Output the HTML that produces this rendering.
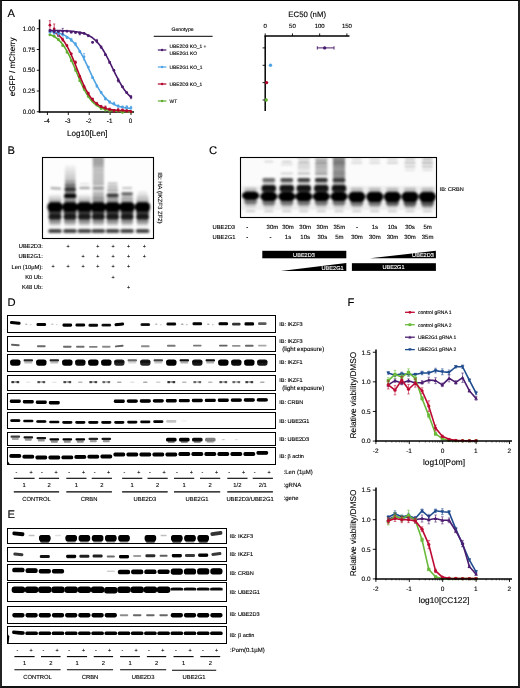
<!DOCTYPE html>
<html><head><meta charset="utf-8"><title>Figure</title>
<style>
html,body{margin:0;padding:0;background:#fff;}
body{width:520px;height:688px;overflow:hidden;position:relative;}
svg{position:absolute;left:0;top:0;display:block;font-family:"Liberation Sans", Arial, sans-serif;}
svg text{text-rendering:geometricPrecision;stroke:#000;stroke-width:0.12px;}
svg text.w{stroke:#fff;}
svg line.cr{shape-rendering:crispEdges;}
#frame{position:absolute;left:0;top:0;box-sizing:border-box;width:520px;height:688px;border-style:solid;border-color:#000;border-width:1px 2px 2px 2px;border-color:#000 #222 #111 #222;}
</style></head><body>
<svg width="520" height="688" viewBox="0 0 520 688">
<defs>
<clipPath id="c1"><rect x="42.00" y="157.50" width="111.00" height="80.80"/></clipPath>
<clipPath id="c2"><rect x="240.20" y="157.30" width="196.20" height="60.50"/></clipPath>
<clipPath id="c3"><rect x="7.30" y="315.60" width="267.80" height="16.90"/></clipPath>
<clipPath id="c4"><rect x="7.30" y="336.70" width="267.80" height="14.50"/></clipPath>
<clipPath id="c5"><rect x="7.30" y="354.60" width="267.80" height="16.70"/></clipPath>
<clipPath id="c6"><rect x="7.30" y="375.20" width="267.80" height="15.10"/></clipPath>
<clipPath id="c7"><rect x="7.30" y="393.70" width="267.80" height="15.30"/></clipPath>
<clipPath id="c8"><rect x="7.30" y="412.50" width="267.80" height="16.30"/></clipPath>
<clipPath id="c9"><rect x="7.30" y="432.10" width="267.80" height="12.90"/></clipPath>
<clipPath id="c10"><rect x="7.30" y="447.50" width="267.80" height="17.30"/></clipPath>
<clipPath id="c11"><rect x="7.80" y="528.10" width="218.80" height="15.30"/></clipPath>
<clipPath id="c12"><rect x="7.80" y="547.40" width="218.80" height="14.40"/></clipPath>
<clipPath id="c13"><rect x="7.80" y="564.10" width="218.80" height="15.90"/></clipPath>
<clipPath id="c14"><rect x="7.80" y="582.90" width="218.80" height="18.70"/></clipPath>
<clipPath id="c15"><rect x="7.80" y="606.00" width="218.80" height="17.30"/></clipPath>
<clipPath id="c16"><rect x="7.80" y="626.10" width="218.80" height="17.30"/></clipPath>
<linearGradient id="gB1" x1="0" y1="0" x2="0" y2="1"><stop offset="0" stop-color="#000" stop-opacity="0.03"/><stop offset="0.5" stop-color="#000" stop-opacity="0.22"/><stop offset="1" stop-color="#000" stop-opacity="0.5"/></linearGradient>
<linearGradient id="gB3" x1="0" y1="0" x2="0" y2="1"><stop offset="0" stop-color="#000" stop-opacity="0.0"/><stop offset="0.6" stop-color="#000" stop-opacity="0.22"/><stop offset="1" stop-color="#000" stop-opacity="0.5"/></linearGradient>
<linearGradient id="gB2" x1="0" y1="0" x2="0" y2="1"><stop offset="0" stop-color="#000" stop-opacity="0.3"/><stop offset="0.35" stop-color="#000" stop-opacity="0.14"/><stop offset="1" stop-color="#000" stop-opacity="0.2"/></linearGradient>
<filter id="b5" x="-5%" y="-5%" width="110%" height="110%"><feGaussianBlur stdDeviation="0.5"/></filter>
<filter id="b6" x="-5%" y="-5%" width="110%" height="110%"><feGaussianBlur stdDeviation="0.6"/></filter>
<filter id="b7" x="-5%" y="-5%" width="110%" height="110%"><feGaussianBlur stdDeviation="0.7"/></filter>
<filter id="b8" x="-5%" y="-5%" width="110%" height="110%"><feGaussianBlur stdDeviation="0.8"/></filter>
<filter id="b9" x="-5%" y="-5%" width="110%" height="110%"><feGaussianBlur stdDeviation="0.9"/></filter>
<filter id="b10" x="-5%" y="-5%" width="110%" height="110%"><feGaussianBlur stdDeviation="1.0"/></filter>
</defs>
<rect x="0" y="0" width="520" height="688" fill="#fff"/>
<text x="7.60" y="17.40" font-size="11.2" text-anchor="start" fill="#000">A</text>
<text x="7.40" y="154.00" font-size="11.2" text-anchor="start" fill="#000">B</text>
<text x="209.00" y="154.30" font-size="11.2" text-anchor="start" fill="#000">C</text>
<text x="7.40" y="306.20" font-size="11.2" text-anchor="start" fill="#000">D</text>
<text x="7.60" y="518.40" font-size="11.2" text-anchor="start" fill="#000">E</text>
<text x="347.50" y="306.30" font-size="11.2" text-anchor="start" fill="#000">F</text>
<line x1="39.50" y1="19.50" x2="39.50" y2="112.60" stroke="#000" stroke-width="1.5"/>
<line x1="38.80" y1="111.90" x2="134.00" y2="111.90" stroke="#000" stroke-width="1.5"/>
<line x1="36.80" y1="28.75" x2="39.50" y2="28.75" stroke="#000" stroke-width="0.9"/>
<text x="34.90" y="30.95" font-size="6.3" text-anchor="end" fill="#000">1.00</text>
<line x1="36.80" y1="49.50" x2="39.50" y2="49.50" stroke="#000" stroke-width="0.9"/>
<text x="34.90" y="51.70" font-size="6.3" text-anchor="end" fill="#000">0.75</text>
<line x1="36.80" y1="70.25" x2="39.50" y2="70.25" stroke="#000" stroke-width="0.9"/>
<text x="34.90" y="72.45" font-size="6.3" text-anchor="end" fill="#000">0.50</text>
<line x1="36.80" y1="91.00" x2="39.50" y2="91.00" stroke="#000" stroke-width="0.9"/>
<text x="34.90" y="93.20" font-size="6.3" text-anchor="end" fill="#000">0.25</text>
<line x1="36.80" y1="111.75" x2="39.50" y2="111.75" stroke="#000" stroke-width="0.9"/>
<text x="34.90" y="113.95" font-size="6.3" text-anchor="end" fill="#000">0.00</text>
<line x1="47.40" y1="111.90" x2="47.40" y2="115.00" stroke="#000" stroke-width="0.9"/>
<text x="46.90" y="122.80" font-size="6.3" text-anchor="middle" fill="#000">-4</text>
<line x1="68.30" y1="111.90" x2="68.30" y2="115.00" stroke="#000" stroke-width="0.9"/>
<text x="67.80" y="122.80" font-size="6.3" text-anchor="middle" fill="#000">-3</text>
<line x1="89.20" y1="111.90" x2="89.20" y2="115.00" stroke="#000" stroke-width="0.9"/>
<text x="88.70" y="122.80" font-size="6.3" text-anchor="middle" fill="#000">-2</text>
<line x1="110.10" y1="111.90" x2="110.10" y2="115.00" stroke="#000" stroke-width="0.9"/>
<text x="109.60" y="122.80" font-size="6.3" text-anchor="middle" fill="#000">-1</text>
<line x1="131.00" y1="111.90" x2="131.00" y2="115.00" stroke="#000" stroke-width="0.9"/>
<text x="130.50" y="122.80" font-size="6.3" text-anchor="middle" fill="#000">0</text>
<text x="87.20" y="135.90" font-size="8.1" text-anchor="middle" fill="#000">Log10[Len]</text>
<text x="14.60" y="66.80" font-size="8.1" text-anchor="middle" fill="#000" transform="rotate(-90 14.60 66.80)">eGFP / mCherry</text>
<path d="M49.49,34.36 L50.53,34.75 L51.58,35.20 L52.62,35.70 L53.67,36.26 L54.71,36.88 L55.76,37.58 L56.80,38.35 L57.85,39.21 L58.89,40.16 L59.94,41.20 L60.98,42.35 L62.03,43.61 L63.07,44.98 L64.12,46.47 L65.16,48.08 L66.21,49.81 L67.25,51.66 L68.30,53.63 L69.34,55.72 L70.39,57.91 L71.43,60.19 L72.48,62.55 L73.52,64.99 L74.57,67.47 L75.61,69.98 L76.66,72.51 L77.70,75.02 L78.75,77.51 L79.79,79.95 L80.84,82.33 L81.88,84.64 L82.93,86.84 L83.97,88.95 L85.02,90.94 L86.06,92.82 L87.11,94.58 L88.15,96.21 L89.20,97.72 L90.24,99.12 L91.29,100.40 L92.33,101.57 L93.38,102.63 L94.42,103.60 L95.47,104.47 L96.51,105.26 L97.56,105.97 L98.60,106.61 L99.65,107.18 L100.69,107.69 L101.74,108.15 L102.78,108.56 L103.83,108.92 L104.87,109.24 L105.92,109.53 L106.96,109.79 L108.01,110.01 L109.05,110.21 L110.10,110.39 L111.14,110.55 L112.19,110.69 L113.23,110.81 L114.28,110.92 L115.32,111.02 L116.37,111.11 L117.41,111.18 L118.46,111.25 L119.50,111.31 L120.55,111.36 L121.59,111.40 L122.64,111.44 L123.68,111.48 L124.73,111.51 L125.77,111.54 L126.82,111.57 L127.86,111.59 L128.91,111.61 L129.95,111.62 L131.00,111.64" fill="none" stroke="#5fae2e" stroke-width="1.6" stroke-linejoin="round"/>
<line x1="49.91" y1="35.53" x2="49.91" y2="34.19" stroke="#5fae2e" stroke-width="0.7"/>
<line x1="48.81" y1="35.53" x2="51.01" y2="35.53" stroke="#5fae2e" stroke-width="0.6"/>
<line x1="48.81" y1="34.19" x2="51.01" y2="34.19" stroke="#5fae2e" stroke-width="0.6"/>
<circle cx="49.91" cy="34.86" r="1.35" fill="#5fae2e"/>
<line x1="54.18" y1="36.84" x2="54.18" y2="35.67" stroke="#5fae2e" stroke-width="0.7"/>
<line x1="53.08" y1="36.84" x2="55.28" y2="36.84" stroke="#5fae2e" stroke-width="0.6"/>
<line x1="53.08" y1="35.67" x2="55.28" y2="35.67" stroke="#5fae2e" stroke-width="0.6"/>
<circle cx="54.18" cy="36.25" r="1.35" fill="#5fae2e"/>
<line x1="58.44" y1="40.59" x2="58.44" y2="38.74" stroke="#5fae2e" stroke-width="0.7"/>
<line x1="57.34" y1="40.59" x2="59.54" y2="40.59" stroke="#5fae2e" stroke-width="0.6"/>
<line x1="57.34" y1="38.74" x2="59.54" y2="38.74" stroke="#5fae2e" stroke-width="0.6"/>
<circle cx="58.44" cy="39.66" r="1.35" fill="#5fae2e"/>
<line x1="62.71" y1="46.46" x2="62.71" y2="44.28" stroke="#5fae2e" stroke-width="0.7"/>
<line x1="61.61" y1="46.46" x2="63.81" y2="46.46" stroke="#5fae2e" stroke-width="0.6"/>
<line x1="61.61" y1="44.28" x2="63.81" y2="44.28" stroke="#5fae2e" stroke-width="0.6"/>
<circle cx="62.71" cy="45.37" r="1.35" fill="#5fae2e"/>
<line x1="66.98" y1="53.09" x2="66.98" y2="51.08" stroke="#5fae2e" stroke-width="0.7"/>
<line x1="65.88" y1="53.09" x2="68.08" y2="53.09" stroke="#5fae2e" stroke-width="0.6"/>
<line x1="65.88" y1="51.08" x2="68.08" y2="51.08" stroke="#5fae2e" stroke-width="0.6"/>
<circle cx="66.98" cy="52.08" r="1.35" fill="#5fae2e"/>
<line x1="71.25" y1="61.23" x2="71.25" y2="60.03" stroke="#5fae2e" stroke-width="0.7"/>
<line x1="70.15" y1="61.23" x2="72.35" y2="61.23" stroke="#5fae2e" stroke-width="0.6"/>
<line x1="70.15" y1="60.03" x2="72.35" y2="60.03" stroke="#5fae2e" stroke-width="0.6"/>
<circle cx="71.25" cy="60.63" r="1.35" fill="#5fae2e"/>
<line x1="75.52" y1="71.35" x2="75.52" y2="68.43" stroke="#5fae2e" stroke-width="0.7"/>
<line x1="74.42" y1="71.35" x2="76.62" y2="71.35" stroke="#5fae2e" stroke-width="0.6"/>
<line x1="74.42" y1="68.43" x2="76.62" y2="68.43" stroke="#5fae2e" stroke-width="0.6"/>
<circle cx="75.52" cy="69.89" r="1.35" fill="#5fae2e"/>
<line x1="79.78" y1="81.44" x2="79.78" y2="79.92" stroke="#5fae2e" stroke-width="0.7"/>
<line x1="78.68" y1="81.44" x2="80.88" y2="81.44" stroke="#5fae2e" stroke-width="0.6"/>
<line x1="78.68" y1="79.92" x2="80.88" y2="79.92" stroke="#5fae2e" stroke-width="0.6"/>
<circle cx="79.78" cy="80.68" r="1.35" fill="#5fae2e"/>
<line x1="84.05" y1="90.45" x2="84.05" y2="87.25" stroke="#5fae2e" stroke-width="0.7"/>
<line x1="82.95" y1="90.45" x2="85.15" y2="90.45" stroke="#5fae2e" stroke-width="0.6"/>
<line x1="82.95" y1="87.25" x2="85.15" y2="87.25" stroke="#5fae2e" stroke-width="0.6"/>
<circle cx="84.05" cy="88.85" r="1.35" fill="#5fae2e"/>
<line x1="88.32" y1="97.26" x2="88.32" y2="95.35" stroke="#5fae2e" stroke-width="0.7"/>
<line x1="87.22" y1="97.26" x2="89.42" y2="97.26" stroke="#5fae2e" stroke-width="0.6"/>
<line x1="87.22" y1="95.35" x2="89.42" y2="95.35" stroke="#5fae2e" stroke-width="0.6"/>
<circle cx="88.32" cy="96.30" r="1.35" fill="#5fae2e"/>
<line x1="92.59" y1="101.44" x2="92.59" y2="100.33" stroke="#5fae2e" stroke-width="0.7"/>
<line x1="91.49" y1="101.44" x2="93.69" y2="101.44" stroke="#5fae2e" stroke-width="0.6"/>
<line x1="91.49" y1="100.33" x2="93.69" y2="100.33" stroke="#5fae2e" stroke-width="0.6"/>
<circle cx="92.59" cy="100.89" r="1.35" fill="#5fae2e"/>
<line x1="96.86" y1="105.62" x2="96.86" y2="103.95" stroke="#5fae2e" stroke-width="0.7"/>
<line x1="95.76" y1="105.62" x2="97.96" y2="105.62" stroke="#5fae2e" stroke-width="0.6"/>
<line x1="95.76" y1="103.95" x2="97.96" y2="103.95" stroke="#5fae2e" stroke-width="0.6"/>
<circle cx="96.86" cy="104.79" r="1.35" fill="#5fae2e"/>
<line x1="101.12" y1="109.23" x2="101.12" y2="107.96" stroke="#5fae2e" stroke-width="0.7"/>
<line x1="100.02" y1="109.23" x2="102.22" y2="109.23" stroke="#5fae2e" stroke-width="0.6"/>
<line x1="100.02" y1="107.96" x2="102.22" y2="107.96" stroke="#5fae2e" stroke-width="0.6"/>
<circle cx="101.12" cy="108.60" r="1.35" fill="#5fae2e"/>
<line x1="105.39" y1="111.22" x2="105.39" y2="108.33" stroke="#5fae2e" stroke-width="0.7"/>
<line x1="104.29" y1="111.22" x2="106.49" y2="111.22" stroke="#5fae2e" stroke-width="0.6"/>
<line x1="104.29" y1="108.33" x2="106.49" y2="108.33" stroke="#5fae2e" stroke-width="0.6"/>
<circle cx="105.39" cy="109.77" r="1.35" fill="#5fae2e"/>
<line x1="109.66" y1="112.13" x2="109.66" y2="109.78" stroke="#5fae2e" stroke-width="0.7"/>
<line x1="108.56" y1="112.13" x2="110.76" y2="112.13" stroke="#5fae2e" stroke-width="0.6"/>
<line x1="108.56" y1="109.78" x2="110.76" y2="109.78" stroke="#5fae2e" stroke-width="0.6"/>
<circle cx="109.66" cy="110.96" r="1.35" fill="#5fae2e"/>
<line x1="113.93" y1="111.54" x2="113.93" y2="109.68" stroke="#5fae2e" stroke-width="0.7"/>
<line x1="112.83" y1="111.54" x2="115.03" y2="111.54" stroke="#5fae2e" stroke-width="0.6"/>
<line x1="112.83" y1="109.68" x2="115.03" y2="109.68" stroke="#5fae2e" stroke-width="0.6"/>
<circle cx="113.93" cy="110.61" r="1.35" fill="#5fae2e"/>
<line x1="118.20" y1="111.71" x2="118.20" y2="110.57" stroke="#5fae2e" stroke-width="0.7"/>
<line x1="117.10" y1="111.71" x2="119.30" y2="111.71" stroke="#5fae2e" stroke-width="0.6"/>
<line x1="117.10" y1="110.57" x2="119.30" y2="110.57" stroke="#5fae2e" stroke-width="0.6"/>
<circle cx="118.20" cy="111.14" r="1.35" fill="#5fae2e"/>
<line x1="122.46" y1="113.05" x2="122.46" y2="111.58" stroke="#5fae2e" stroke-width="0.7"/>
<line x1="121.36" y1="113.05" x2="123.56" y2="113.05" stroke="#5fae2e" stroke-width="0.6"/>
<line x1="121.36" y1="111.58" x2="123.56" y2="111.58" stroke="#5fae2e" stroke-width="0.6"/>
<circle cx="122.46" cy="112.32" r="1.35" fill="#5fae2e"/>
<line x1="126.73" y1="112.20" x2="126.73" y2="110.21" stroke="#5fae2e" stroke-width="0.7"/>
<line x1="125.63" y1="112.20" x2="127.83" y2="112.20" stroke="#5fae2e" stroke-width="0.6"/>
<line x1="125.63" y1="110.21" x2="127.83" y2="110.21" stroke="#5fae2e" stroke-width="0.6"/>
<circle cx="126.73" cy="111.20" r="1.35" fill="#5fae2e"/>
<line x1="131.00" y1="113.19" x2="131.00" y2="110.83" stroke="#5fae2e" stroke-width="0.7"/>
<line x1="129.90" y1="113.19" x2="132.10" y2="113.19" stroke="#5fae2e" stroke-width="0.6"/>
<line x1="129.90" y1="110.83" x2="132.10" y2="110.83" stroke="#5fae2e" stroke-width="0.6"/>
<circle cx="131.00" cy="112.01" r="1.35" fill="#5fae2e"/>
<path d="M49.49,29.95 L50.53,30.32 L51.58,30.74 L52.62,31.21 L53.67,31.73 L54.71,32.32 L55.76,32.98 L56.80,33.71 L57.85,34.52 L58.89,35.43 L59.94,36.43 L60.98,37.53 L62.03,38.74 L63.07,40.07 L64.12,41.52 L65.16,43.10 L66.21,44.80 L67.25,46.64 L68.30,48.60 L69.34,50.69 L70.39,52.89 L71.43,55.21 L72.48,57.62 L73.52,60.12 L74.57,62.68 L75.61,65.30 L76.66,67.94 L77.70,70.60 L78.75,73.24 L79.79,75.84 L80.84,78.40 L81.88,80.88 L82.93,83.27 L83.97,85.57 L85.02,87.75 L86.06,89.81 L87.11,91.75 L88.15,93.56 L89.20,95.24 L90.24,96.79 L91.29,98.21 L92.33,99.52 L93.38,100.71 L94.42,101.79 L95.47,102.77 L96.51,103.66 L97.56,104.46 L98.60,105.17 L99.65,105.81 L100.69,106.39 L101.74,106.90 L102.78,107.36 L103.83,107.77 L104.87,108.13 L105.92,108.45 L106.96,108.74 L108.01,108.99 L109.05,109.22 L110.10,109.42 L111.14,109.59 L112.19,109.75 L113.23,109.88 L114.28,110.01 L115.32,110.11 L116.37,110.21 L117.41,110.29 L118.46,110.37 L119.50,110.43 L120.55,110.49 L121.59,110.54 L122.64,110.59 L123.68,110.63 L124.73,110.66 L125.77,110.69 L126.82,110.72 L127.86,110.74 L128.91,110.76 L129.95,110.78 L131.00,110.80" fill="none" stroke="#b3062c" stroke-width="1.6" stroke-linejoin="round"/>
<line x1="49.91" y1="29.77" x2="49.91" y2="20.64" stroke="#b3062c" stroke-width="0.7"/>
<line x1="48.81" y1="29.77" x2="51.01" y2="29.77" stroke="#b3062c" stroke-width="0.6"/>
<line x1="48.81" y1="20.64" x2="51.01" y2="20.64" stroke="#b3062c" stroke-width="0.6"/>
<circle cx="49.91" cy="25.21" r="1.35" fill="#b3062c"/>
<line x1="54.18" y1="33.91" x2="54.18" y2="23.95" stroke="#b3062c" stroke-width="0.7"/>
<line x1="53.08" y1="33.91" x2="55.28" y2="33.91" stroke="#b3062c" stroke-width="0.6"/>
<line x1="53.08" y1="23.95" x2="55.28" y2="23.95" stroke="#b3062c" stroke-width="0.6"/>
<circle cx="54.18" cy="28.93" r="1.35" fill="#b3062c"/>
<line x1="58.44" y1="36.70" x2="58.44" y2="34.37" stroke="#b3062c" stroke-width="0.7"/>
<line x1="57.34" y1="36.70" x2="59.54" y2="36.70" stroke="#b3062c" stroke-width="0.6"/>
<line x1="57.34" y1="34.37" x2="59.54" y2="34.37" stroke="#b3062c" stroke-width="0.6"/>
<circle cx="58.44" cy="35.53" r="1.35" fill="#b3062c"/>
<line x1="62.71" y1="41.06" x2="62.71" y2="38.03" stroke="#b3062c" stroke-width="0.7"/>
<line x1="61.61" y1="41.06" x2="63.81" y2="41.06" stroke="#b3062c" stroke-width="0.6"/>
<line x1="61.61" y1="38.03" x2="63.81" y2="38.03" stroke="#b3062c" stroke-width="0.6"/>
<circle cx="62.71" cy="39.55" r="1.35" fill="#b3062c"/>
<line x1="66.98" y1="46.52" x2="66.98" y2="44.85" stroke="#b3062c" stroke-width="0.7"/>
<line x1="65.88" y1="46.52" x2="68.08" y2="46.52" stroke="#b3062c" stroke-width="0.6"/>
<line x1="65.88" y1="44.85" x2="68.08" y2="44.85" stroke="#b3062c" stroke-width="0.6"/>
<circle cx="66.98" cy="45.69" r="1.35" fill="#b3062c"/>
<line x1="71.25" y1="54.46" x2="71.25" y2="53.19" stroke="#b3062c" stroke-width="0.7"/>
<line x1="70.15" y1="54.46" x2="72.35" y2="54.46" stroke="#b3062c" stroke-width="0.6"/>
<line x1="70.15" y1="53.19" x2="72.35" y2="53.19" stroke="#b3062c" stroke-width="0.6"/>
<circle cx="71.25" cy="53.83" r="1.35" fill="#b3062c"/>
<line x1="75.52" y1="63.69" x2="75.52" y2="60.93" stroke="#b3062c" stroke-width="0.7"/>
<line x1="74.42" y1="63.69" x2="76.62" y2="63.69" stroke="#b3062c" stroke-width="0.6"/>
<line x1="74.42" y1="60.93" x2="76.62" y2="60.93" stroke="#b3062c" stroke-width="0.6"/>
<circle cx="75.52" cy="62.31" r="1.35" fill="#b3062c"/>
<line x1="79.78" y1="77.58" x2="79.78" y2="75.44" stroke="#b3062c" stroke-width="0.7"/>
<line x1="78.68" y1="77.58" x2="80.88" y2="77.58" stroke="#b3062c" stroke-width="0.6"/>
<line x1="78.68" y1="75.44" x2="80.88" y2="75.44" stroke="#b3062c" stroke-width="0.6"/>
<circle cx="79.78" cy="76.51" r="1.35" fill="#b3062c"/>
<line x1="84.05" y1="87.93" x2="84.05" y2="85.38" stroke="#b3062c" stroke-width="0.7"/>
<line x1="82.95" y1="87.93" x2="85.15" y2="87.93" stroke="#b3062c" stroke-width="0.6"/>
<line x1="82.95" y1="85.38" x2="85.15" y2="85.38" stroke="#b3062c" stroke-width="0.6"/>
<circle cx="84.05" cy="86.65" r="1.35" fill="#b3062c"/>
<line x1="88.32" y1="94.47" x2="88.32" y2="92.14" stroke="#b3062c" stroke-width="0.7"/>
<line x1="87.22" y1="94.47" x2="89.42" y2="94.47" stroke="#b3062c" stroke-width="0.6"/>
<line x1="87.22" y1="92.14" x2="89.42" y2="92.14" stroke="#b3062c" stroke-width="0.6"/>
<circle cx="88.32" cy="93.30" r="1.35" fill="#b3062c"/>
<line x1="92.59" y1="99.93" x2="92.59" y2="98.21" stroke="#b3062c" stroke-width="0.7"/>
<line x1="91.49" y1="99.93" x2="93.69" y2="99.93" stroke="#b3062c" stroke-width="0.6"/>
<line x1="91.49" y1="98.21" x2="93.69" y2="98.21" stroke="#b3062c" stroke-width="0.6"/>
<circle cx="92.59" cy="99.07" r="1.35" fill="#b3062c"/>
<line x1="96.86" y1="104.73" x2="96.86" y2="102.35" stroke="#b3062c" stroke-width="0.7"/>
<line x1="95.76" y1="104.73" x2="97.96" y2="104.73" stroke="#b3062c" stroke-width="0.6"/>
<line x1="95.76" y1="102.35" x2="97.96" y2="102.35" stroke="#b3062c" stroke-width="0.6"/>
<circle cx="96.86" cy="103.54" r="1.35" fill="#b3062c"/>
<line x1="101.12" y1="107.48" x2="101.12" y2="105.42" stroke="#b3062c" stroke-width="0.7"/>
<line x1="100.02" y1="107.48" x2="102.22" y2="107.48" stroke="#b3062c" stroke-width="0.6"/>
<line x1="100.02" y1="105.42" x2="102.22" y2="105.42" stroke="#b3062c" stroke-width="0.6"/>
<circle cx="101.12" cy="106.45" r="1.35" fill="#b3062c"/>
<line x1="105.39" y1="109.21" x2="105.39" y2="106.02" stroke="#b3062c" stroke-width="0.7"/>
<line x1="104.29" y1="109.21" x2="106.49" y2="109.21" stroke="#b3062c" stroke-width="0.6"/>
<line x1="104.29" y1="106.02" x2="106.49" y2="106.02" stroke="#b3062c" stroke-width="0.6"/>
<circle cx="105.39" cy="107.62" r="1.35" fill="#b3062c"/>
<line x1="109.66" y1="110.66" x2="109.66" y2="108.12" stroke="#b3062c" stroke-width="0.7"/>
<line x1="108.56" y1="110.66" x2="110.76" y2="110.66" stroke="#b3062c" stroke-width="0.6"/>
<line x1="108.56" y1="108.12" x2="110.76" y2="108.12" stroke="#b3062c" stroke-width="0.6"/>
<circle cx="109.66" cy="109.39" r="1.35" fill="#b3062c"/>
<line x1="113.93" y1="112.16" x2="113.93" y2="109.53" stroke="#b3062c" stroke-width="0.7"/>
<line x1="112.83" y1="112.16" x2="115.03" y2="112.16" stroke="#b3062c" stroke-width="0.6"/>
<line x1="112.83" y1="109.53" x2="115.03" y2="109.53" stroke="#b3062c" stroke-width="0.6"/>
<circle cx="113.93" cy="110.84" r="1.35" fill="#b3062c"/>
<line x1="118.20" y1="111.71" x2="118.20" y2="108.40" stroke="#b3062c" stroke-width="0.7"/>
<line x1="117.10" y1="111.71" x2="119.30" y2="111.71" stroke="#b3062c" stroke-width="0.6"/>
<line x1="117.10" y1="108.40" x2="119.30" y2="108.40" stroke="#b3062c" stroke-width="0.6"/>
<circle cx="118.20" cy="110.06" r="1.35" fill="#b3062c"/>
<line x1="122.46" y1="110.77" x2="122.46" y2="109.11" stroke="#b3062c" stroke-width="0.7"/>
<line x1="121.36" y1="110.77" x2="123.56" y2="110.77" stroke="#b3062c" stroke-width="0.6"/>
<line x1="121.36" y1="109.11" x2="123.56" y2="109.11" stroke="#b3062c" stroke-width="0.6"/>
<circle cx="122.46" cy="109.94" r="1.35" fill="#b3062c"/>
<line x1="126.73" y1="112.22" x2="126.73" y2="109.67" stroke="#b3062c" stroke-width="0.7"/>
<line x1="125.63" y1="112.22" x2="127.83" y2="112.22" stroke="#b3062c" stroke-width="0.6"/>
<line x1="125.63" y1="109.67" x2="127.83" y2="109.67" stroke="#b3062c" stroke-width="0.6"/>
<circle cx="126.73" cy="110.94" r="1.35" fill="#b3062c"/>
<line x1="131.00" y1="112.78" x2="131.00" y2="110.72" stroke="#b3062c" stroke-width="0.7"/>
<line x1="129.90" y1="112.78" x2="132.10" y2="112.78" stroke="#b3062c" stroke-width="0.6"/>
<line x1="129.90" y1="110.72" x2="132.10" y2="110.72" stroke="#b3062c" stroke-width="0.6"/>
<circle cx="131.00" cy="111.75" r="1.35" fill="#b3062c"/>
<path d="M49.49,31.39 L50.53,31.51 L51.58,31.64 L52.62,31.79 L53.67,31.95 L54.71,32.14 L55.76,32.34 L56.80,32.57 L57.85,32.83 L58.89,33.11 L59.94,33.43 L60.98,33.78 L62.03,34.17 L63.07,34.61 L64.12,35.09 L65.16,35.62 L66.21,36.21 L67.25,36.86 L68.30,37.58 L69.34,38.36 L70.39,39.23 L71.43,40.17 L72.48,41.20 L73.52,42.31 L74.57,43.53 L75.61,44.83 L76.66,46.24 L77.70,47.75 L78.75,49.35 L79.79,51.06 L80.84,52.86 L81.88,54.76 L82.93,56.73 L83.97,58.79 L85.02,60.91 L86.06,63.09 L87.11,65.32 L88.15,67.57 L89.20,69.83 L90.24,72.10 L91.29,74.35 L92.33,76.58 L93.38,78.76 L94.42,80.88 L95.47,82.94 L96.51,84.91 L97.56,86.81 L98.60,88.61 L99.65,90.32 L100.69,91.92 L101.74,93.43 L102.78,94.84 L103.83,96.14 L104.87,97.36 L105.92,98.47 L106.96,99.50 L108.01,100.44 L109.05,101.31 L110.10,102.09 L111.14,102.81 L112.19,103.46 L113.23,104.05 L114.28,104.58 L115.32,105.06 L116.37,105.50 L117.41,105.89 L118.46,106.24 L119.50,106.56 L120.55,106.84 L121.59,107.10 L122.64,107.33 L123.68,107.53 L124.73,107.72 L125.77,107.88 L126.82,108.03 L127.86,108.16 L128.91,108.28 L129.95,108.39 L131.00,108.48" fill="none" stroke="#4fa3e3" stroke-width="1.6" stroke-linejoin="round"/>
<line x1="49.91" y1="32.73" x2="49.91" y2="31.46" stroke="#4fa3e3" stroke-width="0.7"/>
<line x1="48.81" y1="32.73" x2="51.01" y2="32.73" stroke="#4fa3e3" stroke-width="0.6"/>
<line x1="48.81" y1="31.46" x2="51.01" y2="31.46" stroke="#4fa3e3" stroke-width="0.6"/>
<circle cx="49.91" cy="32.10" r="1.35" fill="#4fa3e3"/>
<line x1="54.18" y1="34.31" x2="54.18" y2="31.53" stroke="#4fa3e3" stroke-width="0.7"/>
<line x1="53.08" y1="34.31" x2="55.28" y2="34.31" stroke="#4fa3e3" stroke-width="0.6"/>
<line x1="53.08" y1="31.53" x2="55.28" y2="31.53" stroke="#4fa3e3" stroke-width="0.6"/>
<circle cx="54.18" cy="32.92" r="1.35" fill="#4fa3e3"/>
<line x1="58.44" y1="36.21" x2="58.44" y2="31.23" stroke="#4fa3e3" stroke-width="0.7"/>
<line x1="57.34" y1="36.21" x2="59.54" y2="36.21" stroke="#4fa3e3" stroke-width="0.6"/>
<line x1="57.34" y1="31.23" x2="59.54" y2="31.23" stroke="#4fa3e3" stroke-width="0.6"/>
<circle cx="58.44" cy="33.72" r="1.35" fill="#4fa3e3"/>
<line x1="62.71" y1="36.18" x2="62.71" y2="33.16" stroke="#4fa3e3" stroke-width="0.7"/>
<line x1="61.61" y1="36.18" x2="63.81" y2="36.18" stroke="#4fa3e3" stroke-width="0.6"/>
<line x1="61.61" y1="33.16" x2="63.81" y2="33.16" stroke="#4fa3e3" stroke-width="0.6"/>
<circle cx="62.71" cy="34.67" r="1.35" fill="#4fa3e3"/>
<line x1="66.98" y1="38.54" x2="66.98" y2="36.50" stroke="#4fa3e3" stroke-width="0.7"/>
<line x1="65.88" y1="38.54" x2="68.08" y2="38.54" stroke="#4fa3e3" stroke-width="0.6"/>
<line x1="65.88" y1="36.50" x2="68.08" y2="36.50" stroke="#4fa3e3" stroke-width="0.6"/>
<circle cx="66.98" cy="37.52" r="1.35" fill="#4fa3e3"/>
<line x1="71.25" y1="41.42" x2="71.25" y2="38.37" stroke="#4fa3e3" stroke-width="0.7"/>
<line x1="70.15" y1="41.42" x2="72.35" y2="41.42" stroke="#4fa3e3" stroke-width="0.6"/>
<line x1="70.15" y1="38.37" x2="72.35" y2="38.37" stroke="#4fa3e3" stroke-width="0.6"/>
<circle cx="71.25" cy="39.90" r="1.35" fill="#4fa3e3"/>
<line x1="75.52" y1="45.57" x2="75.52" y2="42.57" stroke="#4fa3e3" stroke-width="0.7"/>
<line x1="74.42" y1="45.57" x2="76.62" y2="45.57" stroke="#4fa3e3" stroke-width="0.6"/>
<line x1="74.42" y1="42.57" x2="76.62" y2="42.57" stroke="#4fa3e3" stroke-width="0.6"/>
<circle cx="75.52" cy="44.07" r="1.35" fill="#4fa3e3"/>
<line x1="79.78" y1="52.46" x2="79.78" y2="50.50" stroke="#4fa3e3" stroke-width="0.7"/>
<line x1="78.68" y1="52.46" x2="80.88" y2="52.46" stroke="#4fa3e3" stroke-width="0.6"/>
<line x1="78.68" y1="50.50" x2="80.88" y2="50.50" stroke="#4fa3e3" stroke-width="0.6"/>
<circle cx="79.78" cy="51.48" r="1.35" fill="#4fa3e3"/>
<line x1="84.05" y1="60.06" x2="84.05" y2="53.42" stroke="#4fa3e3" stroke-width="0.7"/>
<line x1="82.95" y1="60.06" x2="85.15" y2="60.06" stroke="#4fa3e3" stroke-width="0.6"/>
<line x1="82.95" y1="53.42" x2="85.15" y2="53.42" stroke="#4fa3e3" stroke-width="0.6"/>
<circle cx="84.05" cy="56.74" r="1.35" fill="#4fa3e3"/>
<line x1="88.32" y1="67.69" x2="88.32" y2="66.34" stroke="#4fa3e3" stroke-width="0.7"/>
<line x1="87.22" y1="67.69" x2="89.42" y2="67.69" stroke="#4fa3e3" stroke-width="0.6"/>
<line x1="87.22" y1="66.34" x2="89.42" y2="66.34" stroke="#4fa3e3" stroke-width="0.6"/>
<circle cx="88.32" cy="67.01" r="1.35" fill="#4fa3e3"/>
<line x1="92.59" y1="78.52" x2="92.59" y2="76.99" stroke="#4fa3e3" stroke-width="0.7"/>
<line x1="91.49" y1="78.52" x2="93.69" y2="78.52" stroke="#4fa3e3" stroke-width="0.6"/>
<line x1="91.49" y1="76.99" x2="93.69" y2="76.99" stroke="#4fa3e3" stroke-width="0.6"/>
<circle cx="92.59" cy="77.75" r="1.35" fill="#4fa3e3"/>
<line x1="96.86" y1="87.13" x2="96.86" y2="85.01" stroke="#4fa3e3" stroke-width="0.7"/>
<line x1="95.76" y1="87.13" x2="97.96" y2="87.13" stroke="#4fa3e3" stroke-width="0.6"/>
<line x1="95.76" y1="85.01" x2="97.96" y2="85.01" stroke="#4fa3e3" stroke-width="0.6"/>
<circle cx="96.86" cy="86.07" r="1.35" fill="#4fa3e3"/>
<line x1="101.12" y1="93.18" x2="101.12" y2="91.57" stroke="#4fa3e3" stroke-width="0.7"/>
<line x1="100.02" y1="93.18" x2="102.22" y2="93.18" stroke="#4fa3e3" stroke-width="0.6"/>
<line x1="100.02" y1="91.57" x2="102.22" y2="91.57" stroke="#4fa3e3" stroke-width="0.6"/>
<circle cx="101.12" cy="92.38" r="1.35" fill="#4fa3e3"/>
<line x1="105.39" y1="99.89" x2="105.39" y2="97.92" stroke="#4fa3e3" stroke-width="0.7"/>
<line x1="104.29" y1="99.89" x2="106.49" y2="99.89" stroke="#4fa3e3" stroke-width="0.6"/>
<line x1="104.29" y1="97.92" x2="106.49" y2="97.92" stroke="#4fa3e3" stroke-width="0.6"/>
<circle cx="105.39" cy="98.91" r="1.35" fill="#4fa3e3"/>
<line x1="109.66" y1="103.19" x2="109.66" y2="100.87" stroke="#4fa3e3" stroke-width="0.7"/>
<line x1="108.56" y1="103.19" x2="110.76" y2="103.19" stroke="#4fa3e3" stroke-width="0.6"/>
<line x1="108.56" y1="100.87" x2="110.76" y2="100.87" stroke="#4fa3e3" stroke-width="0.6"/>
<circle cx="109.66" cy="102.03" r="1.35" fill="#4fa3e3"/>
<line x1="113.93" y1="104.80" x2="113.93" y2="102.20" stroke="#4fa3e3" stroke-width="0.7"/>
<line x1="112.83" y1="104.80" x2="115.03" y2="104.80" stroke="#4fa3e3" stroke-width="0.6"/>
<line x1="112.83" y1="102.20" x2="115.03" y2="102.20" stroke="#4fa3e3" stroke-width="0.6"/>
<circle cx="113.93" cy="103.50" r="1.35" fill="#4fa3e3"/>
<line x1="118.20" y1="107.34" x2="118.20" y2="104.91" stroke="#4fa3e3" stroke-width="0.7"/>
<line x1="117.10" y1="107.34" x2="119.30" y2="107.34" stroke="#4fa3e3" stroke-width="0.6"/>
<line x1="117.10" y1="104.91" x2="119.30" y2="104.91" stroke="#4fa3e3" stroke-width="0.6"/>
<circle cx="118.20" cy="106.12" r="1.35" fill="#4fa3e3"/>
<line x1="122.46" y1="107.50" x2="122.46" y2="106.38" stroke="#4fa3e3" stroke-width="0.7"/>
<line x1="121.36" y1="107.50" x2="123.56" y2="107.50" stroke="#4fa3e3" stroke-width="0.6"/>
<line x1="121.36" y1="106.38" x2="123.56" y2="106.38" stroke="#4fa3e3" stroke-width="0.6"/>
<circle cx="122.46" cy="106.94" r="1.35" fill="#4fa3e3"/>
<line x1="126.73" y1="108.63" x2="126.73" y2="105.82" stroke="#4fa3e3" stroke-width="0.7"/>
<line x1="125.63" y1="108.63" x2="127.83" y2="108.63" stroke="#4fa3e3" stroke-width="0.6"/>
<line x1="125.63" y1="105.82" x2="127.83" y2="105.82" stroke="#4fa3e3" stroke-width="0.6"/>
<circle cx="126.73" cy="107.22" r="1.35" fill="#4fa3e3"/>
<line x1="131.00" y1="109.16" x2="131.00" y2="106.31" stroke="#4fa3e3" stroke-width="0.7"/>
<line x1="129.90" y1="109.16" x2="132.10" y2="109.16" stroke="#4fa3e3" stroke-width="0.6"/>
<line x1="129.90" y1="106.31" x2="132.10" y2="106.31" stroke="#4fa3e3" stroke-width="0.6"/>
<circle cx="131.00" cy="107.73" r="1.35" fill="#4fa3e3"/>
<path d="M49.49,30.48 L50.53,30.49 L51.58,30.50 L52.62,30.51 L53.67,30.52 L54.71,30.54 L55.76,30.55 L56.80,30.57 L57.85,30.59 L58.89,30.61 L59.94,30.64 L60.98,30.67 L62.03,30.70 L63.07,30.73 L64.12,30.77 L65.16,30.81 L66.21,30.86 L67.25,30.92 L68.30,30.98 L69.34,31.05 L70.39,31.12 L71.43,31.21 L72.48,31.31 L73.52,31.42 L74.57,31.54 L75.61,31.67 L76.66,31.82 L77.70,31.99 L78.75,32.18 L79.79,32.39 L80.84,32.62 L81.88,32.89 L82.93,33.18 L83.97,33.50 L85.02,33.86 L86.06,34.26 L87.11,34.70 L88.15,35.19 L89.20,35.74 L90.24,36.33 L91.29,36.99 L92.33,37.72 L93.38,38.52 L94.42,39.39 L95.47,40.34 L96.51,41.37 L97.56,42.50 L98.60,43.71 L99.65,45.02 L100.69,46.43 L101.74,47.93 L102.78,49.53 L103.83,51.22 L104.87,53.00 L105.92,54.86 L106.96,56.80 L108.01,58.81 L109.05,60.88 L110.10,62.99 L111.14,65.14 L112.19,67.31 L113.23,69.48 L114.28,71.64 L115.32,73.79 L116.37,75.89 L117.41,77.95 L118.46,79.94 L119.50,81.87 L120.55,83.72 L121.59,85.48 L122.64,87.15 L123.68,88.73 L124.73,90.21 L125.77,91.60 L126.82,92.89 L127.86,94.08 L128.91,95.19 L129.95,96.21 L131.00,97.14" fill="none" stroke="#4a1a6e" stroke-width="1.6" stroke-linejoin="round"/>
<line x1="49.91" y1="31.66" x2="49.91" y2="29.74" stroke="#4a1a6e" stroke-width="0.7"/>
<line x1="48.81" y1="31.66" x2="51.01" y2="31.66" stroke="#4a1a6e" stroke-width="0.6"/>
<line x1="48.81" y1="29.74" x2="51.01" y2="29.74" stroke="#4a1a6e" stroke-width="0.6"/>
<circle cx="49.91" cy="30.70" r="1.35" fill="#4a1a6e"/>
<line x1="54.18" y1="32.56" x2="54.18" y2="30.09" stroke="#4a1a6e" stroke-width="0.7"/>
<line x1="53.08" y1="32.56" x2="55.28" y2="32.56" stroke="#4a1a6e" stroke-width="0.6"/>
<line x1="53.08" y1="30.09" x2="55.28" y2="30.09" stroke="#4a1a6e" stroke-width="0.6"/>
<circle cx="54.18" cy="31.32" r="1.35" fill="#4a1a6e"/>
<line x1="58.44" y1="32.05" x2="58.44" y2="30.90" stroke="#4a1a6e" stroke-width="0.7"/>
<line x1="57.34" y1="32.05" x2="59.54" y2="32.05" stroke="#4a1a6e" stroke-width="0.6"/>
<line x1="57.34" y1="30.90" x2="59.54" y2="30.90" stroke="#4a1a6e" stroke-width="0.6"/>
<circle cx="58.44" cy="31.47" r="1.35" fill="#4a1a6e"/>
<line x1="62.71" y1="34.20" x2="62.71" y2="28.39" stroke="#4a1a6e" stroke-width="0.7"/>
<line x1="61.61" y1="34.20" x2="63.81" y2="34.20" stroke="#4a1a6e" stroke-width="0.6"/>
<line x1="61.61" y1="28.39" x2="63.81" y2="28.39" stroke="#4a1a6e" stroke-width="0.6"/>
<circle cx="62.71" cy="31.30" r="1.35" fill="#4a1a6e"/>
<line x1="66.98" y1="31.78" x2="66.98" y2="30.66" stroke="#4a1a6e" stroke-width="0.7"/>
<line x1="65.88" y1="31.78" x2="68.08" y2="31.78" stroke="#4a1a6e" stroke-width="0.6"/>
<line x1="65.88" y1="30.66" x2="68.08" y2="30.66" stroke="#4a1a6e" stroke-width="0.6"/>
<circle cx="66.98" cy="31.22" r="1.35" fill="#4a1a6e"/>
<line x1="71.25" y1="32.86" x2="71.25" y2="31.52" stroke="#4a1a6e" stroke-width="0.7"/>
<line x1="70.15" y1="32.86" x2="72.35" y2="32.86" stroke="#4a1a6e" stroke-width="0.6"/>
<line x1="70.15" y1="31.52" x2="72.35" y2="31.52" stroke="#4a1a6e" stroke-width="0.6"/>
<circle cx="71.25" cy="32.19" r="1.35" fill="#4a1a6e"/>
<line x1="75.52" y1="33.37" x2="75.52" y2="31.53" stroke="#4a1a6e" stroke-width="0.7"/>
<line x1="74.42" y1="33.37" x2="76.62" y2="33.37" stroke="#4a1a6e" stroke-width="0.6"/>
<line x1="74.42" y1="31.53" x2="76.62" y2="31.53" stroke="#4a1a6e" stroke-width="0.6"/>
<circle cx="75.52" cy="32.45" r="1.35" fill="#4a1a6e"/>
<line x1="79.78" y1="34.85" x2="79.78" y2="31.82" stroke="#4a1a6e" stroke-width="0.7"/>
<line x1="78.68" y1="34.85" x2="80.88" y2="34.85" stroke="#4a1a6e" stroke-width="0.6"/>
<line x1="78.68" y1="31.82" x2="80.88" y2="31.82" stroke="#4a1a6e" stroke-width="0.6"/>
<circle cx="79.78" cy="33.33" r="1.35" fill="#4a1a6e"/>
<line x1="84.05" y1="33.97" x2="84.05" y2="32.63" stroke="#4a1a6e" stroke-width="0.7"/>
<line x1="82.95" y1="33.97" x2="85.15" y2="33.97" stroke="#4a1a6e" stroke-width="0.6"/>
<line x1="82.95" y1="32.63" x2="85.15" y2="32.63" stroke="#4a1a6e" stroke-width="0.6"/>
<circle cx="84.05" cy="33.30" r="1.35" fill="#4a1a6e"/>
<line x1="88.32" y1="36.67" x2="88.32" y2="34.87" stroke="#4a1a6e" stroke-width="0.7"/>
<line x1="87.22" y1="36.67" x2="89.42" y2="36.67" stroke="#4a1a6e" stroke-width="0.6"/>
<line x1="87.22" y1="34.87" x2="89.42" y2="34.87" stroke="#4a1a6e" stroke-width="0.6"/>
<circle cx="88.32" cy="35.77" r="1.35" fill="#4a1a6e"/>
<line x1="92.59" y1="42.97" x2="92.59" y2="41.69" stroke="#4a1a6e" stroke-width="0.7"/>
<line x1="91.49" y1="42.97" x2="93.69" y2="42.97" stroke="#4a1a6e" stroke-width="0.6"/>
<line x1="91.49" y1="41.69" x2="93.69" y2="41.69" stroke="#4a1a6e" stroke-width="0.6"/>
<circle cx="92.59" cy="42.33" r="1.35" fill="#4a1a6e"/>
<line x1="96.86" y1="42.69" x2="96.86" y2="39.38" stroke="#4a1a6e" stroke-width="0.7"/>
<line x1="95.76" y1="42.69" x2="97.96" y2="42.69" stroke="#4a1a6e" stroke-width="0.6"/>
<line x1="95.76" y1="39.38" x2="97.96" y2="39.38" stroke="#4a1a6e" stroke-width="0.6"/>
<circle cx="96.86" cy="41.04" r="1.35" fill="#4a1a6e"/>
<line x1="101.12" y1="48.16" x2="101.12" y2="46.04" stroke="#4a1a6e" stroke-width="0.7"/>
<line x1="100.02" y1="48.16" x2="102.22" y2="48.16" stroke="#4a1a6e" stroke-width="0.6"/>
<line x1="100.02" y1="46.04" x2="102.22" y2="46.04" stroke="#4a1a6e" stroke-width="0.6"/>
<circle cx="101.12" cy="47.10" r="1.35" fill="#4a1a6e"/>
<line x1="105.39" y1="55.35" x2="105.39" y2="54.12" stroke="#4a1a6e" stroke-width="0.7"/>
<line x1="104.29" y1="55.35" x2="106.49" y2="55.35" stroke="#4a1a6e" stroke-width="0.6"/>
<line x1="104.29" y1="54.12" x2="106.49" y2="54.12" stroke="#4a1a6e" stroke-width="0.6"/>
<circle cx="105.39" cy="54.73" r="1.35" fill="#4a1a6e"/>
<line x1="109.66" y1="63.21" x2="109.66" y2="61.60" stroke="#4a1a6e" stroke-width="0.7"/>
<line x1="108.56" y1="63.21" x2="110.76" y2="63.21" stroke="#4a1a6e" stroke-width="0.6"/>
<line x1="108.56" y1="61.60" x2="110.76" y2="61.60" stroke="#4a1a6e" stroke-width="0.6"/>
<circle cx="109.66" cy="62.41" r="1.35" fill="#4a1a6e"/>
<line x1="113.93" y1="70.95" x2="113.93" y2="69.58" stroke="#4a1a6e" stroke-width="0.7"/>
<line x1="112.83" y1="70.95" x2="115.03" y2="70.95" stroke="#4a1a6e" stroke-width="0.6"/>
<line x1="112.83" y1="69.58" x2="115.03" y2="69.58" stroke="#4a1a6e" stroke-width="0.6"/>
<circle cx="113.93" cy="70.26" r="1.35" fill="#4a1a6e"/>
<line x1="118.20" y1="82.00" x2="118.20" y2="78.79" stroke="#4a1a6e" stroke-width="0.7"/>
<line x1="117.10" y1="82.00" x2="119.30" y2="82.00" stroke="#4a1a6e" stroke-width="0.6"/>
<line x1="117.10" y1="78.79" x2="119.30" y2="78.79" stroke="#4a1a6e" stroke-width="0.6"/>
<circle cx="118.20" cy="80.40" r="1.35" fill="#4a1a6e"/>
<line x1="122.46" y1="87.49" x2="122.46" y2="86.15" stroke="#4a1a6e" stroke-width="0.7"/>
<line x1="121.36" y1="87.49" x2="123.56" y2="87.49" stroke="#4a1a6e" stroke-width="0.6"/>
<line x1="121.36" y1="86.15" x2="123.56" y2="86.15" stroke="#4a1a6e" stroke-width="0.6"/>
<circle cx="122.46" cy="86.82" r="1.35" fill="#4a1a6e"/>
<line x1="126.73" y1="93.23" x2="126.73" y2="92.17" stroke="#4a1a6e" stroke-width="0.7"/>
<line x1="125.63" y1="93.23" x2="127.83" y2="93.23" stroke="#4a1a6e" stroke-width="0.6"/>
<line x1="125.63" y1="92.17" x2="127.83" y2="92.17" stroke="#4a1a6e" stroke-width="0.6"/>
<circle cx="126.73" cy="92.70" r="1.35" fill="#4a1a6e"/>
<line x1="131.00" y1="98.72" x2="131.00" y2="95.45" stroke="#4a1a6e" stroke-width="0.7"/>
<line x1="129.90" y1="98.72" x2="132.10" y2="98.72" stroke="#4a1a6e" stroke-width="0.6"/>
<line x1="129.90" y1="95.45" x2="132.10" y2="95.45" stroke="#4a1a6e" stroke-width="0.6"/>
<circle cx="131.00" cy="97.09" r="1.35" fill="#4a1a6e"/>
<text x="182.50" y="31.20" font-size="5.1" text-anchor="middle" fill="#000">Genotype</text>
<line x1="153.70" y1="36.30" x2="212.60" y2="36.30" stroke="#000" stroke-width="1"/>
<line x1="157.80" y1="50.00" x2="166.40" y2="50.00" stroke="#4a1a6e" stroke-width="1.2"/>
<circle cx="162.1" cy="50" r="1.2" fill="#4a1a6e"/>
<text x="169.60" y="48.40" font-size="4.85" text-anchor="start" fill="#000">UBE2D3 KO_1 +</text>
<text x="169.60" y="55.10" font-size="4.85" text-anchor="start" fill="#000">UBE2G1 KO</text>
<line x1="157.80" y1="67.00" x2="166.40" y2="67.00" stroke="#4fa3e3" stroke-width="1.2"/>
<circle cx="162.1" cy="67" r="1.2" fill="#4fa3e3"/>
<text x="169.60" y="68.80" font-size="4.85" text-anchor="start" fill="#000">UBE2G1 KO_1</text>
<line x1="157.80" y1="84.00" x2="166.40" y2="84.00" stroke="#b3062c" stroke-width="1.2"/>
<circle cx="162.1" cy="84" r="1.2" fill="#b3062c"/>
<text x="169.60" y="85.80" font-size="4.85" text-anchor="start" fill="#000">UBE2D3 KO_1</text>
<line x1="157.80" y1="101.00" x2="166.40" y2="101.00" stroke="#5fae2e" stroke-width="1.2"/>
<circle cx="162.1" cy="101" r="1.2" fill="#5fae2e"/>
<text x="169.60" y="102.80" font-size="4.85" text-anchor="start" fill="#000">WT</text>
<text x="307.20" y="17.30" font-size="7.8" text-anchor="middle" fill="#000">EC50 (nM)</text>
<line x1="264.50" y1="36.10" x2="349.50" y2="36.10" stroke="#000" stroke-width="1.5"/>
<line x1="265.20" y1="36.10" x2="265.20" y2="111.00" stroke="#000" stroke-width="1.5"/>
<line x1="265.20" y1="33.40" x2="265.20" y2="36.10" stroke="#000" stroke-width="0.9"/>
<text x="265.20" y="28.40" font-size="6" text-anchor="middle" fill="#000">0</text>
<line x1="292.44" y1="33.40" x2="292.44" y2="36.10" stroke="#000" stroke-width="0.9"/>
<text x="292.44" y="28.40" font-size="6" text-anchor="middle" fill="#000">50</text>
<line x1="319.67" y1="33.40" x2="319.67" y2="36.10" stroke="#000" stroke-width="0.9"/>
<text x="319.67" y="28.40" font-size="6" text-anchor="middle" fill="#000">100</text>
<line x1="346.90" y1="33.40" x2="346.90" y2="36.10" stroke="#000" stroke-width="0.9"/>
<text x="346.90" y="28.40" font-size="6" text-anchor="middle" fill="#000">150</text>
<line x1="262.60" y1="47.90" x2="265.20" y2="47.90" stroke="#000" stroke-width="0.9"/>
<line x1="262.60" y1="65.30" x2="265.20" y2="65.30" stroke="#000" stroke-width="0.9"/>
<line x1="262.60" y1="82.60" x2="265.20" y2="82.60" stroke="#000" stroke-width="0.9"/>
<line x1="262.60" y1="100.00" x2="265.20" y2="100.00" stroke="#000" stroke-width="0.9"/>
<line x1="317.30" y1="47.90" x2="334.00" y2="47.90" stroke="#4a1a6e" stroke-width="1"/>
<line x1="317.30" y1="46.20" x2="317.30" y2="49.60" stroke="#4a1a6e" stroke-width="0.9"/>
<line x1="334.00" y1="46.20" x2="334.00" y2="49.60" stroke="#4a1a6e" stroke-width="0.9"/>
<circle cx="324.7" cy="47.9" r="1.7" fill="#4a1a6e"/>
<circle cx="270.5" cy="65.3" r="1.7" fill="#4fa3e3"/>
<circle cx="266.6" cy="82.6" r="1.7" fill="#b3062c"/>
<circle cx="266.2" cy="100" r="1.7" fill="#5fae2e"/>
<rect x="42.00" y="157.50" width="111.00" height="80.80" fill="#fdfdfd"/>
<g clip-path="url(#c1)"><g filter="url(#b9)">
<rect x="48.70" y="193.5" width="12.6" height="10" rx="4" fill="url(#gB3)"/>
<rect x="47.70" y="202.20" width="14.60" height="9.60" rx="3.60" fill="#000" fill-opacity="1.00"/>
<rect x="47.45" y="203.75" width="15.10" height="6.50" rx="3.00" fill="#000" fill-opacity="1.00"/>
<rect x="48.40" y="211.10" width="13.20" height="3.00" rx="1.00" fill="#000" fill-opacity="0.72"/>
<rect x="48.50" y="213.80" width="13.00" height="5.80" rx="2.60" fill="#000" fill-opacity="0.90"/>
<rect x="48.90" y="218.95" width="12.20" height="4.50" rx="1.88" fill="#000" fill-opacity="0.42"/>
<rect x="49.20" y="222.75" width="11.60" height="3.50" rx="1.46" fill="#000" fill-opacity="0.14"/>
<rect x="48.30" y="228.90" width="13.40" height="4.20" rx="1.90" fill="#000" fill-opacity="0.72"/>
<rect x="63.70" y="193.5" width="12.6" height="10" rx="4" fill="url(#gB3)"/>
<rect x="62.70" y="202.20" width="14.60" height="9.60" rx="3.60" fill="#000" fill-opacity="1.00"/>
<rect x="62.45" y="203.75" width="15.10" height="6.50" rx="3.00" fill="#000" fill-opacity="1.00"/>
<rect x="63.40" y="211.10" width="13.20" height="3.00" rx="1.00" fill="#000" fill-opacity="0.72"/>
<rect x="63.50" y="213.80" width="13.00" height="5.80" rx="2.60" fill="#000" fill-opacity="0.90"/>
<rect x="63.90" y="218.95" width="12.20" height="4.50" rx="1.88" fill="#000" fill-opacity="0.42"/>
<rect x="64.20" y="222.75" width="11.60" height="3.50" rx="1.46" fill="#000" fill-opacity="0.14"/>
<rect x="63.30" y="228.90" width="13.40" height="4.20" rx="1.90" fill="#000" fill-opacity="0.72"/>
<rect x="78.10" y="193.5" width="12.6" height="10" rx="4" fill="url(#gB3)"/>
<rect x="77.10" y="202.20" width="14.60" height="9.60" rx="3.60" fill="#000" fill-opacity="1.00"/>
<rect x="76.85" y="203.75" width="15.10" height="6.50" rx="3.00" fill="#000" fill-opacity="1.00"/>
<rect x="77.80" y="211.10" width="13.20" height="3.00" rx="1.00" fill="#000" fill-opacity="0.72"/>
<rect x="77.90" y="213.80" width="13.00" height="5.80" rx="2.60" fill="#000" fill-opacity="0.90"/>
<rect x="78.30" y="218.95" width="12.20" height="4.50" rx="1.88" fill="#000" fill-opacity="0.42"/>
<rect x="78.60" y="222.75" width="11.60" height="3.50" rx="1.46" fill="#000" fill-opacity="0.14"/>
<rect x="77.70" y="228.90" width="13.40" height="4.20" rx="1.90" fill="#000" fill-opacity="0.72"/>
<rect x="92.00" y="193.5" width="12.6" height="10" rx="4" fill="url(#gB3)"/>
<rect x="91.00" y="202.20" width="14.60" height="9.60" rx="3.60" fill="#000" fill-opacity="1.00"/>
<rect x="90.75" y="203.75" width="15.10" height="6.50" rx="3.00" fill="#000" fill-opacity="1.00"/>
<rect x="91.70" y="211.10" width="13.20" height="3.00" rx="1.00" fill="#000" fill-opacity="0.72"/>
<rect x="91.80" y="213.80" width="13.00" height="5.80" rx="2.60" fill="#000" fill-opacity="0.90"/>
<rect x="92.20" y="218.95" width="12.20" height="4.50" rx="1.88" fill="#000" fill-opacity="0.42"/>
<rect x="92.50" y="222.75" width="11.60" height="3.50" rx="1.46" fill="#000" fill-opacity="0.14"/>
<rect x="91.60" y="228.90" width="13.40" height="4.20" rx="1.90" fill="#000" fill-opacity="0.72"/>
<rect x="106.30" y="193.5" width="12.6" height="10" rx="4" fill="url(#gB3)"/>
<rect x="105.30" y="202.20" width="14.60" height="9.60" rx="3.60" fill="#000" fill-opacity="1.00"/>
<rect x="105.05" y="203.75" width="15.10" height="6.50" rx="3.00" fill="#000" fill-opacity="1.00"/>
<rect x="106.00" y="211.10" width="13.20" height="3.00" rx="1.00" fill="#000" fill-opacity="0.72"/>
<rect x="106.10" y="213.80" width="13.00" height="5.80" rx="2.60" fill="#000" fill-opacity="0.90"/>
<rect x="106.50" y="218.95" width="12.20" height="4.50" rx="1.88" fill="#000" fill-opacity="0.42"/>
<rect x="106.80" y="222.75" width="11.60" height="3.50" rx="1.46" fill="#000" fill-opacity="0.14"/>
<rect x="105.90" y="228.90" width="13.40" height="4.20" rx="1.90" fill="#000" fill-opacity="0.72"/>
<rect x="120.80" y="193.5" width="12.6" height="10" rx="4" fill="url(#gB3)"/>
<rect x="119.80" y="202.20" width="14.60" height="9.60" rx="3.60" fill="#000" fill-opacity="1.00"/>
<rect x="119.55" y="203.75" width="15.10" height="6.50" rx="3.00" fill="#000" fill-opacity="1.00"/>
<rect x="120.50" y="211.10" width="13.20" height="3.00" rx="1.00" fill="#000" fill-opacity="0.72"/>
<rect x="120.60" y="213.80" width="13.00" height="5.80" rx="2.60" fill="#000" fill-opacity="0.90"/>
<rect x="121.00" y="218.95" width="12.20" height="4.50" rx="1.88" fill="#000" fill-opacity="0.42"/>
<rect x="121.30" y="222.75" width="11.60" height="3.50" rx="1.46" fill="#000" fill-opacity="0.14"/>
<rect x="120.40" y="228.90" width="13.40" height="4.20" rx="1.90" fill="#000" fill-opacity="0.72"/>
<rect x="136.30" y="193.5" width="12.6" height="10" rx="4" fill="url(#gB3)"/>
<rect x="135.30" y="202.20" width="14.60" height="9.60" rx="3.60" fill="#000" fill-opacity="1.00"/>
<rect x="135.05" y="203.75" width="15.10" height="6.50" rx="3.00" fill="#000" fill-opacity="1.00"/>
<rect x="136.00" y="211.10" width="13.20" height="3.00" rx="1.00" fill="#000" fill-opacity="0.72"/>
<rect x="136.10" y="213.80" width="13.00" height="5.80" rx="2.60" fill="#000" fill-opacity="0.90"/>
<rect x="136.50" y="218.95" width="12.20" height="4.50" rx="1.88" fill="#000" fill-opacity="0.42"/>
<rect x="136.80" y="222.75" width="11.60" height="3.50" rx="1.46" fill="#000" fill-opacity="0.14"/>
<rect x="135.90" y="228.90" width="13.40" height="4.20" rx="1.90" fill="#000" fill-opacity="0.72"/>
<rect x="50.55" y="187.60" width="10.50" height="1.60" rx="0.67" fill="#000" fill-opacity="0.42" transform="rotate(3 55.80 188.40)"/>
<rect x="79.35" y="187.10" width="10.50" height="1.80" rx="0.75" fill="#000" fill-opacity="0.40"/>
<rect x="79.85" y="183.15" width="9.50" height="1.30" rx="0.54" fill="#000" fill-opacity="0.15"/>
<rect x="64.9" y="165" width="10.6" height="30" fill="url(#gB1)"/>
<rect x="63.90" y="193.70" width="12.60" height="4.60" rx="2.20" fill="#000" fill-opacity="0.97"/>
<rect x="64.40" y="187.20" width="11.60" height="4.00" rx="1.67" fill="#000" fill-opacity="0.68"/>
<rect x="64.70" y="183.80" width="11.00" height="2.40" rx="1.00" fill="#000" fill-opacity="0.40"/>
<rect x="64.45" y="199.20" width="11.50" height="2.20" rx="0.92" fill="#000" fill-opacity="0.30"/>
<rect x="64.95" y="180.50" width="10.50" height="2.00" rx="0.83" fill="#000" fill-opacity="0.20"/>
<rect x="92.7" y="157" width="11.2" height="45" fill="url(#gB2)"/>
<rect x="92.70" y="158.55" width="11.20" height="1.50" rx="0.62" fill="#000" fill-opacity="0.20"/>
<rect x="92.70" y="161.05" width="11.20" height="1.50" rx="0.62" fill="#000" fill-opacity="0.24"/>
<rect x="92.70" y="163.55" width="11.20" height="1.50" rx="0.62" fill="#000" fill-opacity="0.26"/>
<rect x="92.70" y="166.05" width="11.20" height="1.50" rx="0.62" fill="#000" fill-opacity="0.22"/>
<rect x="92.70" y="169.85" width="11.20" height="1.50" rx="0.62" fill="#000" fill-opacity="0.22"/>
<rect x="92.70" y="173.05" width="11.20" height="1.50" rx="0.62" fill="#000" fill-opacity="0.24"/>
<rect x="92.70" y="176.05" width="11.20" height="1.50" rx="0.62" fill="#000" fill-opacity="0.24"/>
<rect x="92.70" y="179.25" width="11.20" height="1.50" rx="0.62" fill="#000" fill-opacity="0.26"/>
<rect x="92.70" y="182.45" width="11.20" height="1.50" rx="0.62" fill="#000" fill-opacity="0.28"/>
<rect x="92.70" y="187.45" width="11.20" height="1.50" rx="0.62" fill="#000" fill-opacity="0.46"/>
<rect x="92.70" y="193.25" width="11.20" height="1.50" rx="0.62" fill="#000" fill-opacity="0.20"/>
<rect x="92.70" y="196.75" width="11.20" height="1.50" rx="0.62" fill="#000" fill-opacity="0.22"/>
<rect x="106.60" y="193.30" width="12.00" height="4.20" rx="1.75" fill="#000" fill-opacity="0.74"/>
<rect x="107.10" y="189.00" width="11.00" height="2.60" rx="1.08" fill="#000" fill-opacity="0.36"/>
<rect x="107.35" y="185.70" width="10.50" height="2.20" rx="0.92" fill="#000" fill-opacity="0.30"/>
<rect x="107.60" y="182.40" width="10.00" height="2.00" rx="0.83" fill="#000" fill-opacity="0.28"/>
<rect x="107.10" y="198.60" width="11.00" height="2.00" rx="0.83" fill="#000" fill-opacity="0.25"/>
<rect x="121.35" y="192.20" width="11.50" height="3.20" rx="1.33" fill="#000" fill-opacity="0.62"/>
<rect x="122.10" y="187.30" width="10.00" height="1.80" rx="0.75" fill="#000" fill-opacity="0.28"/>
<rect x="121.60" y="196.80" width="11.00" height="2.40" rx="1.00" fill="#000" fill-opacity="0.22"/>
<rect x="137.60" y="191.00" width="10.00" height="8.00" rx="2.50" fill="#000" fill-opacity="0.08"/>
</g></g>
<rect x="42.50" y="157.50" width="111.00" height="81.00" fill="none" stroke="#000" stroke-width="1.1"/>
<text x="158.00" y="197.90" font-size="6.0" text-anchor="middle" fill="#000" transform="rotate(90 158.00 197.90)">IB: HA (IKZF3 ZF2)</text>
<text x="42.90" y="247.70" font-size="5.8" text-anchor="end" fill="#000">UBE2D3:</text>
<text x="68.00" y="247.60" font-size="5.4" text-anchor="middle" fill="#000">+</text>
<text x="97.80" y="247.60" font-size="5.4" text-anchor="middle" fill="#000">+</text>
<text x="113.10" y="247.60" font-size="5.4" text-anchor="middle" fill="#000">+</text>
<text x="128.50" y="247.60" font-size="5.4" text-anchor="middle" fill="#000">+</text>
<text x="144.40" y="247.60" font-size="5.4" text-anchor="middle" fill="#000">+</text>
<text x="42.90" y="257.80" font-size="5.8" text-anchor="end" fill="#000">UBE2G1:</text>
<text x="83.00" y="257.70" font-size="5.4" text-anchor="middle" fill="#000">+</text>
<text x="97.80" y="257.70" font-size="5.4" text-anchor="middle" fill="#000">+</text>
<text x="113.10" y="257.70" font-size="5.4" text-anchor="middle" fill="#000">+</text>
<text x="128.50" y="257.70" font-size="5.4" text-anchor="middle" fill="#000">+</text>
<text x="144.40" y="257.70" font-size="5.4" text-anchor="middle" fill="#000">+</text>
<text x="42.90" y="268.50" font-size="5.8" text-anchor="end" fill="#000">Len (10µM):</text>
<text x="53.00" y="268.40" font-size="5.4" text-anchor="middle" fill="#000">+</text>
<text x="68.00" y="268.40" font-size="5.4" text-anchor="middle" fill="#000">+</text>
<text x="83.00" y="268.40" font-size="5.4" text-anchor="middle" fill="#000">+</text>
<text x="97.80" y="268.40" font-size="5.4" text-anchor="middle" fill="#000">+</text>
<text x="113.10" y="268.40" font-size="5.4" text-anchor="middle" fill="#000">+</text>
<text x="128.50" y="268.40" font-size="5.4" text-anchor="middle" fill="#000">+</text>
<text x="42.90" y="278.80" font-size="5.8" text-anchor="end" fill="#000">K0 Ub:</text>
<text x="113.10" y="278.70" font-size="5.4" text-anchor="middle" fill="#000">+</text>
<text x="42.90" y="288.90" font-size="5.8" text-anchor="end" fill="#000">K48 Ub:</text>
<text x="128.50" y="288.80" font-size="5.4" text-anchor="middle" fill="#000">+</text>
<rect x="240.20" y="157.30" width="196.20" height="60.50" fill="#fbfbfb"/>
<g clip-path="url(#c2)"><g filter="url(#b9)">
<rect x="240.20" y="186.00" width="196.20" height="24.00" fill="#000" fill-opacity="0.05"/>
<rect x="242.60" y="191.50" width="16.00" height="8.20" rx="4.20" fill="#000" fill-opacity="1.00"/>
<rect x="242.10" y="192.85" width="17.00" height="5.50" rx="2.70" fill="#000" fill-opacity="1.00"/>
<rect x="244.15" y="198.70" width="12.90" height="5.40" rx="2.25" fill="#000" fill-opacity="0.50"/>
<rect x="245.15" y="202.90" width="10.90" height="4.40" rx="1.83" fill="#000" fill-opacity="0.16"/>
<rect x="246.10" y="210.55" width="9.00" height="1.50" rx="0.62" fill="#000" fill-opacity="0.24"/>
<rect x="244.40" y="187.50" width="12.40" height="4.00" rx="1.67" fill="#000" fill-opacity="0.20"/>
<rect x="260.80" y="191.90" width="16.00" height="9.20" rx="4.20" fill="#000" fill-opacity="1.00"/>
<rect x="260.30" y="193.75" width="17.00" height="5.50" rx="2.70" fill="#000" fill-opacity="1.00"/>
<rect x="262.35" y="199.60" width="12.90" height="5.40" rx="2.25" fill="#000" fill-opacity="0.50"/>
<rect x="263.35" y="203.80" width="10.90" height="4.40" rx="1.83" fill="#000" fill-opacity="0.16"/>
<rect x="264.30" y="210.55" width="9.00" height="1.50" rx="0.62" fill="#000" fill-opacity="0.24"/>
<rect x="278.80" y="191.90" width="16.00" height="9.20" rx="4.20" fill="#000" fill-opacity="1.00"/>
<rect x="278.30" y="193.75" width="17.00" height="5.50" rx="2.70" fill="#000" fill-opacity="1.00"/>
<rect x="280.35" y="199.60" width="12.90" height="5.40" rx="2.25" fill="#000" fill-opacity="0.50"/>
<rect x="281.35" y="203.80" width="10.90" height="4.40" rx="1.83" fill="#000" fill-opacity="0.16"/>
<rect x="282.30" y="210.55" width="9.00" height="1.50" rx="0.62" fill="#000" fill-opacity="0.24"/>
<rect x="295.80" y="191.90" width="16.00" height="9.20" rx="4.20" fill="#000" fill-opacity="1.00"/>
<rect x="295.30" y="193.75" width="17.00" height="5.50" rx="2.70" fill="#000" fill-opacity="1.00"/>
<rect x="297.35" y="199.60" width="12.90" height="5.40" rx="2.25" fill="#000" fill-opacity="0.50"/>
<rect x="298.35" y="203.80" width="10.90" height="4.40" rx="1.83" fill="#000" fill-opacity="0.16"/>
<rect x="299.30" y="210.55" width="9.00" height="1.50" rx="0.62" fill="#000" fill-opacity="0.24"/>
<rect x="313.30" y="191.90" width="16.00" height="9.20" rx="4.20" fill="#000" fill-opacity="1.00"/>
<rect x="312.80" y="193.75" width="17.00" height="5.50" rx="2.70" fill="#000" fill-opacity="1.00"/>
<rect x="314.85" y="199.60" width="12.90" height="5.40" rx="2.25" fill="#000" fill-opacity="0.50"/>
<rect x="315.85" y="203.80" width="10.90" height="4.40" rx="1.83" fill="#000" fill-opacity="0.16"/>
<rect x="316.80" y="210.55" width="9.00" height="1.50" rx="0.62" fill="#000" fill-opacity="0.24"/>
<rect x="331.00" y="191.90" width="16.00" height="9.20" rx="4.20" fill="#000" fill-opacity="1.00"/>
<rect x="330.50" y="193.75" width="17.00" height="5.50" rx="2.70" fill="#000" fill-opacity="1.00"/>
<rect x="332.55" y="199.60" width="12.90" height="5.40" rx="2.25" fill="#000" fill-opacity="0.50"/>
<rect x="333.55" y="203.80" width="10.90" height="4.40" rx="1.83" fill="#000" fill-opacity="0.16"/>
<rect x="334.50" y="210.55" width="9.00" height="1.50" rx="0.62" fill="#000" fill-opacity="0.24"/>
<rect x="348.80" y="191.70" width="16.00" height="10.40" rx="4.20" fill="#000" fill-opacity="1.00"/>
<rect x="348.30" y="193.75" width="17.00" height="5.50" rx="2.70" fill="#000" fill-opacity="1.00"/>
<rect x="350.35" y="200.20" width="12.90" height="5.40" rx="2.25" fill="#000" fill-opacity="0.50"/>
<rect x="351.35" y="203.80" width="10.90" height="4.40" rx="1.83" fill="#000" fill-opacity="0.16"/>
<rect x="352.30" y="210.55" width="9.00" height="1.50" rx="0.62" fill="#000" fill-opacity="0.24"/>
<rect x="350.60" y="187.50" width="12.40" height="4.00" rx="1.67" fill="#000" fill-opacity="0.20"/>
<rect x="366.80" y="191.70" width="16.00" height="10.40" rx="4.20" fill="#000" fill-opacity="1.00"/>
<rect x="366.30" y="193.75" width="17.00" height="5.50" rx="2.70" fill="#000" fill-opacity="1.00"/>
<rect x="368.35" y="200.20" width="12.90" height="5.40" rx="2.25" fill="#000" fill-opacity="0.50"/>
<rect x="369.35" y="203.80" width="10.90" height="4.40" rx="1.83" fill="#000" fill-opacity="0.16"/>
<rect x="370.30" y="210.55" width="9.00" height="1.50" rx="0.62" fill="#000" fill-opacity="0.24"/>
<rect x="368.60" y="187.50" width="12.40" height="4.00" rx="1.67" fill="#000" fill-opacity="0.20"/>
<rect x="384.40" y="191.70" width="16.00" height="10.40" rx="4.20" fill="#000" fill-opacity="1.00"/>
<rect x="383.90" y="193.75" width="17.00" height="5.50" rx="2.70" fill="#000" fill-opacity="1.00"/>
<rect x="385.95" y="200.20" width="12.90" height="5.40" rx="2.25" fill="#000" fill-opacity="0.62"/>
<rect x="386.95" y="203.80" width="10.90" height="4.40" rx="1.83" fill="#000" fill-opacity="0.16"/>
<rect x="387.90" y="210.55" width="9.00" height="1.50" rx="0.62" fill="#000" fill-opacity="0.24"/>
<rect x="386.20" y="187.50" width="12.40" height="4.00" rx="1.67" fill="#000" fill-opacity="0.20"/>
<rect x="402.00" y="191.70" width="16.00" height="10.40" rx="4.20" fill="#000" fill-opacity="1.00"/>
<rect x="401.50" y="193.75" width="17.00" height="5.50" rx="2.70" fill="#000" fill-opacity="1.00"/>
<rect x="403.55" y="200.20" width="12.90" height="5.40" rx="2.25" fill="#000" fill-opacity="0.62"/>
<rect x="404.55" y="203.80" width="10.90" height="4.40" rx="1.83" fill="#000" fill-opacity="0.30"/>
<rect x="405.50" y="210.55" width="9.00" height="1.50" rx="0.62" fill="#000" fill-opacity="0.24"/>
<rect x="403.80" y="187.50" width="12.40" height="4.00" rx="1.67" fill="#000" fill-opacity="0.20"/>
<rect x="419.40" y="191.70" width="16.00" height="10.40" rx="4.20" fill="#000" fill-opacity="1.00"/>
<rect x="418.90" y="193.75" width="17.00" height="5.50" rx="2.70" fill="#000" fill-opacity="1.00"/>
<rect x="420.95" y="200.20" width="12.90" height="5.40" rx="2.25" fill="#000" fill-opacity="0.62"/>
<rect x="421.95" y="203.80" width="10.90" height="4.40" rx="1.83" fill="#000" fill-opacity="0.30"/>
<rect x="422.90" y="210.55" width="9.00" height="1.50" rx="0.62" fill="#000" fill-opacity="0.24"/>
<rect x="421.20" y="187.50" width="12.40" height="4.00" rx="1.67" fill="#000" fill-opacity="0.20"/>
<rect x="261.60" y="185.10" width="14.40" height="6.60" rx="2.50" fill="#000" fill-opacity="0.92"/>
<rect x="262.80" y="181.95" width="12.00" height="2.50" rx="1.04" fill="#000" fill-opacity="0.20"/>
<rect x="262.40" y="178.00" width="12.80" height="4.00" rx="1.67" fill="#000" fill-opacity="0.56"/>
<rect x="264.40" y="160.90" width="8.80" height="1.40" rx="0.58" fill="#000" fill-opacity="0.20"/>
<rect x="279.60" y="185.10" width="14.40" height="6.60" rx="2.50" fill="#000" fill-opacity="0.92"/>
<rect x="280.80" y="181.95" width="12.00" height="2.50" rx="1.04" fill="#000" fill-opacity="0.20"/>
<rect x="280.40" y="178.00" width="12.80" height="4.00" rx="1.67" fill="#000" fill-opacity="0.68"/>
<rect x="282.00" y="160.90" width="9.60" height="1.40" rx="0.58" fill="#000" fill-opacity="0.25"/>
<rect x="296.60" y="185.10" width="14.40" height="6.60" rx="2.50" fill="#000" fill-opacity="0.92"/>
<rect x="297.80" y="181.95" width="12.00" height="2.50" rx="1.04" fill="#000" fill-opacity="0.20"/>
<rect x="297.40" y="178.00" width="12.80" height="4.00" rx="1.67" fill="#000" fill-opacity="0.74"/>
<rect x="298.60" y="160.90" width="10.40" height="1.40" rx="0.58" fill="#000" fill-opacity="0.30"/>
<rect x="314.10" y="185.10" width="14.40" height="6.60" rx="2.50" fill="#000" fill-opacity="0.92"/>
<rect x="315.30" y="181.95" width="12.00" height="2.50" rx="1.04" fill="#000" fill-opacity="0.20"/>
<rect x="314.90" y="178.00" width="12.80" height="4.00" rx="1.67" fill="#000" fill-opacity="0.78"/>
<rect x="315.70" y="160.90" width="11.20" height="1.40" rx="0.58" fill="#000" fill-opacity="0.35"/>
<rect x="331.80" y="185.10" width="14.40" height="6.60" rx="2.50" fill="#000" fill-opacity="0.92"/>
<rect x="333.00" y="181.95" width="12.00" height="2.50" rx="1.04" fill="#000" fill-opacity="0.20"/>
<rect x="332.60" y="178.00" width="12.80" height="4.00" rx="1.67" fill="#000" fill-opacity="0.72"/>
<rect x="333.00" y="160.90" width="12.00" height="1.40" rx="0.58" fill="#000" fill-opacity="0.40"/>
<rect x="280.55" y="172.50" width="12.50" height="2.00" rx="0.83" fill="#000" fill-opacity="0.16"/>
<rect x="280.55" y="163.50" width="12.50" height="2.00" rx="0.83" fill="#000" fill-opacity="0.10"/>
<rect x="297.55" y="172.50" width="12.50" height="2.00" rx="0.83" fill="#000" fill-opacity="0.28"/>
<rect x="297.55" y="168.50" width="12.50" height="2.00" rx="0.83" fill="#000" fill-opacity="0.14"/>
<rect x="297.55" y="165.50" width="12.50" height="2.00" rx="0.83" fill="#000" fill-opacity="0.20"/>
<rect x="297.55" y="162.50" width="12.50" height="2.00" rx="0.83" fill="#000" fill-opacity="0.20"/>
<rect x="297.55" y="157.50" width="12.50" height="2.00" rx="0.83" fill="#000" fill-opacity="0.20"/>
<rect x="315.05" y="172.50" width="12.50" height="2.00" rx="0.83" fill="#000" fill-opacity="0.40"/>
<rect x="315.05" y="169.20" width="12.50" height="2.00" rx="0.83" fill="#000" fill-opacity="0.30"/>
<rect x="315.05" y="166.00" width="12.50" height="2.00" rx="0.83" fill="#000" fill-opacity="0.32"/>
<rect x="315.05" y="162.80" width="12.50" height="2.00" rx="0.83" fill="#000" fill-opacity="0.40"/>
<rect x="315.05" y="158.50" width="12.50" height="2.00" rx="0.83" fill="#000" fill-opacity="0.30"/>
<rect x="332.75" y="175.30" width="12.50" height="2.00" rx="0.83" fill="#000" fill-opacity="0.45"/>
<rect x="332.75" y="172.30" width="12.50" height="2.00" rx="0.83" fill="#000" fill-opacity="0.50"/>
<rect x="332.75" y="169.20" width="12.50" height="2.00" rx="0.83" fill="#000" fill-opacity="0.45"/>
<rect x="332.75" y="166.00" width="12.50" height="2.00" rx="0.83" fill="#000" fill-opacity="0.45"/>
<rect x="332.75" y="163.00" width="12.50" height="2.00" rx="0.83" fill="#000" fill-opacity="0.55"/>
<rect x="332.75" y="160.00" width="12.50" height="2.00" rx="0.83" fill="#000" fill-opacity="0.40"/>
<rect x="332.75" y="157.30" width="12.50" height="2.00" rx="0.83" fill="#000" fill-opacity="0.50"/>
<rect x="315.3" y="157" width="12" height="30" fill="#000" fill-opacity="0.08"/>
<rect x="333" y="157" width="12" height="30" fill="#000" fill-opacity="0.18"/>
<rect x="351.80" y="158.70" width="10.00" height="1.20" rx="0.50" fill="#000" fill-opacity="0.20"/>
<rect x="351.30" y="162.05" width="11.00" height="1.50" rx="0.62" fill="#000" fill-opacity="0.18"/>
<rect x="369.80" y="158.70" width="10.00" height="1.20" rx="0.50" fill="#000" fill-opacity="0.20"/>
<rect x="369.30" y="162.05" width="11.00" height="1.50" rx="0.62" fill="#000" fill-opacity="0.18"/>
<rect x="387.40" y="158.70" width="10.00" height="1.20" rx="0.50" fill="#000" fill-opacity="0.24"/>
<rect x="386.90" y="162.05" width="11.00" height="1.50" rx="0.62" fill="#000" fill-opacity="0.22"/>
<rect x="405.00" y="158.70" width="10.00" height="1.20" rx="0.50" fill="#000" fill-opacity="0.36"/>
<rect x="404.50" y="162.05" width="11.00" height="1.50" rx="0.62" fill="#000" fill-opacity="0.32"/>
<rect x="404.50" y="165.80" width="11.00" height="1.40" rx="0.58" fill="#000" fill-opacity="0.25"/>
<rect x="405.00" y="169.40" width="10.00" height="1.20" rx="0.50" fill="#000" fill-opacity="0.18"/>
<rect x="422.40" y="158.70" width="10.00" height="1.20" rx="0.50" fill="#000" fill-opacity="0.46"/>
<rect x="421.90" y="162.05" width="11.00" height="1.50" rx="0.62" fill="#000" fill-opacity="0.41"/>
<rect x="421.90" y="165.80" width="11.00" height="1.40" rx="0.58" fill="#000" fill-opacity="0.32"/>
<rect x="422.40" y="169.40" width="10.00" height="1.20" rx="0.50" fill="#000" fill-opacity="0.23"/>
</g></g>
<rect x="240.50" y="157.50" width="196.00" height="60.00" fill="none" stroke="#000" stroke-width="1.1"/>
<text x="439.60" y="190.50" font-size="5.55" text-anchor="start" fill="#000">IB: CRBN</text>
<text x="212.50" y="228.80" font-size="5.8" text-anchor="start" fill="#000">UBE2D3</text>
<text x="212.50" y="238.80" font-size="5.8" text-anchor="start" fill="#000">UBE2G1</text>
<text x="247.30" y="228.80" font-size="6.0" text-anchor="middle" fill="#000">-</text>
<text x="247.30" y="238.80" font-size="6.0" text-anchor="middle" fill="#000">-</text>
<text x="272.40" y="228.80" font-size="6.0" text-anchor="middle" fill="#000">30m</text>
<text x="270.60" y="238.80" font-size="6.0" text-anchor="middle" fill="#000">-</text>
<text x="288.00" y="228.80" font-size="6.0" text-anchor="middle" fill="#000">30m</text>
<text x="288.00" y="238.80" font-size="6.0" text-anchor="middle" fill="#000">1s</text>
<text x="305.20" y="228.80" font-size="6.0" text-anchor="middle" fill="#000">30m</text>
<text x="305.20" y="238.80" font-size="6.0" text-anchor="middle" fill="#000">10s</text>
<text x="322.30" y="228.80" font-size="6.0" text-anchor="middle" fill="#000">30m</text>
<text x="322.30" y="238.80" font-size="6.0" text-anchor="middle" fill="#000">30s</text>
<text x="339.30" y="228.80" font-size="6.0" text-anchor="middle" fill="#000">35m</text>
<text x="339.30" y="238.80" font-size="6.0" text-anchor="middle" fill="#000">5m</text>
<text x="357.00" y="228.80" font-size="6.0" text-anchor="middle" fill="#000">-</text>
<text x="357.00" y="238.80" font-size="6.0" text-anchor="middle" fill="#000">30m</text>
<text x="374.80" y="228.80" font-size="6.0" text-anchor="middle" fill="#000">1s</text>
<text x="374.80" y="238.80" font-size="6.0" text-anchor="middle" fill="#000">30m</text>
<text x="392.50" y="228.80" font-size="6.0" text-anchor="middle" fill="#000">10s</text>
<text x="392.50" y="238.80" font-size="6.0" text-anchor="middle" fill="#000">30m</text>
<text x="410.00" y="228.80" font-size="6.0" text-anchor="middle" fill="#000">30s</text>
<text x="410.00" y="238.80" font-size="6.0" text-anchor="middle" fill="#000">30m</text>
<text x="427.60" y="228.80" font-size="6.0" text-anchor="middle" fill="#000">5m</text>
<text x="427.60" y="238.80" font-size="6.0" text-anchor="middle" fill="#000">35m</text>
<rect x="262.30" y="250.80" width="84.00" height="7.50" fill="#000"/>
<text x="304.00" y="256.60" font-size="5.6" text-anchor="middle" fill="#fff" class="w">UBE2D3</text>
<path d="M280.8,270.9 L346.3,263 L346.3,270.9 Z" fill="#000"/>
<text x="332.60" y="269.80" font-size="5.6" text-anchor="middle" fill="#fff" class="w">UBE2G1</text>
<path d="M370,258.3 L435.9,250.8 L435.9,258.3 Z" fill="#000"/>
<text x="423.00" y="257.30" font-size="5.6" text-anchor="middle" fill="#fff" class="w">UBE2D3</text>
<rect x="351.90" y="263.20" width="84.00" height="7.70" fill="#000"/>
<text x="393.50" y="269.20" font-size="5.6" text-anchor="middle" fill="#fff" class="w">UBE2G1</text>
<rect x="7.30" y="315.60" width="267.80" height="16.90" fill="#fff"/>
<g clip-path="url(#c3)"><g filter="url(#b6)">
<rect x="10.00" y="321.35" width="10.60" height="3.10" rx="1.29" fill="#000" fill-opacity="1.00" transform="rotate(5 15.30 322.90)"/>
<rect x="11.50" y="321.90" width="7.60" height="2.00" rx="0.83" fill="#000" fill-opacity="1.00" transform="rotate(5 15.30 322.90)"/>
<rect x="25.20" y="323.60" width="2.20" height="1.40" rx="0.55" fill="#000" fill-opacity="0.26"/>
<rect x="29.90" y="324.00" width="1.80" height="1.20" rx="0.45" fill="#000" fill-opacity="0.19"/>
<rect x="36.50" y="322.97" width="9.60" height="3.06" rx="1.27" fill="#000" fill-opacity="1.00"/>
<rect x="37.50" y="323.50" width="7.60" height="2.00" rx="0.83" fill="#000" fill-opacity="0.95"/>
<rect x="51.20" y="323.60" width="2.20" height="1.40" rx="0.55" fill="#000" fill-opacity="0.22"/>
<rect x="55.90" y="324.00" width="1.80" height="1.20" rx="0.45" fill="#000" fill-opacity="0.16"/>
<rect x="62.50" y="323.57" width="9.60" height="3.06" rx="1.27" fill="#000" fill-opacity="1.00"/>
<rect x="63.50" y="324.10" width="7.60" height="2.00" rx="0.83" fill="#000" fill-opacity="0.95"/>
<rect x="75.50" y="323.59" width="9.60" height="3.02" rx="1.26" fill="#000" fill-opacity="1.00"/>
<rect x="76.50" y="324.10" width="7.60" height="2.00" rx="0.83" fill="#000" fill-opacity="0.90"/>
<rect x="88.50" y="323.83" width="9.60" height="2.94" rx="1.23" fill="#000" fill-opacity="0.90"/>
<rect x="89.50" y="324.30" width="7.60" height="2.00" rx="0.83" fill="#000" fill-opacity="0.80"/>
<rect x="101.50" y="323.65" width="9.60" height="2.90" rx="1.21" fill="#000" fill-opacity="0.85"/>
<rect x="102.50" y="324.10" width="7.60" height="2.00" rx="0.83" fill="#000" fill-opacity="0.75"/>
<rect x="114.50" y="322.75" width="9.60" height="3.10" rx="1.29" fill="#000" fill-opacity="1.00" transform="rotate(-6 119.30 324.30)"/>
<rect x="115.50" y="323.30" width="7.60" height="2.00" rx="0.83" fill="#000" fill-opacity="1.00" transform="rotate(-6 119.30 324.30)"/>
<rect x="140.50" y="323.15" width="9.60" height="2.90" rx="1.21" fill="#000" fill-opacity="0.85"/>
<rect x="141.50" y="323.60" width="7.60" height="2.00" rx="0.83" fill="#000" fill-opacity="0.75"/>
<rect x="155.20" y="323.60" width="2.20" height="1.40" rx="0.55" fill="#000" fill-opacity="0.26"/>
<rect x="159.90" y="324.00" width="1.80" height="1.20" rx="0.45" fill="#000" fill-opacity="0.19"/>
<rect x="166.50" y="322.41" width="9.60" height="2.98" rx="1.24" fill="#000" fill-opacity="0.95"/>
<rect x="167.50" y="322.90" width="7.60" height="2.00" rx="0.83" fill="#000" fill-opacity="0.85"/>
<rect x="181.20" y="323.60" width="2.20" height="1.40" rx="0.55" fill="#000" fill-opacity="0.37"/>
<rect x="185.90" y="324.00" width="1.80" height="1.20" rx="0.45" fill="#000" fill-opacity="0.27"/>
<rect x="192.50" y="322.31" width="9.60" height="2.98" rx="1.24" fill="#000" fill-opacity="0.95"/>
<rect x="193.50" y="322.80" width="7.60" height="2.00" rx="0.83" fill="#000" fill-opacity="0.85"/>
<rect x="207.20" y="323.60" width="2.20" height="1.40" rx="0.55" fill="#000" fill-opacity="0.33"/>
<rect x="211.90" y="324.00" width="1.80" height="1.20" rx="0.45" fill="#000" fill-opacity="0.24"/>
<rect x="218.50" y="322.15" width="9.60" height="3.10" rx="1.29" fill="#000" fill-opacity="1.00"/>
<rect x="219.50" y="322.70" width="7.60" height="2.00" rx="0.83" fill="#000" fill-opacity="1.00"/>
<rect x="232.05" y="322.67" width="8.50" height="2.86" rx="1.19" fill="#000" fill-opacity="0.80"/>
<rect x="244.50" y="322.37" width="9.60" height="3.06" rx="1.27" fill="#000" fill-opacity="1.00"/>
<rect x="245.50" y="322.90" width="7.60" height="2.00" rx="0.83" fill="#000" fill-opacity="0.95"/>
<rect x="258.05" y="322.33" width="8.50" height="2.74" rx="1.14" fill="#000" fill-opacity="0.65"/>
</g></g>
<rect x="7.50" y="315.50" width="268.00" height="17.00" fill="none" stroke="#000" stroke-width="1.0"/>
<rect x="7.30" y="336.70" width="267.80" height="14.50" fill="#fff"/>
<g clip-path="url(#c4)"><g filter="url(#b6)">
<rect x="11.00" y="343.99" width="8.60" height="1.90" rx="0.79" fill="#000" fill-opacity="0.62" transform="rotate(4 15.30 344.94)"/>
<rect x="37.00" y="345.27" width="8.60" height="1.90" rx="0.79" fill="#000" fill-opacity="0.59"/>
<rect x="63.00" y="345.75" width="8.60" height="1.90" rx="0.79" fill="#000" fill-opacity="0.59"/>
<rect x="76.00" y="345.75" width="8.60" height="1.90" rx="0.79" fill="#000" fill-opacity="0.56"/>
<rect x="89.00" y="345.91" width="8.60" height="1.90" rx="0.79" fill="#000" fill-opacity="0.50"/>
<rect x="102.00" y="345.75" width="8.60" height="1.90" rx="0.79" fill="#000" fill-opacity="0.46"/>
<rect x="115.00" y="345.11" width="8.60" height="1.90" rx="0.79" fill="#000" fill-opacity="0.62" transform="rotate(-6 119.30 346.06)"/>
<rect x="141.00" y="345.35" width="8.60" height="1.90" rx="0.79" fill="#000" fill-opacity="0.46"/>
<rect x="167.00" y="344.79" width="8.60" height="1.90" rx="0.79" fill="#000" fill-opacity="0.53"/>
<rect x="193.00" y="344.71" width="8.60" height="1.90" rx="0.79" fill="#000" fill-opacity="0.53"/>
<rect x="219.00" y="344.63" width="8.60" height="1.90" rx="0.79" fill="#000" fill-opacity="0.62"/>
<rect x="232.00" y="344.95" width="8.60" height="1.90" rx="0.79" fill="#000" fill-opacity="0.43"/>
<rect x="245.00" y="344.79" width="8.60" height="1.90" rx="0.79" fill="#000" fill-opacity="0.59"/>
<rect x="258.00" y="344.63" width="8.60" height="1.90" rx="0.79" fill="#000" fill-opacity="0.34"/>
</g></g>
<rect x="7.50" y="336.50" width="268.00" height="15.00" fill="none" stroke="#000" stroke-width="1.0"/>
<rect x="7.30" y="354.60" width="267.80" height="16.70" fill="#fff"/>
<g clip-path="url(#c5)"><g filter="url(#b6)">
<rect x="10.10" y="359.50" width="10.40" height="6.20" rx="2.58" fill="#000" fill-opacity="1.00"/>
<rect x="10.20" y="360.40" width="10.20" height="2.40" rx="1.00" fill="#000" fill-opacity="0.60"/>
<rect x="23.60" y="359.20" width="9.40" height="2.20" rx="0.92" fill="#000" fill-opacity="0.85"/>
<rect x="24.30" y="362.00" width="8.00" height="1.60" rx="0.67" fill="#000" fill-opacity="0.27"/>
<rect x="36.10" y="359.50" width="10.40" height="6.20" rx="2.58" fill="#000" fill-opacity="1.00"/>
<rect x="36.20" y="360.40" width="10.20" height="2.40" rx="1.00" fill="#000" fill-opacity="0.60"/>
<rect x="49.60" y="359.20" width="9.40" height="2.20" rx="0.92" fill="#000" fill-opacity="0.85"/>
<rect x="50.30" y="362.00" width="8.00" height="1.60" rx="0.67" fill="#000" fill-opacity="0.27"/>
<rect x="62.10" y="359.50" width="10.40" height="6.20" rx="2.58" fill="#000" fill-opacity="1.00"/>
<rect x="62.20" y="360.40" width="10.20" height="2.40" rx="1.00" fill="#000" fill-opacity="0.60"/>
<rect x="75.10" y="359.50" width="10.40" height="6.20" rx="2.58" fill="#000" fill-opacity="0.95"/>
<rect x="75.20" y="360.40" width="10.20" height="2.40" rx="1.00" fill="#000" fill-opacity="0.60"/>
<rect x="88.10" y="359.50" width="10.40" height="6.20" rx="2.58" fill="#000" fill-opacity="1.00"/>
<rect x="88.20" y="360.40" width="10.20" height="2.40" rx="1.00" fill="#000" fill-opacity="0.60"/>
<rect x="101.10" y="359.50" width="10.40" height="6.20" rx="2.58" fill="#000" fill-opacity="1.00"/>
<rect x="101.20" y="360.40" width="10.20" height="2.40" rx="1.00" fill="#000" fill-opacity="0.60"/>
<rect x="114.10" y="359.50" width="10.40" height="6.20" rx="2.58" fill="#000" fill-opacity="0.85"/>
<rect x="114.20" y="360.40" width="10.20" height="2.40" rx="1.00" fill="#000" fill-opacity="0.60"/>
<rect x="127.60" y="359.20" width="9.40" height="2.20" rx="0.92" fill="#000" fill-opacity="0.60"/>
<rect x="128.30" y="362.00" width="8.00" height="1.60" rx="0.67" fill="#000" fill-opacity="0.16"/>
<rect x="140.10" y="359.50" width="10.40" height="6.20" rx="2.58" fill="#000" fill-opacity="0.85"/>
<rect x="140.20" y="360.40" width="10.20" height="2.40" rx="1.00" fill="#000" fill-opacity="0.60"/>
<rect x="153.60" y="359.20" width="9.40" height="2.20" rx="0.92" fill="#000" fill-opacity="0.75"/>
<rect x="154.30" y="362.00" width="8.00" height="1.60" rx="0.67" fill="#000" fill-opacity="0.23"/>
<rect x="166.10" y="359.50" width="10.40" height="6.20" rx="2.58" fill="#000" fill-opacity="1.00"/>
<rect x="166.20" y="360.40" width="10.20" height="2.40" rx="1.00" fill="#000" fill-opacity="0.60"/>
<rect x="179.60" y="359.20" width="9.40" height="2.20" rx="0.92" fill="#000" fill-opacity="0.95"/>
<rect x="180.30" y="362.00" width="8.00" height="1.60" rx="0.67" fill="#000" fill-opacity="0.32"/>
<rect x="192.10" y="359.50" width="10.40" height="6.20" rx="2.58" fill="#000" fill-opacity="0.90"/>
<rect x="192.20" y="360.40" width="10.20" height="2.40" rx="1.00" fill="#000" fill-opacity="0.60"/>
<rect x="205.60" y="359.20" width="9.40" height="2.20" rx="0.92" fill="#000" fill-opacity="0.95"/>
<rect x="206.30" y="362.00" width="8.00" height="1.60" rx="0.67" fill="#000" fill-opacity="0.32"/>
<rect x="218.10" y="359.50" width="10.40" height="6.20" rx="2.58" fill="#000" fill-opacity="1.00"/>
<rect x="218.20" y="360.40" width="10.20" height="2.40" rx="1.00" fill="#000" fill-opacity="0.60"/>
<rect x="231.10" y="359.50" width="10.40" height="6.20" rx="2.58" fill="#000" fill-opacity="0.95"/>
<rect x="231.20" y="360.40" width="10.20" height="2.40" rx="1.00" fill="#000" fill-opacity="0.60"/>
<rect x="244.10" y="359.50" width="10.40" height="6.20" rx="2.58" fill="#000" fill-opacity="1.00"/>
<rect x="244.20" y="360.40" width="10.20" height="2.40" rx="1.00" fill="#000" fill-opacity="0.60"/>
<rect x="257.10" y="359.50" width="10.40" height="6.20" rx="2.58" fill="#000" fill-opacity="0.90"/>
<rect x="257.20" y="360.40" width="10.20" height="2.40" rx="1.00" fill="#000" fill-opacity="0.60"/>
</g></g>
<rect x="7.50" y="354.50" width="268.00" height="17.00" fill="none" stroke="#000" stroke-width="1.0"/>
<rect x="7.30" y="375.20" width="267.80" height="15.10" fill="#fff"/>
<g clip-path="url(#c6)"><g filter="url(#b6)">
<rect x="11.50" y="381.25" width="7.60" height="1.50" rx="0.62" fill="#000" fill-opacity="0.47"/>
<rect x="11.40" y="380.90" width="2.60" height="2.40" rx="0.65" fill="#000" fill-opacity="0.68"/>
<rect x="16.60" y="380.90" width="2.60" height="2.40" rx="0.65" fill="#000" fill-opacity="0.68"/>
<rect x="26.05" y="381.45" width="4.50" height="1.50" rx="0.62" fill="#000" fill-opacity="0.09"/>
<rect x="37.50" y="381.25" width="7.60" height="1.50" rx="0.62" fill="#000" fill-opacity="0.39"/>
<rect x="37.40" y="380.90" width="2.60" height="2.40" rx="0.65" fill="#000" fill-opacity="0.56"/>
<rect x="42.60" y="380.90" width="2.60" height="2.40" rx="0.65" fill="#000" fill-opacity="0.56"/>
<rect x="52.05" y="381.45" width="4.50" height="1.50" rx="0.62" fill="#000" fill-opacity="0.09"/>
<rect x="63.50" y="381.25" width="7.60" height="1.50" rx="0.62" fill="#000" fill-opacity="0.41"/>
<rect x="63.40" y="380.90" width="2.60" height="2.40" rx="0.65" fill="#000" fill-opacity="0.60"/>
<rect x="68.60" y="380.90" width="2.60" height="2.40" rx="0.65" fill="#000" fill-opacity="0.60"/>
<rect x="78.05" y="381.45" width="4.50" height="1.50" rx="0.62" fill="#000" fill-opacity="0.27"/>
<rect x="89.50" y="381.25" width="7.60" height="1.50" rx="0.62" fill="#000" fill-opacity="0.41"/>
<rect x="89.40" y="380.90" width="2.60" height="2.40" rx="0.65" fill="#000" fill-opacity="0.60"/>
<rect x="94.60" y="380.90" width="2.60" height="2.40" rx="0.65" fill="#000" fill-opacity="0.60"/>
<rect x="102.50" y="381.25" width="7.60" height="1.50" rx="0.62" fill="#000" fill-opacity="0.33"/>
<rect x="102.40" y="380.90" width="2.60" height="2.40" rx="0.65" fill="#000" fill-opacity="0.48"/>
<rect x="107.60" y="380.90" width="2.60" height="2.40" rx="0.65" fill="#000" fill-opacity="0.48"/>
<rect x="117.05" y="381.45" width="4.50" height="1.50" rx="0.62" fill="#000" fill-opacity="0.32"/>
<rect x="130.05" y="381.45" width="4.50" height="1.50" rx="0.62" fill="#000" fill-opacity="0.11"/>
<rect x="143.05" y="381.45" width="4.50" height="1.50" rx="0.62" fill="#000" fill-opacity="0.32"/>
<rect x="156.05" y="381.45" width="4.50" height="1.50" rx="0.62" fill="#000" fill-opacity="0.18"/>
<rect x="167.50" y="381.25" width="7.60" height="1.50" rx="0.62" fill="#000" fill-opacity="0.47"/>
<rect x="167.40" y="380.90" width="2.60" height="2.40" rx="0.65" fill="#000" fill-opacity="0.68"/>
<rect x="172.60" y="380.90" width="2.60" height="2.40" rx="0.65" fill="#000" fill-opacity="0.68"/>
<rect x="182.05" y="381.45" width="4.50" height="1.50" rx="0.62" fill="#000" fill-opacity="0.27"/>
<rect x="193.50" y="381.25" width="7.60" height="1.50" rx="0.62" fill="#000" fill-opacity="0.33"/>
<rect x="193.40" y="380.90" width="2.60" height="2.40" rx="0.65" fill="#000" fill-opacity="0.48"/>
<rect x="198.60" y="380.90" width="2.60" height="2.40" rx="0.65" fill="#000" fill-opacity="0.48"/>
<rect x="208.05" y="381.45" width="4.50" height="1.50" rx="0.62" fill="#000" fill-opacity="0.27"/>
<rect x="219.50" y="381.25" width="7.60" height="1.50" rx="0.62" fill="#000" fill-opacity="0.39"/>
<rect x="219.40" y="380.90" width="2.60" height="2.40" rx="0.65" fill="#000" fill-opacity="0.56"/>
<rect x="224.60" y="380.90" width="2.60" height="2.40" rx="0.65" fill="#000" fill-opacity="0.56"/>
<rect x="232.50" y="381.25" width="7.60" height="1.50" rx="0.62" fill="#000" fill-opacity="0.33"/>
<rect x="232.40" y="380.90" width="2.60" height="2.40" rx="0.65" fill="#000" fill-opacity="0.48"/>
<rect x="237.60" y="380.90" width="2.60" height="2.40" rx="0.65" fill="#000" fill-opacity="0.48"/>
<rect x="245.50" y="381.25" width="7.60" height="1.50" rx="0.62" fill="#000" fill-opacity="0.44"/>
<rect x="245.40" y="380.90" width="2.60" height="2.40" rx="0.65" fill="#000" fill-opacity="0.64"/>
<rect x="250.60" y="380.90" width="2.60" height="2.40" rx="0.65" fill="#000" fill-opacity="0.64"/>
<rect x="260.05" y="381.45" width="4.50" height="1.50" rx="0.62" fill="#000" fill-opacity="0.32"/>
</g></g>
<rect x="7.50" y="375.50" width="268.00" height="15.00" fill="none" stroke="#000" stroke-width="1.0"/>
<rect x="7.30" y="393.70" width="267.80" height="15.30" fill="#fff"/>
<g clip-path="url(#c7)"><g filter="url(#b6)">
<rect x="9.80" y="399.50" width="11.00" height="3.40" rx="1.42" fill="#000" fill-opacity="1.00"/>
<rect x="10.80" y="399.90" width="9.00" height="2.60" rx="1.08" fill="#000" fill-opacity="1.00"/>
<rect x="22.80" y="400.00" width="11.00" height="3.40" rx="1.42" fill="#000" fill-opacity="1.00"/>
<rect x="23.80" y="400.40" width="9.00" height="2.60" rx="1.08" fill="#000" fill-opacity="1.00"/>
<rect x="35.80" y="400.50" width="11.00" height="3.40" rx="1.42" fill="#000" fill-opacity="1.00"/>
<rect x="36.80" y="400.90" width="9.00" height="2.60" rx="1.08" fill="#000" fill-opacity="1.00"/>
<rect x="48.80" y="401.00" width="11.00" height="3.40" rx="1.42" fill="#000" fill-opacity="1.00"/>
<rect x="49.80" y="401.40" width="9.00" height="2.60" rx="1.08" fill="#000" fill-opacity="1.00"/>
<rect x="113.80" y="399.50" width="11.00" height="3.40" rx="1.42" fill="#000" fill-opacity="1.00"/>
<rect x="114.80" y="399.90" width="9.00" height="2.60" rx="1.08" fill="#000" fill-opacity="1.00"/>
<rect x="126.80" y="399.38" width="11.00" height="3.40" rx="1.42" fill="#000" fill-opacity="1.00"/>
<rect x="127.80" y="399.78" width="9.00" height="2.60" rx="1.08" fill="#000" fill-opacity="1.00"/>
<rect x="139.80" y="399.26" width="11.00" height="3.40" rx="1.42" fill="#000" fill-opacity="1.00"/>
<rect x="140.80" y="399.66" width="9.00" height="2.60" rx="1.08" fill="#000" fill-opacity="1.00"/>
<rect x="152.80" y="399.14" width="11.00" height="3.40" rx="1.42" fill="#000" fill-opacity="1.00"/>
<rect x="153.80" y="399.54" width="9.00" height="2.60" rx="1.08" fill="#000" fill-opacity="1.00"/>
<rect x="165.80" y="399.02" width="11.00" height="3.40" rx="1.42" fill="#000" fill-opacity="1.00"/>
<rect x="166.80" y="399.42" width="9.00" height="2.60" rx="1.08" fill="#000" fill-opacity="1.00"/>
<rect x="178.80" y="398.90" width="11.00" height="3.40" rx="1.42" fill="#000" fill-opacity="1.00"/>
<rect x="179.80" y="399.30" width="9.00" height="2.60" rx="1.08" fill="#000" fill-opacity="1.00"/>
<rect x="191.80" y="398.78" width="11.00" height="3.40" rx="1.42" fill="#000" fill-opacity="1.00"/>
<rect x="192.80" y="399.18" width="9.00" height="2.60" rx="1.08" fill="#000" fill-opacity="1.00"/>
<rect x="204.80" y="398.66" width="11.00" height="3.40" rx="1.42" fill="#000" fill-opacity="1.00"/>
<rect x="205.80" y="399.06" width="9.00" height="2.60" rx="1.08" fill="#000" fill-opacity="1.00"/>
<rect x="217.80" y="398.54" width="11.00" height="3.40" rx="1.42" fill="#000" fill-opacity="1.00"/>
<rect x="218.80" y="398.94" width="9.00" height="2.60" rx="1.08" fill="#000" fill-opacity="1.00"/>
<rect x="230.80" y="398.42" width="11.00" height="3.40" rx="1.42" fill="#000" fill-opacity="1.00"/>
<rect x="231.80" y="398.82" width="9.00" height="2.60" rx="1.08" fill="#000" fill-opacity="1.00"/>
<rect x="243.80" y="398.30" width="11.00" height="3.40" rx="1.42" fill="#000" fill-opacity="1.00"/>
<rect x="244.80" y="398.70" width="9.00" height="2.60" rx="1.08" fill="#000" fill-opacity="1.00"/>
<rect x="256.80" y="398.18" width="11.00" height="3.40" rx="1.42" fill="#000" fill-opacity="1.00"/>
<rect x="257.80" y="398.58" width="9.00" height="2.60" rx="1.08" fill="#000" fill-opacity="1.00"/>
</g></g>
<rect x="7.50" y="393.50" width="268.00" height="16.00" fill="none" stroke="#000" stroke-width="1.0"/>
<rect x="7.30" y="412.50" width="267.80" height="16.30" fill="#fff"/>
<g clip-path="url(#c8)"><g filter="url(#b6)">
<rect x="10.20" y="419.30" width="10.20" height="2.60" rx="1.08" fill="#000" fill-opacity="0.95"/>
<rect x="11.30" y="419.60" width="8.00" height="2.00" rx="0.83" fill="#000" fill-opacity="0.80"/>
<rect x="23.20" y="419.75" width="10.20" height="2.60" rx="1.08" fill="#000" fill-opacity="0.95"/>
<rect x="24.30" y="420.05" width="8.00" height="2.00" rx="0.83" fill="#000" fill-opacity="0.80"/>
<rect x="36.20" y="420.20" width="10.20" height="2.60" rx="1.08" fill="#000" fill-opacity="0.95"/>
<rect x="37.30" y="420.50" width="8.00" height="2.00" rx="0.83" fill="#000" fill-opacity="0.80"/>
<rect x="49.20" y="420.65" width="10.20" height="2.60" rx="1.08" fill="#000" fill-opacity="0.95"/>
<rect x="50.30" y="420.95" width="8.00" height="2.00" rx="0.83" fill="#000" fill-opacity="0.80"/>
<rect x="62.20" y="421.10" width="10.20" height="2.60" rx="1.08" fill="#000" fill-opacity="0.95"/>
<rect x="63.30" y="421.40" width="8.00" height="2.00" rx="0.83" fill="#000" fill-opacity="0.80"/>
<rect x="75.20" y="421.10" width="10.20" height="2.60" rx="1.08" fill="#000" fill-opacity="0.95"/>
<rect x="76.30" y="421.40" width="8.00" height="2.00" rx="0.83" fill="#000" fill-opacity="0.80"/>
<rect x="88.20" y="421.10" width="10.20" height="2.60" rx="1.08" fill="#000" fill-opacity="0.95"/>
<rect x="89.30" y="421.40" width="8.00" height="2.00" rx="0.83" fill="#000" fill-opacity="0.80"/>
<rect x="101.20" y="421.10" width="10.20" height="2.60" rx="1.08" fill="#000" fill-opacity="0.95"/>
<rect x="102.30" y="421.40" width="8.00" height="2.00" rx="0.83" fill="#000" fill-opacity="0.80"/>
<rect x="114.20" y="421.10" width="10.20" height="2.60" rx="1.08" fill="#000" fill-opacity="0.95"/>
<rect x="115.30" y="421.40" width="8.00" height="2.00" rx="0.83" fill="#000" fill-opacity="0.80"/>
<rect x="127.20" y="420.85" width="10.20" height="2.60" rx="1.08" fill="#000" fill-opacity="0.95"/>
<rect x="128.30" y="421.15" width="8.00" height="2.00" rx="0.83" fill="#000" fill-opacity="0.80"/>
<rect x="140.20" y="420.60" width="10.20" height="2.60" rx="1.08" fill="#000" fill-opacity="0.95"/>
<rect x="141.30" y="420.90" width="8.00" height="2.00" rx="0.83" fill="#000" fill-opacity="0.80"/>
<rect x="153.20" y="420.35" width="10.20" height="2.60" rx="1.08" fill="#000" fill-opacity="0.95"/>
<rect x="154.30" y="420.65" width="8.00" height="2.00" rx="0.83" fill="#000" fill-opacity="0.80"/>
<rect x="166.20" y="420.10" width="10.20" height="2.60" rx="1.08" fill="#000" fill-opacity="0.24"/>
<rect x="181.30" y="420.40" width="6.00" height="1.20" rx="0.50" fill="#000" fill-opacity="0.08"/>
</g></g>
<rect x="7.50" y="412.50" width="268.00" height="16.00" fill="none" stroke="#000" stroke-width="1.0"/>
<rect x="7.30" y="432.10" width="267.80" height="12.90" fill="#fff"/>
<g clip-path="url(#c9)"><g filter="url(#b6)">
<rect x="10.50" y="435.40" width="9.60" height="2.40" rx="1.00" fill="#000" fill-opacity="0.75"/>
<rect x="11.80" y="437.70" width="7.00" height="2.20" rx="0.92" fill="#000" fill-opacity="0.34"/>
<rect x="23.50" y="436.15" width="9.60" height="2.40" rx="1.00" fill="#000" fill-opacity="0.90"/>
<rect x="24.80" y="438.45" width="7.00" height="2.20" rx="0.92" fill="#000" fill-opacity="0.41"/>
<rect x="36.50" y="436.90" width="9.60" height="2.40" rx="1.00" fill="#000" fill-opacity="0.90"/>
<rect x="37.80" y="439.20" width="7.00" height="2.20" rx="0.92" fill="#000" fill-opacity="0.41"/>
<rect x="49.50" y="438.15" width="9.60" height="2.40" rx="1.00" fill="#000" fill-opacity="1.00"/>
<rect x="50.80" y="440.45" width="7.00" height="2.20" rx="0.92" fill="#000" fill-opacity="0.45"/>
<rect x="62.50" y="438.15" width="9.60" height="2.40" rx="1.00" fill="#000" fill-opacity="1.00"/>
<rect x="63.80" y="440.45" width="7.00" height="2.20" rx="0.92" fill="#000" fill-opacity="0.45"/>
<rect x="75.50" y="438.15" width="9.60" height="2.40" rx="1.00" fill="#000" fill-opacity="1.00"/>
<rect x="76.80" y="440.45" width="7.00" height="2.20" rx="0.92" fill="#000" fill-opacity="0.45"/>
<rect x="88.50" y="437.65" width="9.60" height="2.40" rx="1.00" fill="#000" fill-opacity="0.85"/>
<rect x="89.80" y="439.95" width="7.00" height="2.20" rx="0.92" fill="#000" fill-opacity="0.38"/>
<rect x="101.50" y="437.65" width="9.60" height="2.40" rx="1.00" fill="#000" fill-opacity="0.90"/>
<rect x="102.80" y="439.95" width="7.00" height="2.20" rx="0.92" fill="#000" fill-opacity="0.41"/>
<rect x="166.00" y="437.80" width="10.60" height="3.60" rx="1.50" fill="#000" fill-opacity="1.00"/>
<rect x="167.80" y="440.70" width="7.00" height="2.20" rx="0.92" fill="#000" fill-opacity="0.45"/>
<rect x="179.00" y="437.80" width="10.60" height="3.60" rx="1.50" fill="#000" fill-opacity="1.00"/>
<rect x="180.80" y="440.70" width="7.00" height="2.20" rx="0.92" fill="#000" fill-opacity="0.45"/>
<rect x="192.00" y="437.80" width="10.60" height="3.60" rx="1.50" fill="#000" fill-opacity="0.95"/>
<rect x="193.80" y="440.70" width="7.00" height="2.20" rx="0.92" fill="#000" fill-opacity="0.43"/>
<rect x="205.00" y="437.80" width="10.60" height="3.60" rx="1.50" fill="#000" fill-opacity="0.50"/>
<rect x="206.80" y="440.70" width="7.00" height="2.20" rx="0.92" fill="#000" fill-opacity="0.23"/>
<rect x="221.80" y="438.90" width="3.00" height="1.40" rx="0.58" fill="#000" fill-opacity="0.20"/>
<rect x="234.80" y="438.90" width="3.00" height="1.40" rx="0.58" fill="#000" fill-opacity="0.12"/>
</g></g>
<rect x="7.50" y="432.50" width="268.00" height="13.00" fill="none" stroke="#000" stroke-width="1.0"/>
<rect x="7.30" y="447.50" width="267.80" height="17.30" fill="#fff"/>
<g clip-path="url(#c10)"><g filter="url(#b6)">
<rect x="9.40" y="454.00" width="11.80" height="3.80" rx="1.58" fill="#000" fill-opacity="1.00"/>
<rect x="10.30" y="454.40" width="10.00" height="3.00" rx="1.25" fill="#000" fill-opacity="1.00"/>
<rect x="22.40" y="454.80" width="11.80" height="3.80" rx="1.58" fill="#000" fill-opacity="1.00"/>
<rect x="23.30" y="455.20" width="10.00" height="3.00" rx="1.25" fill="#000" fill-opacity="1.00"/>
<rect x="35.40" y="455.60" width="11.80" height="3.80" rx="1.58" fill="#000" fill-opacity="1.00"/>
<rect x="36.30" y="456.00" width="10.00" height="3.00" rx="1.25" fill="#000" fill-opacity="1.00"/>
<rect x="48.40" y="455.60" width="11.80" height="3.80" rx="1.58" fill="#000" fill-opacity="1.00"/>
<rect x="49.30" y="456.00" width="10.00" height="3.00" rx="1.25" fill="#000" fill-opacity="1.00"/>
<rect x="61.40" y="455.50" width="11.80" height="3.80" rx="1.58" fill="#000" fill-opacity="1.00"/>
<rect x="62.30" y="455.90" width="10.00" height="3.00" rx="1.25" fill="#000" fill-opacity="1.00"/>
<rect x="74.40" y="455.00" width="11.80" height="3.80" rx="1.58" fill="#000" fill-opacity="1.00"/>
<rect x="75.30" y="455.40" width="10.00" height="3.00" rx="1.25" fill="#000" fill-opacity="1.00"/>
<rect x="87.40" y="454.80" width="11.80" height="3.80" rx="1.58" fill="#000" fill-opacity="1.00"/>
<rect x="88.30" y="455.20" width="10.00" height="3.00" rx="1.25" fill="#000" fill-opacity="1.00"/>
<rect x="100.40" y="454.60" width="11.80" height="3.80" rx="1.58" fill="#000" fill-opacity="1.00"/>
<rect x="101.30" y="455.00" width="10.00" height="3.00" rx="1.25" fill="#000" fill-opacity="1.00"/>
<rect x="113.40" y="452.60" width="11.80" height="3.80" rx="1.58" fill="#000" fill-opacity="1.00"/>
<rect x="114.30" y="453.00" width="10.00" height="3.00" rx="1.25" fill="#000" fill-opacity="1.00"/>
<rect x="126.40" y="452.60" width="11.80" height="3.80" rx="1.58" fill="#000" fill-opacity="1.00"/>
<rect x="127.30" y="453.00" width="10.00" height="3.00" rx="1.25" fill="#000" fill-opacity="1.00"/>
<rect x="139.40" y="452.60" width="11.80" height="3.80" rx="1.58" fill="#000" fill-opacity="1.00"/>
<rect x="140.30" y="453.00" width="10.00" height="3.00" rx="1.25" fill="#000" fill-opacity="1.00"/>
<rect x="152.40" y="452.60" width="11.80" height="3.80" rx="1.58" fill="#000" fill-opacity="1.00"/>
<rect x="153.30" y="453.00" width="10.00" height="3.00" rx="1.25" fill="#000" fill-opacity="1.00"/>
<rect x="165.40" y="452.60" width="11.80" height="3.80" rx="1.58" fill="#000" fill-opacity="1.00"/>
<rect x="166.30" y="453.00" width="10.00" height="3.00" rx="1.25" fill="#000" fill-opacity="1.00"/>
<rect x="178.40" y="452.10" width="11.80" height="3.80" rx="1.58" fill="#000" fill-opacity="1.00"/>
<rect x="179.30" y="452.50" width="10.00" height="3.00" rx="1.25" fill="#000" fill-opacity="1.00"/>
<rect x="191.40" y="452.10" width="11.80" height="3.80" rx="1.58" fill="#000" fill-opacity="1.00"/>
<rect x="192.30" y="452.50" width="10.00" height="3.00" rx="1.25" fill="#000" fill-opacity="1.00"/>
<rect x="204.40" y="452.10" width="11.80" height="3.80" rx="1.58" fill="#000" fill-opacity="1.00"/>
<rect x="205.30" y="452.50" width="10.00" height="3.00" rx="1.25" fill="#000" fill-opacity="1.00"/>
<rect x="217.40" y="452.10" width="11.80" height="3.80" rx="1.58" fill="#000" fill-opacity="1.00"/>
<rect x="218.30" y="452.50" width="10.00" height="3.00" rx="1.25" fill="#000" fill-opacity="1.00"/>
<rect x="230.40" y="452.10" width="11.80" height="3.80" rx="1.58" fill="#000" fill-opacity="1.00"/>
<rect x="231.30" y="452.50" width="10.00" height="3.00" rx="1.25" fill="#000" fill-opacity="1.00"/>
<rect x="243.40" y="452.10" width="11.80" height="3.80" rx="1.58" fill="#000" fill-opacity="1.00"/>
<rect x="244.30" y="452.50" width="10.00" height="3.00" rx="1.25" fill="#000" fill-opacity="1.00"/>
<rect x="256.40" y="450.90" width="11.80" height="3.80" rx="1.58" fill="#000" fill-opacity="1.00"/>
<rect x="257.30" y="451.30" width="10.00" height="3.00" rx="1.25" fill="#000" fill-opacity="1.00"/>
</g></g>
<rect x="7.50" y="447.50" width="268.00" height="17.00" fill="none" stroke="#000" stroke-width="1.0"/>
<path d="M7.3,464.8 L7.3,460.5 L10.2,464.8 Z" fill="#000"/>
<text x="279.20" y="326.20" font-size="5.55" text-anchor="start" fill="#000">IB: IKZF3</text>
<text x="279.20" y="343.30" font-size="5.55" text-anchor="start" fill="#000">IB: IKZF3</text>
<text x="282.20" y="351.20" font-size="6.1" text-anchor="start" fill="#000">(light exposure)</text>
<text x="279.20" y="364.20" font-size="5.55" text-anchor="start" fill="#000">IB: IKZF1</text>
<text x="279.20" y="381.60" font-size="5.55" text-anchor="start" fill="#000">IB: IKZF1</text>
<text x="282.20" y="389.50" font-size="6.1" text-anchor="start" fill="#000">(light exposure)</text>
<text x="279.20" y="404.00" font-size="5.55" text-anchor="start" fill="#000">IB: CRBN</text>
<text x="279.20" y="423.10" font-size="5.55" text-anchor="start" fill="#000">IB: UBE2G1</text>
<text x="279.20" y="441.40" font-size="5.55" text-anchor="start" fill="#000">IB: UBE2D3</text>
<text x="279.20" y="457.80" font-size="5.55" text-anchor="start" fill="#000">IB: β actin</text>
<text x="16.40" y="474.00" font-size="5.4" text-anchor="middle" fill="#000">-</text>
<text x="31.20" y="474.00" font-size="5.4" text-anchor="middle" fill="#000">+</text>
<text x="41.80" y="474.00" font-size="5.4" text-anchor="middle" fill="#000">-</text>
<text x="56.20" y="474.00" font-size="5.4" text-anchor="middle" fill="#000">+</text>
<text x="69.20" y="474.00" font-size="5.4" text-anchor="middle" fill="#000">-</text>
<text x="83.60" y="474.00" font-size="5.4" text-anchor="middle" fill="#000">+</text>
<text x="94.60" y="474.00" font-size="5.4" text-anchor="middle" fill="#000">-</text>
<text x="108.70" y="474.00" font-size="5.4" text-anchor="middle" fill="#000">+</text>
<text x="124.50" y="474.00" font-size="5.4" text-anchor="middle" fill="#000">-</text>
<text x="138.90" y="474.00" font-size="5.4" text-anchor="middle" fill="#000">+</text>
<text x="149.80" y="474.00" font-size="5.4" text-anchor="middle" fill="#000">-</text>
<text x="164.20" y="474.00" font-size="5.4" text-anchor="middle" fill="#000">+</text>
<text x="176.90" y="474.00" font-size="5.4" text-anchor="middle" fill="#000">-</text>
<text x="191.30" y="474.00" font-size="5.4" text-anchor="middle" fill="#000">+</text>
<text x="202.30" y="474.00" font-size="5.4" text-anchor="middle" fill="#000">-</text>
<text x="216.70" y="474.00" font-size="5.4" text-anchor="middle" fill="#000">+</text>
<text x="229.20" y="474.00" font-size="5.4" text-anchor="middle" fill="#000">-</text>
<text x="243.60" y="474.00" font-size="5.4" text-anchor="middle" fill="#000">+</text>
<text x="254.70" y="474.00" font-size="5.4" text-anchor="middle" fill="#000">-</text>
<text x="269.10" y="474.00" font-size="5.4" text-anchor="middle" fill="#000">+</text>
<line x1="13.80" y1="478.30" x2="34.60" y2="478.30" stroke="#000" stroke-width="1.1"/>
<line x1="38.90" y1="478.30" x2="59.10" y2="478.30" stroke="#000" stroke-width="1.1"/>
<line x1="66.30" y1="478.30" x2="86.50" y2="478.30" stroke="#000" stroke-width="1.1"/>
<line x1="91.70" y1="478.30" x2="111.90" y2="478.30" stroke="#000" stroke-width="1.1"/>
<line x1="122.10" y1="478.30" x2="142.30" y2="478.30" stroke="#000" stroke-width="1.1"/>
<line x1="147.50" y1="478.30" x2="167.70" y2="478.30" stroke="#000" stroke-width="1.1"/>
<line x1="174.00" y1="478.30" x2="194.20" y2="478.30" stroke="#000" stroke-width="1.1"/>
<line x1="200.00" y1="478.30" x2="220.20" y2="478.30" stroke="#000" stroke-width="1.1"/>
<line x1="227.30" y1="478.30" x2="247.50" y2="478.30" stroke="#000" stroke-width="1.1"/>
<line x1="252.70" y1="478.30" x2="272.90" y2="478.30" stroke="#000" stroke-width="1.1"/>
<text x="24.20" y="487.10" font-size="5.8" text-anchor="middle" fill="#000">1</text>
<text x="49.00" y="487.10" font-size="5.8" text-anchor="middle" fill="#000">2</text>
<text x="76.40" y="487.10" font-size="5.8" text-anchor="middle" fill="#000">1</text>
<text x="101.80" y="487.10" font-size="5.8" text-anchor="middle" fill="#000">2</text>
<text x="132.20" y="487.10" font-size="5.8" text-anchor="middle" fill="#000">1</text>
<text x="157.60" y="487.10" font-size="5.8" text-anchor="middle" fill="#000">2</text>
<text x="184.10" y="487.10" font-size="5.8" text-anchor="middle" fill="#000">1</text>
<text x="210.10" y="487.10" font-size="5.8" text-anchor="middle" fill="#000">2</text>
<text x="237.40" y="487.10" font-size="5.8" text-anchor="middle" fill="#000">1/2</text>
<text x="262.80" y="487.10" font-size="5.8" text-anchor="middle" fill="#000">2/1</text>
<line x1="13.80" y1="491.90" x2="59.10" y2="491.90" stroke="#000" stroke-width="1.1"/>
<text x="36.45" y="500.50" font-size="5.85" text-anchor="middle" fill="#000">CONTROL</text>
<line x1="66.30" y1="491.90" x2="111.90" y2="491.90" stroke="#000" stroke-width="1.1"/>
<text x="89.10" y="500.50" font-size="5.85" text-anchor="middle" fill="#000">CRBN</text>
<line x1="122.10" y1="491.90" x2="167.70" y2="491.90" stroke="#000" stroke-width="1.1"/>
<text x="144.90" y="500.50" font-size="5.85" text-anchor="middle" fill="#000">UBE2D3</text>
<line x1="174.00" y1="491.90" x2="220.20" y2="491.90" stroke="#000" stroke-width="1.1"/>
<text x="197.10" y="500.50" font-size="5.85" text-anchor="middle" fill="#000">UBE2G1</text>
<line x1="227.30" y1="491.90" x2="272.90" y2="491.90" stroke="#000" stroke-width="1.1"/>
<text x="250.10" y="500.50" font-size="5.85" text-anchor="middle" fill="#000">UBE2D3/UBE2G1</text>
<text x="283.60" y="474.10" font-size="6.0" text-anchor="start" fill="#000">:Len (1µM)</text>
<text x="283.60" y="487.10" font-size="6.0" text-anchor="start" fill="#000">:gRNA</text>
<text x="283.60" y="500.10" font-size="6.0" text-anchor="start" fill="#000">:gene</text>
<rect x="7.80" y="528.10" width="218.80" height="15.30" fill="#fff"/>
<g clip-path="url(#c11)"><g filter="url(#b6)">
<rect x="12.40" y="531.90" width="12.00" height="3.80" rx="1.58" fill="#000" fill-opacity="1.00" transform="rotate(6 18.40 533.80)"/>
<rect x="28.60" y="534.70" width="6.00" height="1.60" rx="0.67" fill="#000" fill-opacity="0.25"/>
<rect x="39.00" y="534.90" width="11.60" height="6.60" rx="2.75" fill="#000" fill-opacity="1.00"/>
<rect x="39.40" y="535.30" width="10.80" height="5.00" rx="2.08" fill="#000" fill-opacity="1.00"/>
<rect x="40.05" y="540.10" width="9.50" height="2.60" rx="1.08" fill="#000" fill-opacity="0.35"/>
<rect x="40.05" y="539.30" width="9.50" height="3.40" rx="1.42" fill="#000" fill-opacity="0.60"/>
<rect x="55.00" y="534.70" width="6.00" height="1.60" rx="0.67" fill="#000" fill-opacity="0.12"/>
<rect x="65.40" y="534.90" width="11.60" height="6.60" rx="2.75" fill="#000" fill-opacity="1.00"/>
<rect x="65.80" y="535.30" width="10.80" height="5.00" rx="2.08" fill="#000" fill-opacity="1.00"/>
<rect x="66.45" y="540.10" width="9.50" height="2.60" rx="1.08" fill="#000" fill-opacity="0.35"/>
<rect x="78.60" y="534.90" width="11.60" height="6.60" rx="2.75" fill="#000" fill-opacity="1.00"/>
<rect x="79.00" y="535.30" width="10.80" height="5.00" rx="2.08" fill="#000" fill-opacity="1.00"/>
<rect x="79.65" y="540.10" width="9.50" height="2.60" rx="1.08" fill="#000" fill-opacity="0.35"/>
<rect x="91.80" y="534.90" width="11.60" height="6.60" rx="2.75" fill="#000" fill-opacity="1.00"/>
<rect x="92.20" y="535.30" width="10.80" height="5.00" rx="2.08" fill="#000" fill-opacity="1.00"/>
<rect x="92.85" y="540.10" width="9.50" height="2.60" rx="1.08" fill="#000" fill-opacity="0.35"/>
<rect x="105.00" y="534.90" width="11.60" height="6.60" rx="2.75" fill="#000" fill-opacity="1.00"/>
<rect x="105.40" y="535.30" width="10.80" height="5.00" rx="2.08" fill="#000" fill-opacity="1.00"/>
<rect x="106.05" y="540.10" width="9.50" height="2.60" rx="1.08" fill="#000" fill-opacity="0.35"/>
<rect x="118.20" y="534.90" width="11.60" height="6.60" rx="2.75" fill="#000" fill-opacity="1.00"/>
<rect x="118.60" y="535.30" width="10.80" height="5.00" rx="2.08" fill="#000" fill-opacity="1.00"/>
<rect x="119.25" y="540.10" width="9.50" height="2.60" rx="1.08" fill="#000" fill-opacity="0.35"/>
<rect x="144.60" y="534.90" width="11.60" height="6.60" rx="2.75" fill="#000" fill-opacity="1.00"/>
<rect x="145.00" y="535.30" width="10.80" height="5.00" rx="2.08" fill="#000" fill-opacity="1.00"/>
<rect x="145.65" y="540.10" width="9.50" height="2.60" rx="1.08" fill="#000" fill-opacity="0.35"/>
<rect x="145.65" y="539.30" width="9.50" height="3.40" rx="1.42" fill="#000" fill-opacity="0.60"/>
<rect x="160.60" y="534.70" width="6.00" height="1.60" rx="0.67" fill="#000" fill-opacity="0.25"/>
<rect x="171.00" y="534.90" width="11.60" height="6.60" rx="2.75" fill="#000" fill-opacity="1.00"/>
<rect x="171.40" y="535.30" width="10.80" height="5.00" rx="2.08" fill="#000" fill-opacity="1.00"/>
<rect x="172.05" y="540.10" width="9.50" height="2.60" rx="1.08" fill="#000" fill-opacity="0.35"/>
<rect x="172.05" y="539.30" width="9.50" height="3.40" rx="1.42" fill="#000" fill-opacity="0.60"/>
<rect x="184.20" y="534.90" width="11.60" height="6.60" rx="2.75" fill="#000" fill-opacity="1.00"/>
<rect x="184.60" y="535.30" width="10.80" height="5.00" rx="2.08" fill="#000" fill-opacity="1.00"/>
<rect x="185.25" y="540.10" width="9.50" height="2.60" rx="1.08" fill="#000" fill-opacity="0.35"/>
<rect x="197.40" y="534.90" width="11.60" height="6.60" rx="2.75" fill="#000" fill-opacity="1.00"/>
<rect x="197.80" y="535.30" width="10.80" height="5.00" rx="2.08" fill="#000" fill-opacity="1.00"/>
<rect x="198.45" y="540.10" width="9.50" height="2.60" rx="1.08" fill="#000" fill-opacity="0.35"/>
<rect x="198.45" y="539.30" width="9.50" height="3.40" rx="1.42" fill="#000" fill-opacity="0.60"/>
<rect x="210.40" y="531.50" width="12.00" height="3.80" rx="1.58" fill="#000" fill-opacity="0.80" transform="rotate(-8 216.40 533.40)"/>
</g></g>
<rect x="7.50" y="528.50" width="219.00" height="15.00" fill="none" stroke="#000" stroke-width="1.0"/>
<rect x="7.80" y="547.40" width="218.80" height="14.40" fill="#fff"/>
<g clip-path="url(#c12)"><g filter="url(#b6)">
<rect x="13.40" y="552.90" width="10.00" height="3.00" rx="1.25" fill="#000" fill-opacity="0.78" transform="rotate(5 18.40 554.40)"/>
<rect x="39.80" y="554.90" width="10.00" height="3.00" rx="1.25" fill="#000" fill-opacity="0.93"/>
<rect x="66.20" y="554.80" width="10.00" height="3.00" rx="1.25" fill="#000" fill-opacity="1.00"/>
<rect x="66.50" y="555.30" width="9.40" height="3.00" rx="1.25" fill="#000" fill-opacity="0.80"/>
<rect x="79.40" y="554.80" width="10.00" height="3.00" rx="1.25" fill="#000" fill-opacity="0.88"/>
<rect x="92.60" y="554.50" width="10.00" height="3.00" rx="1.25" fill="#000" fill-opacity="0.88"/>
<rect x="106.80" y="555.55" width="8.00" height="1.90" rx="0.79" fill="#000" fill-opacity="0.58"/>
<rect x="119.00" y="555.10" width="10.00" height="3.00" rx="1.25" fill="#000" fill-opacity="1.00"/>
<rect x="119.30" y="555.60" width="9.40" height="3.00" rx="1.25" fill="#000" fill-opacity="0.80"/>
<rect x="133.20" y="555.05" width="8.00" height="1.90" rx="0.79" fill="#000" fill-opacity="0.38"/>
<rect x="145.40" y="554.30" width="10.00" height="3.00" rx="1.25" fill="#000" fill-opacity="0.83"/>
<rect x="159.60" y="554.85" width="8.00" height="1.90" rx="0.79" fill="#000" fill-opacity="0.63"/>
<rect x="171.80" y="554.10" width="10.00" height="3.00" rx="1.25" fill="#000" fill-opacity="1.00"/>
<rect x="172.10" y="554.60" width="9.40" height="3.00" rx="1.25" fill="#000" fill-opacity="0.80"/>
<rect x="185.00" y="554.10" width="10.00" height="3.00" rx="1.25" fill="#000" fill-opacity="0.78"/>
<rect x="198.20" y="553.50" width="10.00" height="3.00" rx="1.25" fill="#000" fill-opacity="1.00"/>
<rect x="198.50" y="554.00" width="9.40" height="3.00" rx="1.25" fill="#000" fill-opacity="0.80"/>
<rect x="211.40" y="552.50" width="10.00" height="3.00" rx="1.25" fill="#000" fill-opacity="0.78" transform="rotate(-6 216.40 554.00)"/>
</g></g>
<rect x="7.50" y="547.50" width="219.00" height="14.00" fill="none" stroke="#000" stroke-width="1.0"/>
<rect x="7.80" y="564.10" width="218.80" height="15.90" fill="#fff"/>
<g clip-path="url(#c13)"><g filter="url(#b6)">
<rect x="12.30" y="567.70" width="12.20" height="4.60" rx="1.92" fill="#000" fill-opacity="1.00"/>
<rect x="13.15" y="568.20" width="10.50" height="3.60" rx="1.50" fill="#000" fill-opacity="1.00"/>
<rect x="25.50" y="568.30" width="12.20" height="4.60" rx="1.92" fill="#000" fill-opacity="1.00"/>
<rect x="26.35" y="568.80" width="10.50" height="3.60" rx="1.50" fill="#000" fill-opacity="1.00"/>
<rect x="38.70" y="568.90" width="12.20" height="4.60" rx="1.92" fill="#000" fill-opacity="1.00"/>
<rect x="39.55" y="569.40" width="10.50" height="3.60" rx="1.50" fill="#000" fill-opacity="1.00"/>
<rect x="51.90" y="568.90" width="12.20" height="4.60" rx="1.92" fill="#000" fill-opacity="1.00"/>
<rect x="52.75" y="569.40" width="10.50" height="3.60" rx="1.50" fill="#000" fill-opacity="1.00"/>
<rect x="106.80" y="570.60" width="8.00" height="1.40" rx="0.58" fill="#000" fill-opacity="0.18"/>
<rect x="117.90" y="569.70" width="12.20" height="4.60" rx="1.92" fill="#000" fill-opacity="1.00"/>
<rect x="118.75" y="570.20" width="10.50" height="3.60" rx="1.50" fill="#000" fill-opacity="1.00"/>
<rect x="131.10" y="569.60" width="12.20" height="4.60" rx="1.92" fill="#000" fill-opacity="1.00"/>
<rect x="131.95" y="570.10" width="10.50" height="3.60" rx="1.50" fill="#000" fill-opacity="1.00"/>
<rect x="144.30" y="569.50" width="12.20" height="4.60" rx="1.92" fill="#000" fill-opacity="1.00"/>
<rect x="145.15" y="570.00" width="10.50" height="3.60" rx="1.50" fill="#000" fill-opacity="1.00"/>
<rect x="157.50" y="569.40" width="12.20" height="4.60" rx="1.92" fill="#000" fill-opacity="1.00"/>
<rect x="158.35" y="569.90" width="10.50" height="3.60" rx="1.50" fill="#000" fill-opacity="1.00"/>
<rect x="170.70" y="568.50" width="12.20" height="6.20" rx="2.58" fill="#000" fill-opacity="1.00"/>
<rect x="171.55" y="569.10" width="10.50" height="5.00" rx="2.08" fill="#000" fill-opacity="1.00"/>
<rect x="183.90" y="568.40" width="12.20" height="6.20" rx="2.58" fill="#000" fill-opacity="1.00"/>
<rect x="184.75" y="569.00" width="10.50" height="5.00" rx="2.08" fill="#000" fill-opacity="1.00"/>
<rect x="197.10" y="568.30" width="12.20" height="6.20" rx="2.58" fill="#000" fill-opacity="1.00"/>
<rect x="197.95" y="568.90" width="10.50" height="5.00" rx="2.08" fill="#000" fill-opacity="1.00"/>
<rect x="210.30" y="568.20" width="12.20" height="6.20" rx="2.58" fill="#000" fill-opacity="1.00"/>
<rect x="211.15" y="568.80" width="10.50" height="5.00" rx="2.08" fill="#000" fill-opacity="1.00"/>
</g></g>
<rect x="7.50" y="564.50" width="219.00" height="16.00" fill="none" stroke="#000" stroke-width="1.0"/>
<rect x="7.80" y="582.90" width="218.80" height="18.70" fill="#fff"/>
<g clip-path="url(#c14)"><g filter="url(#b6)">
<rect x="11.70" y="586.60" width="13.40" height="6.40" rx="2.67" fill="#000" fill-opacity="1.00"/>
<rect x="12.40" y="587.30" width="12.00" height="5.00" rx="2.08" fill="#000" fill-opacity="1.00"/>
<rect x="24.90" y="586.60" width="13.40" height="6.40" rx="2.67" fill="#000" fill-opacity="1.00"/>
<rect x="25.60" y="587.30" width="12.00" height="5.00" rx="2.08" fill="#000" fill-opacity="1.00"/>
<rect x="38.10" y="586.60" width="13.40" height="6.40" rx="2.67" fill="#000" fill-opacity="1.00"/>
<rect x="38.80" y="587.30" width="12.00" height="5.00" rx="2.08" fill="#000" fill-opacity="1.00"/>
<rect x="51.30" y="586.60" width="13.40" height="6.40" rx="2.67" fill="#000" fill-opacity="1.00"/>
<rect x="52.00" y="587.30" width="12.00" height="5.00" rx="2.08" fill="#000" fill-opacity="1.00"/>
<rect x="64.50" y="586.60" width="13.40" height="6.40" rx="2.67" fill="#000" fill-opacity="1.00"/>
<rect x="65.20" y="587.30" width="12.00" height="5.00" rx="2.08" fill="#000" fill-opacity="1.00"/>
<rect x="77.70" y="586.60" width="13.40" height="6.40" rx="2.67" fill="#000" fill-opacity="1.00"/>
<rect x="78.40" y="587.30" width="12.00" height="5.00" rx="2.08" fill="#000" fill-opacity="1.00"/>
<rect x="90.90" y="586.60" width="13.40" height="6.40" rx="2.67" fill="#000" fill-opacity="1.00"/>
<rect x="91.60" y="587.30" width="12.00" height="5.00" rx="2.08" fill="#000" fill-opacity="1.00"/>
<rect x="104.10" y="587.10" width="13.40" height="6.40" rx="2.67" fill="#000" fill-opacity="1.00"/>
<rect x="104.80" y="587.80" width="12.00" height="5.00" rx="2.08" fill="#000" fill-opacity="1.00"/>
<rect x="117.30" y="586.60" width="13.40" height="6.40" rx="2.67" fill="#000" fill-opacity="1.00"/>
<rect x="118.00" y="587.30" width="12.00" height="5.00" rx="2.08" fill="#000" fill-opacity="1.00"/>
<rect x="130.50" y="586.60" width="13.40" height="6.40" rx="2.67" fill="#000" fill-opacity="1.00"/>
<rect x="131.20" y="587.30" width="12.00" height="5.00" rx="2.08" fill="#000" fill-opacity="1.00"/>
<rect x="143.70" y="586.60" width="13.40" height="6.40" rx="2.67" fill="#000" fill-opacity="1.00"/>
<rect x="144.40" y="587.30" width="12.00" height="5.00" rx="2.08" fill="#000" fill-opacity="1.00"/>
<rect x="156.90" y="586.60" width="13.40" height="6.40" rx="2.67" fill="#000" fill-opacity="1.00"/>
<rect x="157.60" y="587.30" width="12.00" height="5.00" rx="2.08" fill="#000" fill-opacity="1.00"/>
<rect x="170.50" y="587.80" width="12.60" height="2.80" rx="1.17" fill="#000" fill-opacity="0.95"/>
<rect x="172.30" y="587.60" width="9.00" height="2.00" rx="0.83" fill="#000" fill-opacity="0.50"/>
<rect x="183.70" y="587.80" width="12.60" height="2.80" rx="1.17" fill="#000" fill-opacity="0.95"/>
<rect x="185.50" y="587.60" width="9.00" height="2.00" rx="0.83" fill="#000" fill-opacity="0.50"/>
<rect x="196.90" y="587.80" width="12.60" height="2.80" rx="1.17" fill="#000" fill-opacity="0.95"/>
<rect x="198.70" y="587.60" width="9.00" height="2.00" rx="0.83" fill="#000" fill-opacity="0.50"/>
<rect x="210.10" y="587.80" width="12.60" height="2.80" rx="1.17" fill="#000" fill-opacity="0.95"/>
<rect x="211.90" y="587.60" width="9.00" height="2.00" rx="0.83" fill="#000" fill-opacity="0.50"/>
</g></g>
<rect x="7.50" y="582.50" width="219.00" height="19.00" fill="none" stroke="#000" stroke-width="1.0"/>
<rect x="7.80" y="606.00" width="218.80" height="17.30" fill="#fff"/>
<g clip-path="url(#c15)"><g filter="url(#b6)">
<rect x="12.30" y="613.00" width="12.20" height="4.40" rx="1.83" fill="#000" fill-opacity="1.00"/>
<rect x="13.15" y="613.40" width="10.50" height="3.60" rx="1.50" fill="#000" fill-opacity="1.00"/>
<rect x="25.50" y="613.00" width="12.20" height="4.40" rx="1.83" fill="#000" fill-opacity="1.00"/>
<rect x="26.35" y="613.40" width="10.50" height="3.60" rx="1.50" fill="#000" fill-opacity="1.00"/>
<rect x="38.70" y="613.00" width="12.20" height="4.40" rx="1.83" fill="#000" fill-opacity="1.00"/>
<rect x="39.55" y="613.40" width="10.50" height="3.60" rx="1.50" fill="#000" fill-opacity="1.00"/>
<rect x="51.90" y="613.00" width="12.20" height="4.40" rx="1.83" fill="#000" fill-opacity="1.00"/>
<rect x="52.75" y="613.40" width="10.50" height="3.60" rx="1.50" fill="#000" fill-opacity="1.00"/>
<rect x="65.10" y="613.00" width="12.20" height="4.40" rx="1.83" fill="#000" fill-opacity="1.00"/>
<rect x="65.95" y="613.40" width="10.50" height="3.60" rx="1.50" fill="#000" fill-opacity="1.00"/>
<rect x="78.30" y="613.00" width="12.20" height="4.40" rx="1.83" fill="#000" fill-opacity="1.00"/>
<rect x="79.15" y="613.40" width="10.50" height="3.60" rx="1.50" fill="#000" fill-opacity="1.00"/>
<rect x="91.50" y="613.00" width="12.20" height="4.40" rx="1.83" fill="#000" fill-opacity="1.00"/>
<rect x="92.35" y="613.40" width="10.50" height="3.60" rx="1.50" fill="#000" fill-opacity="1.00"/>
<rect x="104.70" y="613.00" width="12.20" height="4.40" rx="1.83" fill="#000" fill-opacity="1.00"/>
<rect x="105.55" y="613.40" width="10.50" height="3.60" rx="1.50" fill="#000" fill-opacity="1.00"/>
<rect x="119.75" y="614.25" width="8.50" height="1.90" rx="0.79" fill="#000" fill-opacity="0.45"/>
<rect x="132.95" y="614.25" width="8.50" height="1.90" rx="0.79" fill="#000" fill-opacity="0.60"/>
<rect x="146.15" y="614.25" width="8.50" height="1.90" rx="0.79" fill="#000" fill-opacity="0.60"/>
<rect x="159.35" y="614.25" width="8.50" height="1.90" rx="0.79" fill="#000" fill-opacity="0.60"/>
<rect x="170.70" y="613.00" width="12.20" height="4.40" rx="1.83" fill="#000" fill-opacity="1.00"/>
<rect x="171.55" y="613.40" width="10.50" height="3.60" rx="1.50" fill="#000" fill-opacity="1.00"/>
<rect x="183.90" y="613.00" width="12.20" height="4.40" rx="1.83" fill="#000" fill-opacity="1.00"/>
<rect x="184.75" y="613.40" width="10.50" height="3.60" rx="1.50" fill="#000" fill-opacity="1.00"/>
<rect x="197.10" y="613.00" width="12.20" height="4.40" rx="1.83" fill="#000" fill-opacity="1.00"/>
<rect x="197.95" y="613.40" width="10.50" height="3.60" rx="1.50" fill="#000" fill-opacity="1.00"/>
<rect x="210.30" y="613.00" width="12.20" height="4.40" rx="1.83" fill="#000" fill-opacity="1.00"/>
<rect x="211.15" y="613.40" width="10.50" height="3.60" rx="1.50" fill="#000" fill-opacity="1.00"/>
</g></g>
<rect x="7.50" y="606.50" width="219.00" height="17.00" fill="none" stroke="#000" stroke-width="1.0"/>
<rect x="7.80" y="626.10" width="218.80" height="17.30" fill="#fff"/>
<g clip-path="url(#c16)"><g filter="url(#b6)">
<rect x="12.10" y="630.80" width="12.60" height="3.60" rx="1.50" fill="#000" fill-opacity="1.00" transform="rotate(5 18.40 632.60)"/>
<rect x="13.40" y="631.40" width="10.00" height="3.00" rx="1.25" fill="#000" fill-opacity="0.90" transform="rotate(5 18.40 632.90)"/>
<rect x="25.30" y="631.40" width="12.60" height="3.60" rx="1.50" fill="#000" fill-opacity="1.00"/>
<rect x="26.60" y="632.00" width="10.00" height="3.00" rx="1.25" fill="#000" fill-opacity="0.90"/>
<rect x="38.50" y="631.40" width="12.60" height="3.60" rx="1.50" fill="#000" fill-opacity="1.00"/>
<rect x="39.80" y="632.00" width="10.00" height="3.00" rx="1.25" fill="#000" fill-opacity="0.90"/>
<rect x="51.70" y="631.40" width="12.60" height="3.60" rx="1.50" fill="#000" fill-opacity="1.00"/>
<rect x="53.00" y="632.00" width="10.00" height="3.00" rx="1.25" fill="#000" fill-opacity="0.90"/>
<rect x="64.90" y="631.40" width="12.60" height="3.60" rx="1.50" fill="#000" fill-opacity="1.00"/>
<rect x="66.20" y="632.00" width="10.00" height="3.00" rx="1.25" fill="#000" fill-opacity="0.90"/>
<rect x="78.10" y="631.40" width="12.60" height="3.60" rx="1.50" fill="#000" fill-opacity="1.00"/>
<rect x="79.40" y="632.00" width="10.00" height="3.00" rx="1.25" fill="#000" fill-opacity="0.90"/>
<rect x="91.30" y="631.40" width="12.60" height="3.60" rx="1.50" fill="#000" fill-opacity="1.00"/>
<rect x="92.60" y="632.00" width="10.00" height="3.00" rx="1.25" fill="#000" fill-opacity="0.90"/>
<rect x="104.50" y="631.40" width="12.60" height="3.60" rx="1.50" fill="#000" fill-opacity="1.00"/>
<rect x="105.80" y="632.00" width="10.00" height="3.00" rx="1.25" fill="#000" fill-opacity="0.90"/>
<rect x="117.70" y="631.40" width="12.60" height="3.60" rx="1.50" fill="#000" fill-opacity="1.00"/>
<rect x="119.00" y="632.00" width="10.00" height="3.00" rx="1.25" fill="#000" fill-opacity="0.90"/>
<rect x="130.90" y="631.40" width="12.60" height="3.60" rx="1.50" fill="#000" fill-opacity="1.00"/>
<rect x="132.20" y="632.00" width="10.00" height="3.00" rx="1.25" fill="#000" fill-opacity="0.90"/>
<rect x="144.10" y="631.40" width="12.60" height="3.60" rx="1.50" fill="#000" fill-opacity="1.00"/>
<rect x="145.40" y="632.00" width="10.00" height="3.00" rx="1.25" fill="#000" fill-opacity="0.90"/>
<rect x="157.30" y="631.40" width="12.60" height="3.60" rx="1.50" fill="#000" fill-opacity="1.00"/>
<rect x="158.60" y="632.00" width="10.00" height="3.00" rx="1.25" fill="#000" fill-opacity="0.90"/>
<rect x="170.50" y="631.40" width="12.60" height="3.60" rx="1.50" fill="#000" fill-opacity="1.00"/>
<rect x="171.80" y="632.00" width="10.00" height="3.00" rx="1.25" fill="#000" fill-opacity="0.90"/>
<rect x="183.70" y="631.40" width="12.60" height="3.60" rx="1.50" fill="#000" fill-opacity="1.00"/>
<rect x="185.00" y="632.00" width="10.00" height="3.00" rx="1.25" fill="#000" fill-opacity="0.90"/>
<rect x="196.90" y="631.40" width="12.60" height="3.60" rx="1.50" fill="#000" fill-opacity="1.00"/>
<rect x="198.20" y="632.00" width="10.00" height="3.00" rx="1.25" fill="#000" fill-opacity="0.90"/>
<rect x="210.10" y="631.40" width="12.60" height="3.60" rx="1.50" fill="#000" fill-opacity="1.00"/>
<rect x="211.40" y="632.00" width="10.00" height="3.00" rx="1.25" fill="#000" fill-opacity="0.90"/>
</g></g>
<rect x="7.50" y="626.50" width="219.00" height="17.00" fill="none" stroke="#000" stroke-width="1.0"/>
<path d="M7.8,643.4 L7.8,634 L9.3,636.5 L8.6,643.4 Z" fill="#000"/>
<text x="229.60" y="538.10" font-size="5.55" text-anchor="start" fill="#000">IB: IKZF3</text>
<text x="229.60" y="555.90" font-size="5.55" text-anchor="start" fill="#000">IB: IKZF1</text>
<text x="229.60" y="574.70" font-size="5.55" text-anchor="start" fill="#000">IB: CRBN</text>
<text x="229.60" y="594.00" font-size="5.55" text-anchor="start" fill="#000">IB: UBE2G1</text>
<text x="229.60" y="615.90" font-size="5.55" text-anchor="start" fill="#000">IB: UBE2D3</text>
<text x="229.60" y="637.30" font-size="5.55" text-anchor="start" fill="#000">IB: β actin</text>
<text x="230.00" y="652.10" font-size="6.0" text-anchor="start" fill="#000">:Pom(0.1µM)</text>
<text x="17.30" y="652.00" font-size="5.4" text-anchor="middle" fill="#000">-</text>
<text x="31.20" y="652.00" font-size="5.4" text-anchor="middle" fill="#000">+</text>
<text x="43.30" y="652.00" font-size="5.4" text-anchor="middle" fill="#000">-</text>
<text x="57.10" y="652.00" font-size="5.4" text-anchor="middle" fill="#000">+</text>
<text x="69.20" y="652.00" font-size="5.4" text-anchor="middle" fill="#000">-</text>
<text x="83.60" y="652.00" font-size="5.4" text-anchor="middle" fill="#000">+</text>
<text x="95.80" y="652.00" font-size="5.4" text-anchor="middle" fill="#000">-</text>
<text x="109.60" y="652.00" font-size="5.4" text-anchor="middle" fill="#000">+</text>
<text x="122.40" y="652.00" font-size="5.4" text-anchor="middle" fill="#000">-</text>
<text x="136.00" y="652.00" font-size="5.4" text-anchor="middle" fill="#000">+</text>
<text x="148.90" y="652.00" font-size="5.4" text-anchor="middle" fill="#000">-</text>
<text x="162.80" y="652.00" font-size="5.4" text-anchor="middle" fill="#000">+</text>
<text x="175.80" y="652.00" font-size="5.4" text-anchor="middle" fill="#000">-</text>
<text x="190.20" y="652.00" font-size="5.4" text-anchor="middle" fill="#000">+</text>
<text x="202.90" y="652.00" font-size="5.4" text-anchor="middle" fill="#000">-</text>
<text x="216.70" y="652.00" font-size="5.4" text-anchor="middle" fill="#000">+</text>
<line x1="14.40" y1="656.60" x2="34.60" y2="656.60" stroke="#000" stroke-width="1.1"/>
<line x1="41.00" y1="656.60" x2="60.60" y2="656.60" stroke="#000" stroke-width="1.1"/>
<line x1="66.90" y1="656.60" x2="87.10" y2="656.60" stroke="#000" stroke-width="1.1"/>
<line x1="93.70" y1="656.60" x2="113.10" y2="656.60" stroke="#000" stroke-width="1.1"/>
<line x1="120.10" y1="656.60" x2="139.90" y2="656.60" stroke="#000" stroke-width="1.1"/>
<line x1="146.90" y1="656.60" x2="166.20" y2="656.60" stroke="#000" stroke-width="1.1"/>
<line x1="173.50" y1="656.60" x2="193.60" y2="656.60" stroke="#000" stroke-width="1.1"/>
<line x1="200.30" y1="656.60" x2="220.20" y2="656.60" stroke="#000" stroke-width="1.1"/>
<text x="24.50" y="665.10" font-size="5.8" text-anchor="middle" fill="#000">1</text>
<text x="50.80" y="665.10" font-size="5.8" text-anchor="middle" fill="#000">2</text>
<text x="77.00" y="665.10" font-size="5.8" text-anchor="middle" fill="#000">1</text>
<text x="103.40" y="665.10" font-size="5.8" text-anchor="middle" fill="#000">2</text>
<text x="130.00" y="665.10" font-size="5.8" text-anchor="middle" fill="#000">1</text>
<text x="156.55" y="665.10" font-size="5.8" text-anchor="middle" fill="#000">2</text>
<text x="183.55" y="665.10" font-size="5.8" text-anchor="middle" fill="#000">1</text>
<text x="210.25" y="665.10" font-size="5.8" text-anchor="middle" fill="#000">2</text>
<line x1="14.40" y1="669.80" x2="60.60" y2="669.80" stroke="#000" stroke-width="1.1"/>
<text x="37.50" y="678.90" font-size="5.85" text-anchor="middle" fill="#000">CONTROL</text>
<line x1="66.90" y1="669.80" x2="113.10" y2="669.80" stroke="#000" stroke-width="1.1"/>
<text x="90.00" y="678.90" font-size="5.85" text-anchor="middle" fill="#000">CRBN</text>
<line x1="120.10" y1="669.80" x2="166.20" y2="669.80" stroke="#000" stroke-width="1.1"/>
<text x="143.15" y="678.90" font-size="5.85" text-anchor="middle" fill="#000">UBE2D3</text>
<line x1="172.00" y1="670.20" x2="216.20" y2="670.20" stroke="#000" stroke-width="1.1"/>
<text x="194.10" y="678.90" font-size="5.85" text-anchor="middle" fill="#000">UBE2G1</text>
<line x1="405.00" y1="312.30" x2="414.80" y2="312.30" stroke="#bd0a33" stroke-width="1.3"/>
<circle cx="409.90" cy="312.30" r="1.4" fill="#bd0a33"/>
<text x="418.00" y="314.10" font-size="5.0" text-anchor="start" fill="#000">control gRNA 1</text>
<line x1="405.00" y1="324.70" x2="414.80" y2="324.70" stroke="#69b93a" stroke-width="1.3"/>
<rect x="408.50" y="323.30" width="2.8" height="2.8" fill="#69b93a"/>
<text x="418.00" y="326.50" font-size="5.0" text-anchor="start" fill="#000">control gRNA 2</text>
<line x1="405.00" y1="337.20" x2="414.80" y2="337.20" stroke="#4b1d70" stroke-width="1.3"/>
<path d="M409.90,335.52 L411.51,338.46 L408.29,338.46 Z" fill="#4b1d70"/>
<text x="418.00" y="339.00" font-size="5.0" text-anchor="start" fill="#000">UBE2G1 gRNA 1</text>
<line x1="405.00" y1="349.60" x2="414.80" y2="349.60" stroke="#1f4b8e" stroke-width="1.3"/>
<path d="M409.90,351.28 L411.51,348.34 L408.29,348.34 Z" fill="#1f4b8e"/>
<text x="418.00" y="351.40" font-size="5.0" text-anchor="start" fill="#000">UBE2G1 gRNA 2</text>
<path d="M388.26,372.97 L395.01,375.34 L401.77,373.86 L408.53,374.45 L415.29,374.45 L422.04,372.97 L428.80,372.97 L435.56,370.60 L442.31,371.79 L449.07,372.38 L455.83,366.75 L462.58,366.75 L469.34,380.07 L476.10,393.10" fill="none" stroke="#1f4b8e" stroke-width="1.6" stroke-linejoin="round"/>
<line x1="388.26" y1="374.15" x2="388.26" y2="371.79" stroke="#1f4b8e" stroke-width="0.6"/>
<line x1="386.96" y1="374.15" x2="389.56" y2="374.15" stroke="#1f4b8e" stroke-width="0.55"/>
<line x1="386.96" y1="371.79" x2="389.56" y2="371.79" stroke="#1f4b8e" stroke-width="0.55"/>
<path d="M388.26,374.89 L390.10,371.53 L386.42,371.53 Z" fill="#1f4b8e"/>
<line x1="395.01" y1="376.52" x2="395.01" y2="374.15" stroke="#1f4b8e" stroke-width="0.6"/>
<line x1="393.71" y1="376.52" x2="396.31" y2="376.52" stroke="#1f4b8e" stroke-width="0.55"/>
<line x1="393.71" y1="374.15" x2="396.31" y2="374.15" stroke="#1f4b8e" stroke-width="0.55"/>
<path d="M395.01,377.26 L396.85,373.90 L393.17,373.90 Z" fill="#1f4b8e"/>
<line x1="401.77" y1="375.63" x2="401.77" y2="372.08" stroke="#1f4b8e" stroke-width="0.6"/>
<line x1="400.47" y1="375.63" x2="403.07" y2="375.63" stroke="#1f4b8e" stroke-width="0.55"/>
<line x1="400.47" y1="372.08" x2="403.07" y2="372.08" stroke="#1f4b8e" stroke-width="0.55"/>
<path d="M401.77,375.78 L403.61,372.42 L399.93,372.42 Z" fill="#1f4b8e"/>
<line x1="408.53" y1="376.23" x2="408.53" y2="372.67" stroke="#1f4b8e" stroke-width="0.6"/>
<line x1="407.23" y1="376.23" x2="409.83" y2="376.23" stroke="#1f4b8e" stroke-width="0.55"/>
<line x1="407.23" y1="372.67" x2="409.83" y2="372.67" stroke="#1f4b8e" stroke-width="0.55"/>
<path d="M408.53,376.37 L410.37,373.01 L406.69,373.01 Z" fill="#1f4b8e"/>
<line x1="415.29" y1="375.63" x2="415.29" y2="373.27" stroke="#1f4b8e" stroke-width="0.6"/>
<line x1="413.99" y1="375.63" x2="416.59" y2="375.63" stroke="#1f4b8e" stroke-width="0.55"/>
<line x1="413.99" y1="373.27" x2="416.59" y2="373.27" stroke="#1f4b8e" stroke-width="0.55"/>
<path d="M415.29,376.37 L417.13,373.01 L413.45,373.01 Z" fill="#1f4b8e"/>
<line x1="422.04" y1="374.75" x2="422.04" y2="371.19" stroke="#1f4b8e" stroke-width="0.6"/>
<line x1="420.74" y1="374.75" x2="423.34" y2="374.75" stroke="#1f4b8e" stroke-width="0.55"/>
<line x1="420.74" y1="371.19" x2="423.34" y2="371.19" stroke="#1f4b8e" stroke-width="0.55"/>
<path d="M422.04,374.89 L423.88,371.53 L420.20,371.53 Z" fill="#1f4b8e"/>
<line x1="428.80" y1="374.75" x2="428.80" y2="371.19" stroke="#1f4b8e" stroke-width="0.6"/>
<line x1="427.50" y1="374.75" x2="430.10" y2="374.75" stroke="#1f4b8e" stroke-width="0.55"/>
<line x1="427.50" y1="371.19" x2="430.10" y2="371.19" stroke="#1f4b8e" stroke-width="0.55"/>
<path d="M428.80,374.89 L430.64,371.53 L426.96,371.53 Z" fill="#1f4b8e"/>
<line x1="435.56" y1="372.97" x2="435.56" y2="368.23" stroke="#1f4b8e" stroke-width="0.6"/>
<line x1="434.26" y1="372.97" x2="436.86" y2="372.97" stroke="#1f4b8e" stroke-width="0.55"/>
<line x1="434.26" y1="368.23" x2="436.86" y2="368.23" stroke="#1f4b8e" stroke-width="0.55"/>
<path d="M435.56,372.52 L437.40,369.16 L433.72,369.16 Z" fill="#1f4b8e"/>
<line x1="442.31" y1="374.75" x2="442.31" y2="368.83" stroke="#1f4b8e" stroke-width="0.6"/>
<line x1="441.01" y1="374.75" x2="443.61" y2="374.75" stroke="#1f4b8e" stroke-width="0.55"/>
<line x1="441.01" y1="368.83" x2="443.61" y2="368.83" stroke="#1f4b8e" stroke-width="0.55"/>
<path d="M442.31,373.71 L444.15,370.35 L440.47,370.35 Z" fill="#1f4b8e"/>
<line x1="449.07" y1="374.75" x2="449.07" y2="370.01" stroke="#1f4b8e" stroke-width="0.6"/>
<line x1="447.77" y1="374.75" x2="450.37" y2="374.75" stroke="#1f4b8e" stroke-width="0.55"/>
<line x1="447.77" y1="370.01" x2="450.37" y2="370.01" stroke="#1f4b8e" stroke-width="0.55"/>
<path d="M449.07,374.30 L450.91,370.94 L447.23,370.94 Z" fill="#1f4b8e"/>
<line x1="455.83" y1="367.94" x2="455.83" y2="365.57" stroke="#1f4b8e" stroke-width="0.6"/>
<line x1="454.53" y1="367.94" x2="457.13" y2="367.94" stroke="#1f4b8e" stroke-width="0.55"/>
<line x1="454.53" y1="365.57" x2="457.13" y2="365.57" stroke="#1f4b8e" stroke-width="0.55"/>
<path d="M455.83,368.67 L457.67,365.31 L453.99,365.31 Z" fill="#1f4b8e"/>
<line x1="462.58" y1="368.53" x2="462.58" y2="364.98" stroke="#1f4b8e" stroke-width="0.6"/>
<line x1="461.28" y1="368.53" x2="463.88" y2="368.53" stroke="#1f4b8e" stroke-width="0.55"/>
<line x1="461.28" y1="364.98" x2="463.88" y2="364.98" stroke="#1f4b8e" stroke-width="0.55"/>
<path d="M462.58,368.67 L464.42,365.31 L460.74,365.31 Z" fill="#1f4b8e"/>
<line x1="469.34" y1="381.26" x2="469.34" y2="378.89" stroke="#1f4b8e" stroke-width="0.6"/>
<line x1="468.04" y1="381.26" x2="470.64" y2="381.26" stroke="#1f4b8e" stroke-width="0.55"/>
<line x1="468.04" y1="378.89" x2="470.64" y2="378.89" stroke="#1f4b8e" stroke-width="0.55"/>
<path d="M469.34,381.99 L471.18,378.63 L467.50,378.63 Z" fill="#1f4b8e"/>
<line x1="476.10" y1="394.87" x2="476.10" y2="391.32" stroke="#1f4b8e" stroke-width="0.6"/>
<line x1="474.80" y1="394.87" x2="477.40" y2="394.87" stroke="#1f4b8e" stroke-width="0.55"/>
<line x1="474.80" y1="391.32" x2="477.40" y2="391.32" stroke="#1f4b8e" stroke-width="0.55"/>
<path d="M476.10,395.02 L477.94,391.66 L474.26,391.66 Z" fill="#1f4b8e"/>
<path d="M388.26,384.81 L395.01,380.67 L401.77,383.03 L408.53,380.67 L415.29,383.03 L422.04,382.44 L428.80,380.07 L435.56,380.67 L442.31,384.81 L449.07,378.30 L455.83,382.44 L462.58,377.71 L469.34,390.73 L476.10,398.43" fill="none" stroke="#4b1d70" stroke-width="1.6" stroke-linejoin="round"/>
<line x1="388.26" y1="386.59" x2="388.26" y2="383.03" stroke="#4b1d70" stroke-width="0.6"/>
<line x1="386.96" y1="386.59" x2="389.56" y2="386.59" stroke="#4b1d70" stroke-width="0.55"/>
<line x1="386.96" y1="383.03" x2="389.56" y2="383.03" stroke="#4b1d70" stroke-width="0.55"/>
<path d="M388.26,382.89 L390.10,386.25 L386.42,386.25 Z" fill="#4b1d70"/>
<line x1="395.01" y1="382.44" x2="395.01" y2="378.89" stroke="#4b1d70" stroke-width="0.6"/>
<line x1="393.71" y1="382.44" x2="396.31" y2="382.44" stroke="#4b1d70" stroke-width="0.55"/>
<line x1="393.71" y1="378.89" x2="396.31" y2="378.89" stroke="#4b1d70" stroke-width="0.55"/>
<path d="M395.01,378.75 L396.85,382.11 L393.17,382.11 Z" fill="#4b1d70"/>
<line x1="401.77" y1="384.81" x2="401.77" y2="381.26" stroke="#4b1d70" stroke-width="0.6"/>
<line x1="400.47" y1="384.81" x2="403.07" y2="384.81" stroke="#4b1d70" stroke-width="0.55"/>
<line x1="400.47" y1="381.26" x2="403.07" y2="381.26" stroke="#4b1d70" stroke-width="0.55"/>
<path d="M401.77,381.11 L403.61,384.47 L399.93,384.47 Z" fill="#4b1d70"/>
<line x1="408.53" y1="382.44" x2="408.53" y2="378.89" stroke="#4b1d70" stroke-width="0.6"/>
<line x1="407.23" y1="382.44" x2="409.83" y2="382.44" stroke="#4b1d70" stroke-width="0.55"/>
<line x1="407.23" y1="378.89" x2="409.83" y2="378.89" stroke="#4b1d70" stroke-width="0.55"/>
<path d="M408.53,378.75 L410.37,382.11 L406.69,382.11 Z" fill="#4b1d70"/>
<line x1="415.29" y1="384.81" x2="415.29" y2="381.26" stroke="#4b1d70" stroke-width="0.6"/>
<line x1="413.99" y1="384.81" x2="416.59" y2="384.81" stroke="#4b1d70" stroke-width="0.55"/>
<line x1="413.99" y1="381.26" x2="416.59" y2="381.26" stroke="#4b1d70" stroke-width="0.55"/>
<path d="M415.29,381.11 L417.13,384.47 L413.45,384.47 Z" fill="#4b1d70"/>
<line x1="422.04" y1="384.22" x2="422.04" y2="380.67" stroke="#4b1d70" stroke-width="0.6"/>
<line x1="420.74" y1="384.22" x2="423.34" y2="384.22" stroke="#4b1d70" stroke-width="0.55"/>
<line x1="420.74" y1="380.67" x2="423.34" y2="380.67" stroke="#4b1d70" stroke-width="0.55"/>
<path d="M422.04,380.52 L423.88,383.88 L420.20,383.88 Z" fill="#4b1d70"/>
<line x1="428.80" y1="383.03" x2="428.80" y2="377.11" stroke="#4b1d70" stroke-width="0.6"/>
<line x1="427.50" y1="383.03" x2="430.10" y2="383.03" stroke="#4b1d70" stroke-width="0.55"/>
<line x1="427.50" y1="377.11" x2="430.10" y2="377.11" stroke="#4b1d70" stroke-width="0.55"/>
<path d="M428.80,378.15 L430.64,381.51 L426.96,381.51 Z" fill="#4b1d70"/>
<line x1="435.56" y1="383.63" x2="435.56" y2="377.71" stroke="#4b1d70" stroke-width="0.6"/>
<line x1="434.26" y1="383.63" x2="436.86" y2="383.63" stroke="#4b1d70" stroke-width="0.55"/>
<line x1="434.26" y1="377.71" x2="436.86" y2="377.71" stroke="#4b1d70" stroke-width="0.55"/>
<path d="M435.56,378.75 L437.40,382.11 L433.72,382.11 Z" fill="#4b1d70"/>
<line x1="442.31" y1="386.59" x2="442.31" y2="383.03" stroke="#4b1d70" stroke-width="0.6"/>
<line x1="441.01" y1="386.59" x2="443.61" y2="386.59" stroke="#4b1d70" stroke-width="0.55"/>
<line x1="441.01" y1="383.03" x2="443.61" y2="383.03" stroke="#4b1d70" stroke-width="0.55"/>
<path d="M442.31,382.89 L444.15,386.25 L440.47,386.25 Z" fill="#4b1d70"/>
<line x1="449.07" y1="381.85" x2="449.07" y2="374.75" stroke="#4b1d70" stroke-width="0.6"/>
<line x1="447.77" y1="381.85" x2="450.37" y2="381.85" stroke="#4b1d70" stroke-width="0.55"/>
<line x1="447.77" y1="374.75" x2="450.37" y2="374.75" stroke="#4b1d70" stroke-width="0.55"/>
<path d="M449.07,376.38 L450.91,379.74 L447.23,379.74 Z" fill="#4b1d70"/>
<line x1="455.83" y1="384.22" x2="455.83" y2="380.67" stroke="#4b1d70" stroke-width="0.6"/>
<line x1="454.53" y1="384.22" x2="457.13" y2="384.22" stroke="#4b1d70" stroke-width="0.55"/>
<line x1="454.53" y1="380.67" x2="457.13" y2="380.67" stroke="#4b1d70" stroke-width="0.55"/>
<path d="M455.83,380.52 L457.67,383.88 L453.99,383.88 Z" fill="#4b1d70"/>
<line x1="462.58" y1="382.44" x2="462.58" y2="372.97" stroke="#4b1d70" stroke-width="0.6"/>
<line x1="461.28" y1="382.44" x2="463.88" y2="382.44" stroke="#4b1d70" stroke-width="0.55"/>
<line x1="461.28" y1="372.97" x2="463.88" y2="372.97" stroke="#4b1d70" stroke-width="0.55"/>
<path d="M462.58,375.79 L464.42,379.15 L460.74,379.15 Z" fill="#4b1d70"/>
<line x1="469.34" y1="391.91" x2="469.34" y2="389.55" stroke="#4b1d70" stroke-width="0.6"/>
<line x1="468.04" y1="391.91" x2="470.64" y2="391.91" stroke="#4b1d70" stroke-width="0.55"/>
<line x1="468.04" y1="389.55" x2="470.64" y2="389.55" stroke="#4b1d70" stroke-width="0.55"/>
<path d="M469.34,388.81 L471.18,392.17 L467.50,392.17 Z" fill="#4b1d70"/>
<line x1="476.10" y1="400.20" x2="476.10" y2="396.65" stroke="#4b1d70" stroke-width="0.6"/>
<line x1="474.80" y1="400.20" x2="477.40" y2="400.20" stroke="#4b1d70" stroke-width="0.55"/>
<line x1="474.80" y1="396.65" x2="477.40" y2="396.65" stroke="#4b1d70" stroke-width="0.55"/>
<path d="M476.10,396.51 L477.94,399.87 L474.26,399.87 Z" fill="#4b1d70"/>
<path d="M388.26,380.67 L395.01,374.45 L401.77,377.11 L408.53,372.38 L415.29,378.30 L422.04,398.43 L428.80,415.59 L435.56,433.95 L442.31,438.68 L449.07,440.46 L455.83,440.75 L462.58,440.75 L469.34,440.75 L476.10,440.75" fill="none" stroke="#69b93a" stroke-width="1.6" stroke-linejoin="round"/>
<line x1="388.26" y1="383.63" x2="388.26" y2="377.71" stroke="#69b93a" stroke-width="0.6"/>
<line x1="386.96" y1="383.63" x2="389.56" y2="383.63" stroke="#69b93a" stroke-width="0.55"/>
<line x1="386.96" y1="377.71" x2="389.56" y2="377.71" stroke="#69b93a" stroke-width="0.55"/>
<rect x="386.66" y="379.07" width="3.2" height="3.2" fill="#69b93a"/>
<line x1="395.01" y1="378.59" x2="395.01" y2="370.31" stroke="#69b93a" stroke-width="0.6"/>
<line x1="393.71" y1="378.59" x2="396.31" y2="378.59" stroke="#69b93a" stroke-width="0.55"/>
<line x1="393.71" y1="370.31" x2="396.31" y2="370.31" stroke="#69b93a" stroke-width="0.55"/>
<rect x="393.41" y="372.85" width="3.2" height="3.2" fill="#69b93a"/>
<line x1="401.77" y1="380.07" x2="401.77" y2="374.15" stroke="#69b93a" stroke-width="0.6"/>
<line x1="400.47" y1="380.07" x2="403.07" y2="380.07" stroke="#69b93a" stroke-width="0.55"/>
<line x1="400.47" y1="374.15" x2="403.07" y2="374.15" stroke="#69b93a" stroke-width="0.55"/>
<rect x="400.17" y="375.51" width="3.2" height="3.2" fill="#69b93a"/>
<line x1="408.53" y1="375.93" x2="408.53" y2="368.83" stroke="#69b93a" stroke-width="0.6"/>
<line x1="407.23" y1="375.93" x2="409.83" y2="375.93" stroke="#69b93a" stroke-width="0.55"/>
<line x1="407.23" y1="368.83" x2="409.83" y2="368.83" stroke="#69b93a" stroke-width="0.55"/>
<rect x="406.93" y="370.78" width="3.2" height="3.2" fill="#69b93a"/>
<line x1="415.29" y1="381.26" x2="415.29" y2="375.34" stroke="#69b93a" stroke-width="0.6"/>
<line x1="413.99" y1="381.26" x2="416.59" y2="381.26" stroke="#69b93a" stroke-width="0.55"/>
<line x1="413.99" y1="375.34" x2="416.59" y2="375.34" stroke="#69b93a" stroke-width="0.55"/>
<rect x="413.69" y="376.70" width="3.2" height="3.2" fill="#69b93a"/>
<line x1="422.04" y1="400.20" x2="422.04" y2="396.65" stroke="#69b93a" stroke-width="0.6"/>
<line x1="420.74" y1="400.20" x2="423.34" y2="400.20" stroke="#69b93a" stroke-width="0.55"/>
<line x1="420.74" y1="396.65" x2="423.34" y2="396.65" stroke="#69b93a" stroke-width="0.55"/>
<rect x="420.44" y="396.83" width="3.2" height="3.2" fill="#69b93a"/>
<line x1="428.80" y1="417.96" x2="428.80" y2="413.23" stroke="#69b93a" stroke-width="0.6"/>
<line x1="427.50" y1="417.96" x2="430.10" y2="417.96" stroke="#69b93a" stroke-width="0.55"/>
<line x1="427.50" y1="413.23" x2="430.10" y2="413.23" stroke="#69b93a" stroke-width="0.55"/>
<rect x="427.20" y="413.99" width="3.2" height="3.2" fill="#69b93a"/>
<line x1="435.56" y1="435.13" x2="435.56" y2="432.76" stroke="#69b93a" stroke-width="0.6"/>
<line x1="434.26" y1="435.13" x2="436.86" y2="435.13" stroke="#69b93a" stroke-width="0.55"/>
<line x1="434.26" y1="432.76" x2="436.86" y2="432.76" stroke="#69b93a" stroke-width="0.55"/>
<rect x="433.96" y="432.35" width="3.2" height="3.2" fill="#69b93a"/>
<line x1="442.31" y1="439.27" x2="442.31" y2="438.09" stroke="#69b93a" stroke-width="0.6"/>
<line x1="441.01" y1="439.27" x2="443.61" y2="439.27" stroke="#69b93a" stroke-width="0.55"/>
<line x1="441.01" y1="438.09" x2="443.61" y2="438.09" stroke="#69b93a" stroke-width="0.55"/>
<rect x="440.71" y="437.08" width="3.2" height="3.2" fill="#69b93a"/>
<rect x="447.47" y="438.86" width="3.2" height="3.2" fill="#69b93a"/>
<rect x="454.23" y="439.15" width="3.2" height="3.2" fill="#69b93a"/>
<rect x="460.98" y="439.15" width="3.2" height="3.2" fill="#69b93a"/>
<rect x="467.74" y="439.15" width="3.2" height="3.2" fill="#69b93a"/>
<rect x="474.50" y="439.15" width="3.2" height="3.2" fill="#69b93a"/>
<path d="M388.26,384.81 L395.01,390.14 L401.77,380.07 L408.53,389.25 L415.29,383.03 L422.04,390.73 L428.80,406.12 L435.56,428.03 L442.31,436.31 L449.07,439.27 L455.83,440.34 L462.58,440.69 L469.34,440.69 L476.10,440.69" fill="none" stroke="#bd0a33" stroke-width="1.6" stroke-linejoin="round"/>
<line x1="388.26" y1="388.95" x2="388.26" y2="380.67" stroke="#bd0a33" stroke-width="0.6"/>
<line x1="386.96" y1="388.95" x2="389.56" y2="388.95" stroke="#bd0a33" stroke-width="0.55"/>
<line x1="386.96" y1="380.67" x2="389.56" y2="380.67" stroke="#bd0a33" stroke-width="0.55"/>
<circle cx="388.26" cy="384.81" r="1.6" fill="#bd0a33"/>
<line x1="395.01" y1="394.87" x2="395.01" y2="385.40" stroke="#bd0a33" stroke-width="0.6"/>
<line x1="393.71" y1="394.87" x2="396.31" y2="394.87" stroke="#bd0a33" stroke-width="0.55"/>
<line x1="393.71" y1="385.40" x2="396.31" y2="385.40" stroke="#bd0a33" stroke-width="0.55"/>
<circle cx="395.01" cy="390.14" r="1.6" fill="#bd0a33"/>
<line x1="401.77" y1="383.63" x2="401.77" y2="376.52" stroke="#bd0a33" stroke-width="0.6"/>
<line x1="400.47" y1="383.63" x2="403.07" y2="383.63" stroke="#bd0a33" stroke-width="0.55"/>
<line x1="400.47" y1="376.52" x2="403.07" y2="376.52" stroke="#bd0a33" stroke-width="0.55"/>
<circle cx="401.77" cy="380.07" r="1.6" fill="#bd0a33"/>
<line x1="408.53" y1="393.99" x2="408.53" y2="384.51" stroke="#bd0a33" stroke-width="0.6"/>
<line x1="407.23" y1="393.99" x2="409.83" y2="393.99" stroke="#bd0a33" stroke-width="0.55"/>
<line x1="407.23" y1="384.51" x2="409.83" y2="384.51" stroke="#bd0a33" stroke-width="0.55"/>
<circle cx="408.53" cy="389.25" r="1.6" fill="#bd0a33"/>
<line x1="415.29" y1="387.18" x2="415.29" y2="378.89" stroke="#bd0a33" stroke-width="0.6"/>
<line x1="413.99" y1="387.18" x2="416.59" y2="387.18" stroke="#bd0a33" stroke-width="0.55"/>
<line x1="413.99" y1="378.89" x2="416.59" y2="378.89" stroke="#bd0a33" stroke-width="0.55"/>
<circle cx="415.29" cy="383.03" r="1.6" fill="#bd0a33"/>
<line x1="422.04" y1="393.69" x2="422.04" y2="387.77" stroke="#bd0a33" stroke-width="0.6"/>
<line x1="420.74" y1="393.69" x2="423.34" y2="393.69" stroke="#bd0a33" stroke-width="0.55"/>
<line x1="420.74" y1="387.77" x2="423.34" y2="387.77" stroke="#bd0a33" stroke-width="0.55"/>
<circle cx="422.04" cy="390.73" r="1.6" fill="#bd0a33"/>
<line x1="428.80" y1="411.45" x2="428.80" y2="400.79" stroke="#bd0a33" stroke-width="0.6"/>
<line x1="427.50" y1="411.45" x2="430.10" y2="411.45" stroke="#bd0a33" stroke-width="0.55"/>
<line x1="427.50" y1="400.79" x2="430.10" y2="400.79" stroke="#bd0a33" stroke-width="0.55"/>
<circle cx="428.80" cy="406.12" r="1.6" fill="#bd0a33"/>
<line x1="435.56" y1="430.99" x2="435.56" y2="425.07" stroke="#bd0a33" stroke-width="0.6"/>
<line x1="434.26" y1="430.99" x2="436.86" y2="430.99" stroke="#bd0a33" stroke-width="0.55"/>
<line x1="434.26" y1="425.07" x2="436.86" y2="425.07" stroke="#bd0a33" stroke-width="0.55"/>
<circle cx="435.56" cy="428.03" r="1.6" fill="#bd0a33"/>
<line x1="442.31" y1="437.50" x2="442.31" y2="435.13" stroke="#bd0a33" stroke-width="0.6"/>
<line x1="441.01" y1="437.50" x2="443.61" y2="437.50" stroke="#bd0a33" stroke-width="0.55"/>
<line x1="441.01" y1="435.13" x2="443.61" y2="435.13" stroke="#bd0a33" stroke-width="0.55"/>
<circle cx="442.31" cy="436.31" r="1.6" fill="#bd0a33"/>
<line x1="449.07" y1="439.87" x2="449.07" y2="438.68" stroke="#bd0a33" stroke-width="0.6"/>
<line x1="447.77" y1="439.87" x2="450.37" y2="439.87" stroke="#bd0a33" stroke-width="0.55"/>
<line x1="447.77" y1="438.68" x2="450.37" y2="438.68" stroke="#bd0a33" stroke-width="0.55"/>
<circle cx="449.07" cy="439.27" r="1.6" fill="#bd0a33"/>
<circle cx="455.83" cy="440.34" r="1.6" fill="#bd0a33"/>
<circle cx="462.58" cy="440.69" r="1.6" fill="#bd0a33"/>
<circle cx="469.34" cy="440.69" r="1.6" fill="#bd0a33"/>
<circle cx="476.10" cy="440.69" r="1.6" fill="#bd0a33"/>
<line x1="376.00" y1="349.55" x2="376.00" y2="441.75" stroke="#000" stroke-width="1.5"/>
<line x1="375.30" y1="441.05" x2="512.00" y2="441.05" stroke="#000" stroke-width="1.5"/>
<line x1="372.80" y1="352.25" x2="376.00" y2="352.25" stroke="#000" stroke-width="0.9"/>
<text x="370.60" y="354.55" font-size="6.5" text-anchor="end" fill="#000">1.5</text>
<line x1="372.80" y1="381.85" x2="376.00" y2="381.85" stroke="#000" stroke-width="0.9"/>
<text x="370.60" y="384.15" font-size="6.5" text-anchor="end" fill="#000">1.0</text>
<line x1="372.80" y1="411.45" x2="376.00" y2="411.45" stroke="#000" stroke-width="0.9"/>
<text x="370.60" y="413.75" font-size="6.5" text-anchor="end" fill="#000">0.5</text>
<line x1="372.80" y1="441.05" x2="376.00" y2="441.05" stroke="#000" stroke-width="0.9"/>
<text x="370.60" y="443.35" font-size="6.5" text-anchor="end" fill="#000">0.0</text>
<line x1="375.90" y1="441.05" x2="375.90" y2="444.05" stroke="#000" stroke-width="0.9"/>
<text x="375.70" y="452.95" font-size="6.5" text-anchor="middle" fill="#000">-2</text>
<line x1="409.30" y1="441.05" x2="409.30" y2="444.05" stroke="#000" stroke-width="0.9"/>
<text x="409.10" y="452.95" font-size="6.5" text-anchor="middle" fill="#000">-1</text>
<line x1="442.70" y1="441.05" x2="442.70" y2="444.05" stroke="#000" stroke-width="0.9"/>
<text x="442.50" y="452.95" font-size="6.5" text-anchor="middle" fill="#000">0</text>
<line x1="476.10" y1="441.05" x2="476.10" y2="444.05" stroke="#000" stroke-width="0.9"/>
<text x="475.90" y="452.95" font-size="6.5" text-anchor="middle" fill="#000">1</text>
<line x1="509.50" y1="441.05" x2="509.50" y2="444.05" stroke="#000" stroke-width="0.9"/>
<text x="509.30" y="452.95" font-size="6.5" text-anchor="middle" fill="#000">2</text>
<line x1="385.95" y1="441.05" x2="385.95" y2="442.65" stroke="#000" stroke-width="0.5"/>
<line x1="391.84" y1="441.05" x2="391.84" y2="442.65" stroke="#000" stroke-width="0.5"/>
<line x1="396.01" y1="441.05" x2="396.01" y2="442.65" stroke="#000" stroke-width="0.5"/>
<line x1="399.25" y1="441.05" x2="399.25" y2="442.65" stroke="#000" stroke-width="0.5"/>
<line x1="401.89" y1="441.05" x2="401.89" y2="442.65" stroke="#000" stroke-width="0.5"/>
<line x1="404.13" y1="441.05" x2="404.13" y2="442.65" stroke="#000" stroke-width="0.5"/>
<line x1="406.06" y1="441.05" x2="406.06" y2="442.65" stroke="#000" stroke-width="0.5"/>
<line x1="407.77" y1="441.05" x2="407.77" y2="442.65" stroke="#000" stroke-width="0.5"/>
<line x1="419.35" y1="441.05" x2="419.35" y2="442.65" stroke="#000" stroke-width="0.5"/>
<line x1="425.24" y1="441.05" x2="425.24" y2="442.65" stroke="#000" stroke-width="0.5"/>
<line x1="429.41" y1="441.05" x2="429.41" y2="442.65" stroke="#000" stroke-width="0.5"/>
<line x1="432.65" y1="441.05" x2="432.65" y2="442.65" stroke="#000" stroke-width="0.5"/>
<line x1="435.29" y1="441.05" x2="435.29" y2="442.65" stroke="#000" stroke-width="0.5"/>
<line x1="437.53" y1="441.05" x2="437.53" y2="442.65" stroke="#000" stroke-width="0.5"/>
<line x1="439.46" y1="441.05" x2="439.46" y2="442.65" stroke="#000" stroke-width="0.5"/>
<line x1="441.17" y1="441.05" x2="441.17" y2="442.65" stroke="#000" stroke-width="0.5"/>
<line x1="452.75" y1="441.05" x2="452.75" y2="442.65" stroke="#000" stroke-width="0.5"/>
<line x1="458.64" y1="441.05" x2="458.64" y2="442.65" stroke="#000" stroke-width="0.5"/>
<line x1="462.81" y1="441.05" x2="462.81" y2="442.65" stroke="#000" stroke-width="0.5"/>
<line x1="466.05" y1="441.05" x2="466.05" y2="442.65" stroke="#000" stroke-width="0.5"/>
<line x1="468.69" y1="441.05" x2="468.69" y2="442.65" stroke="#000" stroke-width="0.5"/>
<line x1="470.93" y1="441.05" x2="470.93" y2="442.65" stroke="#000" stroke-width="0.5"/>
<line x1="472.86" y1="441.05" x2="472.86" y2="442.65" stroke="#000" stroke-width="0.5"/>
<line x1="474.57" y1="441.05" x2="474.57" y2="442.65" stroke="#000" stroke-width="0.5"/>
<line x1="486.15" y1="441.05" x2="486.15" y2="442.65" stroke="#000" stroke-width="0.5"/>
<line x1="492.04" y1="441.05" x2="492.04" y2="442.65" stroke="#000" stroke-width="0.5"/>
<line x1="496.21" y1="441.05" x2="496.21" y2="442.65" stroke="#000" stroke-width="0.5"/>
<line x1="499.45" y1="441.05" x2="499.45" y2="442.65" stroke="#000" stroke-width="0.5"/>
<line x1="502.09" y1="441.05" x2="502.09" y2="442.65" stroke="#000" stroke-width="0.5"/>
<line x1="504.33" y1="441.05" x2="504.33" y2="442.65" stroke="#000" stroke-width="0.5"/>
<line x1="506.26" y1="441.05" x2="506.26" y2="442.65" stroke="#000" stroke-width="0.5"/>
<line x1="507.97" y1="441.05" x2="507.97" y2="442.65" stroke="#000" stroke-width="0.5"/>
<text x="444.00" y="465.00" font-size="8.3" text-anchor="middle" fill="#000">log10[Pom]</text>
<text x="356.20" y="395.05" font-size="8.3" text-anchor="middle" fill="#000" transform="rotate(-90 356.20 395.05)">Relative viability/DMSO</text>
<path d="M388.26,517.33 L395.01,513.78 L401.77,516.74 L408.53,515.56 L415.29,518.52 L422.04,510.82 L428.80,516.74 L435.56,510.82 L442.31,511.71 L449.07,512.30 L455.83,529.17 L462.58,544.56 L469.34,559.96 L476.10,571.80" fill="none" stroke="#1f4b8e" stroke-width="1.6" stroke-linejoin="round"/>
<line x1="388.26" y1="519.11" x2="388.26" y2="515.56" stroke="#1f4b8e" stroke-width="0.6"/>
<line x1="386.96" y1="519.11" x2="389.56" y2="519.11" stroke="#1f4b8e" stroke-width="0.55"/>
<line x1="386.96" y1="515.56" x2="389.56" y2="515.56" stroke="#1f4b8e" stroke-width="0.55"/>
<path d="M388.26,519.25 L390.10,515.89 L386.42,515.89 Z" fill="#1f4b8e"/>
<line x1="395.01" y1="516.74" x2="395.01" y2="510.82" stroke="#1f4b8e" stroke-width="0.6"/>
<line x1="393.71" y1="516.74" x2="396.31" y2="516.74" stroke="#1f4b8e" stroke-width="0.55"/>
<line x1="393.71" y1="510.82" x2="396.31" y2="510.82" stroke="#1f4b8e" stroke-width="0.55"/>
<path d="M395.01,515.70 L396.85,512.34 L393.17,512.34 Z" fill="#1f4b8e"/>
<line x1="401.77" y1="518.52" x2="401.77" y2="514.96" stroke="#1f4b8e" stroke-width="0.6"/>
<line x1="400.47" y1="518.52" x2="403.07" y2="518.52" stroke="#1f4b8e" stroke-width="0.55"/>
<line x1="400.47" y1="514.96" x2="403.07" y2="514.96" stroke="#1f4b8e" stroke-width="0.55"/>
<path d="M401.77,518.66 L403.61,515.30 L399.93,515.30 Z" fill="#1f4b8e"/>
<line x1="408.53" y1="517.92" x2="408.53" y2="513.19" stroke="#1f4b8e" stroke-width="0.6"/>
<line x1="407.23" y1="517.92" x2="409.83" y2="517.92" stroke="#1f4b8e" stroke-width="0.55"/>
<line x1="407.23" y1="513.19" x2="409.83" y2="513.19" stroke="#1f4b8e" stroke-width="0.55"/>
<path d="M408.53,517.48 L410.37,514.12 L406.69,514.12 Z" fill="#1f4b8e"/>
<line x1="415.29" y1="520.29" x2="415.29" y2="516.74" stroke="#1f4b8e" stroke-width="0.6"/>
<line x1="413.99" y1="520.29" x2="416.59" y2="520.29" stroke="#1f4b8e" stroke-width="0.55"/>
<line x1="413.99" y1="516.74" x2="416.59" y2="516.74" stroke="#1f4b8e" stroke-width="0.55"/>
<path d="M415.29,520.44 L417.13,517.08 L413.45,517.08 Z" fill="#1f4b8e"/>
<line x1="422.04" y1="512.60" x2="422.04" y2="509.04" stroke="#1f4b8e" stroke-width="0.6"/>
<line x1="420.74" y1="512.60" x2="423.34" y2="512.60" stroke="#1f4b8e" stroke-width="0.55"/>
<line x1="420.74" y1="509.04" x2="423.34" y2="509.04" stroke="#1f4b8e" stroke-width="0.55"/>
<path d="M422.04,512.74 L423.88,509.38 L420.20,509.38 Z" fill="#1f4b8e"/>
<line x1="428.80" y1="519.11" x2="428.80" y2="514.37" stroke="#1f4b8e" stroke-width="0.6"/>
<line x1="427.50" y1="519.11" x2="430.10" y2="519.11" stroke="#1f4b8e" stroke-width="0.55"/>
<line x1="427.50" y1="514.37" x2="430.10" y2="514.37" stroke="#1f4b8e" stroke-width="0.55"/>
<path d="M428.80,518.66 L430.64,515.30 L426.96,515.30 Z" fill="#1f4b8e"/>
<line x1="435.56" y1="512.60" x2="435.56" y2="509.04" stroke="#1f4b8e" stroke-width="0.6"/>
<line x1="434.26" y1="512.60" x2="436.86" y2="512.60" stroke="#1f4b8e" stroke-width="0.55"/>
<line x1="434.26" y1="509.04" x2="436.86" y2="509.04" stroke="#1f4b8e" stroke-width="0.55"/>
<path d="M435.56,512.74 L437.40,509.38 L433.72,509.38 Z" fill="#1f4b8e"/>
<line x1="442.31" y1="514.67" x2="442.31" y2="508.75" stroke="#1f4b8e" stroke-width="0.6"/>
<line x1="441.01" y1="514.67" x2="443.61" y2="514.67" stroke="#1f4b8e" stroke-width="0.55"/>
<line x1="441.01" y1="508.75" x2="443.61" y2="508.75" stroke="#1f4b8e" stroke-width="0.55"/>
<path d="M442.31,513.63 L444.15,510.27 L440.47,510.27 Z" fill="#1f4b8e"/>
<line x1="449.07" y1="514.08" x2="449.07" y2="510.52" stroke="#1f4b8e" stroke-width="0.6"/>
<line x1="447.77" y1="514.08" x2="450.37" y2="514.08" stroke="#1f4b8e" stroke-width="0.55"/>
<line x1="447.77" y1="510.52" x2="450.37" y2="510.52" stroke="#1f4b8e" stroke-width="0.55"/>
<path d="M449.07,514.22 L450.91,510.86 L447.23,510.86 Z" fill="#1f4b8e"/>
<line x1="455.83" y1="530.95" x2="455.83" y2="527.40" stroke="#1f4b8e" stroke-width="0.6"/>
<line x1="454.53" y1="530.95" x2="457.13" y2="530.95" stroke="#1f4b8e" stroke-width="0.55"/>
<line x1="454.53" y1="527.40" x2="457.13" y2="527.40" stroke="#1f4b8e" stroke-width="0.55"/>
<path d="M455.83,531.09 L457.67,527.73 L453.99,527.73 Z" fill="#1f4b8e"/>
<line x1="462.58" y1="546.93" x2="462.58" y2="542.20" stroke="#1f4b8e" stroke-width="0.6"/>
<line x1="461.28" y1="546.93" x2="463.88" y2="546.93" stroke="#1f4b8e" stroke-width="0.55"/>
<line x1="461.28" y1="542.20" x2="463.88" y2="542.20" stroke="#1f4b8e" stroke-width="0.55"/>
<path d="M462.58,546.48 L464.42,543.12 L460.74,543.12 Z" fill="#1f4b8e"/>
<line x1="469.34" y1="561.14" x2="469.34" y2="558.77" stroke="#1f4b8e" stroke-width="0.6"/>
<line x1="468.04" y1="561.14" x2="470.64" y2="561.14" stroke="#1f4b8e" stroke-width="0.55"/>
<line x1="468.04" y1="558.77" x2="470.64" y2="558.77" stroke="#1f4b8e" stroke-width="0.55"/>
<path d="M469.34,561.88 L471.18,558.52 L467.50,558.52 Z" fill="#1f4b8e"/>
<line x1="476.10" y1="572.98" x2="476.10" y2="570.61" stroke="#1f4b8e" stroke-width="0.6"/>
<line x1="474.80" y1="572.98" x2="477.40" y2="572.98" stroke="#1f4b8e" stroke-width="0.55"/>
<line x1="474.80" y1="570.61" x2="477.40" y2="570.61" stroke="#1f4b8e" stroke-width="0.55"/>
<path d="M476.10,573.72 L477.94,570.36 L474.26,570.36 Z" fill="#1f4b8e"/>
<path d="M388.26,519.70 L395.01,516.15 L401.77,518.52 L408.53,516.74 L415.29,519.70 L422.04,518.52 L428.80,519.70 L435.56,518.52 L442.31,520.29 L449.07,520.29 L455.83,530.95 L462.58,543.38 L469.34,566.47 L476.10,574.16" fill="none" stroke="#4b1d70" stroke-width="1.6" stroke-linejoin="round"/>
<line x1="388.26" y1="521.48" x2="388.26" y2="517.92" stroke="#4b1d70" stroke-width="0.6"/>
<line x1="386.96" y1="521.48" x2="389.56" y2="521.48" stroke="#4b1d70" stroke-width="0.55"/>
<line x1="386.96" y1="517.92" x2="389.56" y2="517.92" stroke="#4b1d70" stroke-width="0.55"/>
<path d="M388.26,517.78 L390.10,521.14 L386.42,521.14 Z" fill="#4b1d70"/>
<line x1="395.01" y1="519.11" x2="395.01" y2="513.19" stroke="#4b1d70" stroke-width="0.6"/>
<line x1="393.71" y1="519.11" x2="396.31" y2="519.11" stroke="#4b1d70" stroke-width="0.55"/>
<line x1="393.71" y1="513.19" x2="396.31" y2="513.19" stroke="#4b1d70" stroke-width="0.55"/>
<path d="M395.01,514.23 L396.85,517.59 L393.17,517.59 Z" fill="#4b1d70"/>
<line x1="401.77" y1="520.88" x2="401.77" y2="516.15" stroke="#4b1d70" stroke-width="0.6"/>
<line x1="400.47" y1="520.88" x2="403.07" y2="520.88" stroke="#4b1d70" stroke-width="0.55"/>
<line x1="400.47" y1="516.15" x2="403.07" y2="516.15" stroke="#4b1d70" stroke-width="0.55"/>
<path d="M401.77,516.60 L403.61,519.96 L399.93,519.96 Z" fill="#4b1d70"/>
<line x1="408.53" y1="519.11" x2="408.53" y2="514.37" stroke="#4b1d70" stroke-width="0.6"/>
<line x1="407.23" y1="519.11" x2="409.83" y2="519.11" stroke="#4b1d70" stroke-width="0.55"/>
<line x1="407.23" y1="514.37" x2="409.83" y2="514.37" stroke="#4b1d70" stroke-width="0.55"/>
<path d="M408.53,514.82 L410.37,518.18 L406.69,518.18 Z" fill="#4b1d70"/>
<line x1="415.29" y1="522.66" x2="415.29" y2="516.74" stroke="#4b1d70" stroke-width="0.6"/>
<line x1="413.99" y1="522.66" x2="416.59" y2="522.66" stroke="#4b1d70" stroke-width="0.55"/>
<line x1="413.99" y1="516.74" x2="416.59" y2="516.74" stroke="#4b1d70" stroke-width="0.55"/>
<path d="M415.29,517.78 L417.13,521.14 L413.45,521.14 Z" fill="#4b1d70"/>
<line x1="422.04" y1="522.07" x2="422.04" y2="514.96" stroke="#4b1d70" stroke-width="0.6"/>
<line x1="420.74" y1="522.07" x2="423.34" y2="522.07" stroke="#4b1d70" stroke-width="0.55"/>
<line x1="420.74" y1="514.96" x2="423.34" y2="514.96" stroke="#4b1d70" stroke-width="0.55"/>
<path d="M422.04,516.60 L423.88,519.96 L420.20,519.96 Z" fill="#4b1d70"/>
<line x1="428.80" y1="523.84" x2="428.80" y2="515.56" stroke="#4b1d70" stroke-width="0.6"/>
<line x1="427.50" y1="523.84" x2="430.10" y2="523.84" stroke="#4b1d70" stroke-width="0.55"/>
<line x1="427.50" y1="515.56" x2="430.10" y2="515.56" stroke="#4b1d70" stroke-width="0.55"/>
<path d="M428.80,517.78 L430.64,521.14 L426.96,521.14 Z" fill="#4b1d70"/>
<line x1="435.56" y1="522.07" x2="435.56" y2="514.96" stroke="#4b1d70" stroke-width="0.6"/>
<line x1="434.26" y1="522.07" x2="436.86" y2="522.07" stroke="#4b1d70" stroke-width="0.55"/>
<line x1="434.26" y1="514.96" x2="436.86" y2="514.96" stroke="#4b1d70" stroke-width="0.55"/>
<path d="M435.56,516.60 L437.40,519.96 L433.72,519.96 Z" fill="#4b1d70"/>
<line x1="442.31" y1="523.84" x2="442.31" y2="516.74" stroke="#4b1d70" stroke-width="0.6"/>
<line x1="441.01" y1="523.84" x2="443.61" y2="523.84" stroke="#4b1d70" stroke-width="0.55"/>
<line x1="441.01" y1="516.74" x2="443.61" y2="516.74" stroke="#4b1d70" stroke-width="0.55"/>
<path d="M442.31,518.37 L444.15,521.73 L440.47,521.73 Z" fill="#4b1d70"/>
<line x1="449.07" y1="522.66" x2="449.07" y2="517.92" stroke="#4b1d70" stroke-width="0.6"/>
<line x1="447.77" y1="522.66" x2="450.37" y2="522.66" stroke="#4b1d70" stroke-width="0.55"/>
<line x1="447.77" y1="517.92" x2="450.37" y2="517.92" stroke="#4b1d70" stroke-width="0.55"/>
<path d="M449.07,518.37 L450.91,521.73 L447.23,521.73 Z" fill="#4b1d70"/>
<line x1="455.83" y1="532.72" x2="455.83" y2="529.17" stroke="#4b1d70" stroke-width="0.6"/>
<line x1="454.53" y1="532.72" x2="457.13" y2="532.72" stroke="#4b1d70" stroke-width="0.55"/>
<line x1="454.53" y1="529.17" x2="457.13" y2="529.17" stroke="#4b1d70" stroke-width="0.55"/>
<path d="M455.83,529.03 L457.67,532.39 L453.99,532.39 Z" fill="#4b1d70"/>
<line x1="462.58" y1="546.34" x2="462.58" y2="540.42" stroke="#4b1d70" stroke-width="0.6"/>
<line x1="461.28" y1="546.34" x2="463.88" y2="546.34" stroke="#4b1d70" stroke-width="0.55"/>
<line x1="461.28" y1="540.42" x2="463.88" y2="540.42" stroke="#4b1d70" stroke-width="0.55"/>
<path d="M462.58,541.46 L464.42,544.82 L460.74,544.82 Z" fill="#4b1d70"/>
<line x1="469.34" y1="567.65" x2="469.34" y2="565.28" stroke="#4b1d70" stroke-width="0.6"/>
<line x1="468.04" y1="567.65" x2="470.64" y2="567.65" stroke="#4b1d70" stroke-width="0.55"/>
<line x1="468.04" y1="565.28" x2="470.64" y2="565.28" stroke="#4b1d70" stroke-width="0.55"/>
<path d="M469.34,564.55 L471.18,567.91 L467.50,567.91 Z" fill="#4b1d70"/>
<line x1="476.10" y1="575.35" x2="476.10" y2="572.98" stroke="#4b1d70" stroke-width="0.6"/>
<line x1="474.80" y1="575.35" x2="477.40" y2="575.35" stroke="#4b1d70" stroke-width="0.55"/>
<line x1="474.80" y1="572.98" x2="477.40" y2="572.98" stroke="#4b1d70" stroke-width="0.55"/>
<path d="M476.10,572.24 L477.94,575.60 L474.26,575.60 Z" fill="#4b1d70"/>
<path d="M388.26,521.48 L395.01,516.15 L401.77,518.52 L408.53,515.56 L415.29,520.29 L422.04,539.83 L428.80,569.43 L435.56,576.83 L442.31,578.54 L449.07,578.60 L455.83,578.60 L462.58,578.60 L469.34,578.60 L476.10,578.60" fill="none" stroke="#69b93a" stroke-width="1.6" stroke-linejoin="round"/>
<line x1="388.26" y1="525.03" x2="388.26" y2="517.92" stroke="#69b93a" stroke-width="0.6"/>
<line x1="386.96" y1="525.03" x2="389.56" y2="525.03" stroke="#69b93a" stroke-width="0.55"/>
<line x1="386.96" y1="517.92" x2="389.56" y2="517.92" stroke="#69b93a" stroke-width="0.55"/>
<rect x="386.66" y="519.88" width="3.2" height="3.2" fill="#69b93a"/>
<line x1="395.01" y1="519.70" x2="395.01" y2="512.60" stroke="#69b93a" stroke-width="0.6"/>
<line x1="393.71" y1="519.70" x2="396.31" y2="519.70" stroke="#69b93a" stroke-width="0.55"/>
<line x1="393.71" y1="512.60" x2="396.31" y2="512.60" stroke="#69b93a" stroke-width="0.55"/>
<rect x="393.41" y="514.55" width="3.2" height="3.2" fill="#69b93a"/>
<line x1="401.77" y1="521.48" x2="401.77" y2="515.56" stroke="#69b93a" stroke-width="0.6"/>
<line x1="400.47" y1="521.48" x2="403.07" y2="521.48" stroke="#69b93a" stroke-width="0.55"/>
<line x1="400.47" y1="515.56" x2="403.07" y2="515.56" stroke="#69b93a" stroke-width="0.55"/>
<rect x="400.17" y="516.92" width="3.2" height="3.2" fill="#69b93a"/>
<line x1="408.53" y1="520.88" x2="408.53" y2="510.23" stroke="#69b93a" stroke-width="0.6"/>
<line x1="407.23" y1="520.88" x2="409.83" y2="520.88" stroke="#69b93a" stroke-width="0.55"/>
<line x1="407.23" y1="510.23" x2="409.83" y2="510.23" stroke="#69b93a" stroke-width="0.55"/>
<rect x="406.93" y="513.96" width="3.2" height="3.2" fill="#69b93a"/>
<line x1="415.29" y1="522.66" x2="415.29" y2="517.92" stroke="#69b93a" stroke-width="0.6"/>
<line x1="413.99" y1="522.66" x2="416.59" y2="522.66" stroke="#69b93a" stroke-width="0.55"/>
<line x1="413.99" y1="517.92" x2="416.59" y2="517.92" stroke="#69b93a" stroke-width="0.55"/>
<rect x="413.69" y="518.69" width="3.2" height="3.2" fill="#69b93a"/>
<line x1="422.04" y1="541.60" x2="422.04" y2="538.05" stroke="#69b93a" stroke-width="0.6"/>
<line x1="420.74" y1="541.60" x2="423.34" y2="541.60" stroke="#69b93a" stroke-width="0.55"/>
<line x1="420.74" y1="538.05" x2="423.34" y2="538.05" stroke="#69b93a" stroke-width="0.55"/>
<rect x="420.44" y="538.23" width="3.2" height="3.2" fill="#69b93a"/>
<line x1="428.80" y1="570.61" x2="428.80" y2="568.24" stroke="#69b93a" stroke-width="0.6"/>
<line x1="427.50" y1="570.61" x2="430.10" y2="570.61" stroke="#69b93a" stroke-width="0.55"/>
<line x1="427.50" y1="568.24" x2="430.10" y2="568.24" stroke="#69b93a" stroke-width="0.55"/>
<rect x="427.20" y="567.83" width="3.2" height="3.2" fill="#69b93a"/>
<line x1="435.56" y1="577.42" x2="435.56" y2="576.24" stroke="#69b93a" stroke-width="0.6"/>
<line x1="434.26" y1="577.42" x2="436.86" y2="577.42" stroke="#69b93a" stroke-width="0.55"/>
<line x1="434.26" y1="576.24" x2="436.86" y2="576.24" stroke="#69b93a" stroke-width="0.55"/>
<rect x="433.96" y="575.23" width="3.2" height="3.2" fill="#69b93a"/>
<rect x="440.71" y="576.94" width="3.2" height="3.2" fill="#69b93a"/>
<rect x="447.47" y="577.00" width="3.2" height="3.2" fill="#69b93a"/>
<rect x="454.23" y="577.00" width="3.2" height="3.2" fill="#69b93a"/>
<rect x="460.98" y="577.00" width="3.2" height="3.2" fill="#69b93a"/>
<rect x="467.74" y="577.00" width="3.2" height="3.2" fill="#69b93a"/>
<rect x="474.50" y="577.00" width="3.2" height="3.2" fill="#69b93a"/>
<path d="M388.26,520.88 L395.01,518.52 L401.77,519.70 L408.53,519.70 L415.29,520.88 L422.04,529.17 L428.80,544.56 L435.56,570.91 L442.31,577.12 L449.07,578.19 L455.83,578.43 L462.58,578.54 L469.34,578.54 L476.10,578.54" fill="none" stroke="#bd0a33" stroke-width="1.6" stroke-linejoin="round"/>
<line x1="388.26" y1="523.84" x2="388.26" y2="517.92" stroke="#bd0a33" stroke-width="0.6"/>
<line x1="386.96" y1="523.84" x2="389.56" y2="523.84" stroke="#bd0a33" stroke-width="0.55"/>
<line x1="386.96" y1="517.92" x2="389.56" y2="517.92" stroke="#bd0a33" stroke-width="0.55"/>
<circle cx="388.26" cy="520.88" r="1.6" fill="#bd0a33"/>
<line x1="395.01" y1="521.48" x2="395.01" y2="515.56" stroke="#bd0a33" stroke-width="0.6"/>
<line x1="393.71" y1="521.48" x2="396.31" y2="521.48" stroke="#bd0a33" stroke-width="0.55"/>
<line x1="393.71" y1="515.56" x2="396.31" y2="515.56" stroke="#bd0a33" stroke-width="0.55"/>
<circle cx="395.01" cy="518.52" r="1.6" fill="#bd0a33"/>
<line x1="401.77" y1="522.66" x2="401.77" y2="516.74" stroke="#bd0a33" stroke-width="0.6"/>
<line x1="400.47" y1="522.66" x2="403.07" y2="522.66" stroke="#bd0a33" stroke-width="0.55"/>
<line x1="400.47" y1="516.74" x2="403.07" y2="516.74" stroke="#bd0a33" stroke-width="0.55"/>
<circle cx="401.77" cy="519.70" r="1.6" fill="#bd0a33"/>
<line x1="408.53" y1="522.66" x2="408.53" y2="516.74" stroke="#bd0a33" stroke-width="0.6"/>
<line x1="407.23" y1="522.66" x2="409.83" y2="522.66" stroke="#bd0a33" stroke-width="0.55"/>
<line x1="407.23" y1="516.74" x2="409.83" y2="516.74" stroke="#bd0a33" stroke-width="0.55"/>
<circle cx="408.53" cy="519.70" r="1.6" fill="#bd0a33"/>
<line x1="415.29" y1="523.25" x2="415.29" y2="518.52" stroke="#bd0a33" stroke-width="0.6"/>
<line x1="413.99" y1="523.25" x2="416.59" y2="523.25" stroke="#bd0a33" stroke-width="0.55"/>
<line x1="413.99" y1="518.52" x2="416.59" y2="518.52" stroke="#bd0a33" stroke-width="0.55"/>
<circle cx="415.29" cy="520.88" r="1.6" fill="#bd0a33"/>
<line x1="422.04" y1="531.54" x2="422.04" y2="526.80" stroke="#bd0a33" stroke-width="0.6"/>
<line x1="420.74" y1="531.54" x2="423.34" y2="531.54" stroke="#bd0a33" stroke-width="0.55"/>
<line x1="420.74" y1="526.80" x2="423.34" y2="526.80" stroke="#bd0a33" stroke-width="0.55"/>
<circle cx="422.04" cy="529.17" r="1.6" fill="#bd0a33"/>
<line x1="428.80" y1="548.71" x2="428.80" y2="540.42" stroke="#bd0a33" stroke-width="0.6"/>
<line x1="427.50" y1="548.71" x2="430.10" y2="548.71" stroke="#bd0a33" stroke-width="0.55"/>
<line x1="427.50" y1="540.42" x2="430.10" y2="540.42" stroke="#bd0a33" stroke-width="0.55"/>
<circle cx="428.80" cy="544.56" r="1.6" fill="#bd0a33"/>
<line x1="435.56" y1="572.68" x2="435.56" y2="569.13" stroke="#bd0a33" stroke-width="0.6"/>
<line x1="434.26" y1="572.68" x2="436.86" y2="572.68" stroke="#bd0a33" stroke-width="0.55"/>
<line x1="434.26" y1="569.13" x2="436.86" y2="569.13" stroke="#bd0a33" stroke-width="0.55"/>
<circle cx="435.56" cy="570.91" r="1.6" fill="#bd0a33"/>
<line x1="442.31" y1="577.72" x2="442.31" y2="576.53" stroke="#bd0a33" stroke-width="0.6"/>
<line x1="441.01" y1="577.72" x2="443.61" y2="577.72" stroke="#bd0a33" stroke-width="0.55"/>
<line x1="441.01" y1="576.53" x2="443.61" y2="576.53" stroke="#bd0a33" stroke-width="0.55"/>
<circle cx="442.31" cy="577.12" r="1.6" fill="#bd0a33"/>
<circle cx="449.07" cy="578.19" r="1.6" fill="#bd0a33"/>
<circle cx="455.83" cy="578.43" r="1.6" fill="#bd0a33"/>
<circle cx="462.58" cy="578.54" r="1.6" fill="#bd0a33"/>
<circle cx="469.34" cy="578.54" r="1.6" fill="#bd0a33"/>
<circle cx="476.10" cy="578.54" r="1.6" fill="#bd0a33"/>
<line x1="376.00" y1="487.40" x2="376.00" y2="579.60" stroke="#000" stroke-width="1.5"/>
<line x1="375.30" y1="578.90" x2="512.00" y2="578.90" stroke="#000" stroke-width="1.5"/>
<line x1="372.80" y1="490.10" x2="376.00" y2="490.10" stroke="#000" stroke-width="0.9"/>
<text x="370.60" y="492.40" font-size="6.5" text-anchor="end" fill="#000">1.5</text>
<line x1="372.80" y1="519.70" x2="376.00" y2="519.70" stroke="#000" stroke-width="0.9"/>
<text x="370.60" y="522.00" font-size="6.5" text-anchor="end" fill="#000">1.0</text>
<line x1="372.80" y1="549.30" x2="376.00" y2="549.30" stroke="#000" stroke-width="0.9"/>
<text x="370.60" y="551.60" font-size="6.5" text-anchor="end" fill="#000">0.5</text>
<line x1="372.80" y1="578.90" x2="376.00" y2="578.90" stroke="#000" stroke-width="0.9"/>
<text x="370.60" y="581.20" font-size="6.5" text-anchor="end" fill="#000">0.0</text>
<line x1="375.90" y1="578.90" x2="375.90" y2="581.90" stroke="#000" stroke-width="0.9"/>
<text x="375.70" y="590.80" font-size="6.5" text-anchor="middle" fill="#000">-2</text>
<line x1="409.30" y1="578.90" x2="409.30" y2="581.90" stroke="#000" stroke-width="0.9"/>
<text x="409.10" y="590.80" font-size="6.5" text-anchor="middle" fill="#000">-1</text>
<line x1="442.70" y1="578.90" x2="442.70" y2="581.90" stroke="#000" stroke-width="0.9"/>
<text x="442.50" y="590.80" font-size="6.5" text-anchor="middle" fill="#000">0</text>
<line x1="476.10" y1="578.90" x2="476.10" y2="581.90" stroke="#000" stroke-width="0.9"/>
<text x="475.90" y="590.80" font-size="6.5" text-anchor="middle" fill="#000">1</text>
<line x1="509.50" y1="578.90" x2="509.50" y2="581.90" stroke="#000" stroke-width="0.9"/>
<text x="509.30" y="590.80" font-size="6.5" text-anchor="middle" fill="#000">2</text>
<line x1="385.95" y1="578.90" x2="385.95" y2="580.50" stroke="#000" stroke-width="0.5"/>
<line x1="391.84" y1="578.90" x2="391.84" y2="580.50" stroke="#000" stroke-width="0.5"/>
<line x1="396.01" y1="578.90" x2="396.01" y2="580.50" stroke="#000" stroke-width="0.5"/>
<line x1="399.25" y1="578.90" x2="399.25" y2="580.50" stroke="#000" stroke-width="0.5"/>
<line x1="401.89" y1="578.90" x2="401.89" y2="580.50" stroke="#000" stroke-width="0.5"/>
<line x1="404.13" y1="578.90" x2="404.13" y2="580.50" stroke="#000" stroke-width="0.5"/>
<line x1="406.06" y1="578.90" x2="406.06" y2="580.50" stroke="#000" stroke-width="0.5"/>
<line x1="407.77" y1="578.90" x2="407.77" y2="580.50" stroke="#000" stroke-width="0.5"/>
<line x1="419.35" y1="578.90" x2="419.35" y2="580.50" stroke="#000" stroke-width="0.5"/>
<line x1="425.24" y1="578.90" x2="425.24" y2="580.50" stroke="#000" stroke-width="0.5"/>
<line x1="429.41" y1="578.90" x2="429.41" y2="580.50" stroke="#000" stroke-width="0.5"/>
<line x1="432.65" y1="578.90" x2="432.65" y2="580.50" stroke="#000" stroke-width="0.5"/>
<line x1="435.29" y1="578.90" x2="435.29" y2="580.50" stroke="#000" stroke-width="0.5"/>
<line x1="437.53" y1="578.90" x2="437.53" y2="580.50" stroke="#000" stroke-width="0.5"/>
<line x1="439.46" y1="578.90" x2="439.46" y2="580.50" stroke="#000" stroke-width="0.5"/>
<line x1="441.17" y1="578.90" x2="441.17" y2="580.50" stroke="#000" stroke-width="0.5"/>
<line x1="452.75" y1="578.90" x2="452.75" y2="580.50" stroke="#000" stroke-width="0.5"/>
<line x1="458.64" y1="578.90" x2="458.64" y2="580.50" stroke="#000" stroke-width="0.5"/>
<line x1="462.81" y1="578.90" x2="462.81" y2="580.50" stroke="#000" stroke-width="0.5"/>
<line x1="466.05" y1="578.90" x2="466.05" y2="580.50" stroke="#000" stroke-width="0.5"/>
<line x1="468.69" y1="578.90" x2="468.69" y2="580.50" stroke="#000" stroke-width="0.5"/>
<line x1="470.93" y1="578.90" x2="470.93" y2="580.50" stroke="#000" stroke-width="0.5"/>
<line x1="472.86" y1="578.90" x2="472.86" y2="580.50" stroke="#000" stroke-width="0.5"/>
<line x1="474.57" y1="578.90" x2="474.57" y2="580.50" stroke="#000" stroke-width="0.5"/>
<line x1="486.15" y1="578.90" x2="486.15" y2="580.50" stroke="#000" stroke-width="0.5"/>
<line x1="492.04" y1="578.90" x2="492.04" y2="580.50" stroke="#000" stroke-width="0.5"/>
<line x1="496.21" y1="578.90" x2="496.21" y2="580.50" stroke="#000" stroke-width="0.5"/>
<line x1="499.45" y1="578.90" x2="499.45" y2="580.50" stroke="#000" stroke-width="0.5"/>
<line x1="502.09" y1="578.90" x2="502.09" y2="580.50" stroke="#000" stroke-width="0.5"/>
<line x1="504.33" y1="578.90" x2="504.33" y2="580.50" stroke="#000" stroke-width="0.5"/>
<line x1="506.26" y1="578.90" x2="506.26" y2="580.50" stroke="#000" stroke-width="0.5"/>
<line x1="507.97" y1="578.90" x2="507.97" y2="580.50" stroke="#000" stroke-width="0.5"/>
<text x="444.00" y="603.20" font-size="8.3" text-anchor="middle" fill="#000">log10[CC122]</text>
<text x="356.20" y="532.90" font-size="8.3" text-anchor="middle" fill="#000" transform="rotate(-90 356.20 532.90)">Relative viability/DMSO</text>
</svg>
<div id="frame"></div>
</body></html>
